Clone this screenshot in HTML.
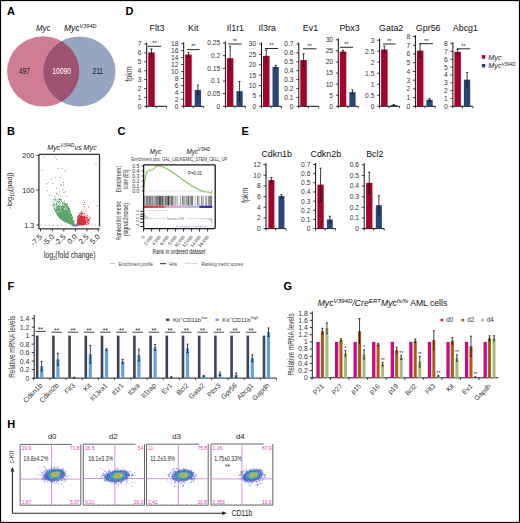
<!DOCTYPE html>
<html><head><meta charset="utf-8"><style>
html,body{margin:0;padding:0;background:#fff;}
svg{display:block;font-family:"Liberation Sans",sans-serif;}
</style></head><body>
<svg width="520" height="523" viewBox="0 0 520 523">
<defs><filter id="blur1" x="-20%" y="-40%" width="140%" height="180%"><feGaussianBlur stdDeviation="0.7"/></filter></defs>
<rect x="0" y="0" width="520" height="523" fill="#fff"/>
<text x="7" y="15" font-size="11" font-weight="bold" fill="#000">A</text>
<text x="125.5" y="15" font-size="11" font-weight="bold" fill="#000">D</text>
<text x="7" y="135" font-size="11" font-weight="bold" fill="#000">B</text>
<text x="117.6" y="135" font-size="11" font-weight="bold" fill="#000">C</text>
<text x="241.6" y="134.8" font-size="11" font-weight="bold" fill="#000">E</text>
<text x="7.6" y="290" font-size="11" font-weight="bold" fill="#000">F</text>
<text x="283.6" y="290.4" font-size="11" font-weight="bold" fill="#000">G</text>
<text x="7.2" y="427.6" font-size="11" font-weight="bold" fill="#000">H</text>
<ellipse cx="43.2" cy="71.4" rx="36.1" ry="35.2" fill="#d07d93"/>
<ellipse cx="79.4" cy="71.4" rx="36.1" ry="35.0" fill="#96a6c0"/>
<clipPath id="cpA"><ellipse cx="43.2" cy="71.4" rx="36.1" ry="35.2"/></clipPath>
<ellipse cx="79.4" cy="71.4" rx="36.1" ry="35.0" fill="#9e5271" clip-path="url(#cpA)"/>
<text x="36" y="30.5" font-size="8.5" font-style="italic" textLength="14.5" lengthAdjust="spacingAndGlyphs" fill="#111">Myc</text>
<text x="64" y="30.5" font-size="8.5" font-style="italic" fill="#111">Myc<tspan font-size="5.5" dy="-3">V394D</tspan></text>
<text x="24.4" y="74" font-size="8.2" text-anchor="middle" textLength="11.3" lengthAdjust="spacingAndGlyphs" fill="#1a1a1a">497</text>
<text x="61.6" y="74" font-size="8.2" text-anchor="middle" textLength="18.5" lengthAdjust="spacingAndGlyphs" fill="#fff">10090</text>
<text x="97.7" y="74" font-size="8.2" text-anchor="middle" textLength="10.4" lengthAdjust="spacingAndGlyphs" fill="#1a1a1a">211</text>
<line x1="146.7" y1="42.5" x2="146.7" y2="106.8" stroke="#111" stroke-width="1"/>
<line x1="146.2" y1="106.3" x2="166.7" y2="106.3" stroke="#111" stroke-width="1"/>
<line x1="146.7" y1="106.3" x2="146.7" y2="108.3" stroke="#111" stroke-width="0.8"/>
<line x1="156.2" y1="106.3" x2="156.2" y2="108.3" stroke="#111" stroke-width="0.8"/>
<line x1="166.7" y1="106.3" x2="166.7" y2="108.3" stroke="#111" stroke-width="0.8"/>
<line x1="144.2" y1="106.3" x2="146.7" y2="106.3" stroke="#111" stroke-width="0.8"/>
<text x="141.5" y="108.7" font-size="6.7" text-anchor="end" fill="#333">0</text>
<line x1="144.2" y1="97.4" x2="146.7" y2="97.4" stroke="#111" stroke-width="0.8"/>
<text x="141.5" y="99.8" font-size="6.7" text-anchor="end" fill="#333">1</text>
<line x1="144.2" y1="88.5" x2="146.7" y2="88.5" stroke="#111" stroke-width="0.8"/>
<text x="141.5" y="90.9" font-size="6.7" text-anchor="end" fill="#333">2</text>
<line x1="144.2" y1="79.6" x2="146.7" y2="79.6" stroke="#111" stroke-width="0.8"/>
<text x="141.5" y="82" font-size="6.7" text-anchor="end" fill="#333">3</text>
<line x1="144.2" y1="70.7" x2="146.7" y2="70.7" stroke="#111" stroke-width="0.8"/>
<text x="141.5" y="73.1" font-size="6.7" text-anchor="end" fill="#333">4</text>
<line x1="144.2" y1="61.8" x2="146.7" y2="61.8" stroke="#111" stroke-width="0.8"/>
<text x="141.5" y="64.2" font-size="6.7" text-anchor="end" fill="#333">5</text>
<line x1="144.2" y1="52.9" x2="146.7" y2="52.9" stroke="#111" stroke-width="0.8"/>
<text x="141.5" y="55.3" font-size="6.7" text-anchor="end" fill="#333">6</text>
<line x1="144.2" y1="44" x2="146.7" y2="44" stroke="#111" stroke-width="0.8"/>
<text x="141.5" y="46.4" font-size="6.7" text-anchor="end" fill="#333">7</text>
<rect x="148.2" y="52.45" width="6.5" height="53.84" fill="#a3042c"/>
<line x1="151.45" y1="48.89" x2="151.45" y2="56.02" stroke="#111" stroke-width="0.8"/>
<line x1="150.35" y1="48.89" x2="152.55" y2="48.89" stroke="#111" stroke-width="0.8"/>
<line x1="150.35" y1="56.02" x2="152.55" y2="56.02" stroke="#111" stroke-width="0.8"/>
<rect x="157.7" y="106.03" width="6.3" height="0.27" fill="#2a4678"/>
<line x1="147.7" y1="46.3" x2="161.2" y2="46.3" stroke="#111" stroke-width="0.9"/>
<text x="154.45" y="45.1" font-size="5.5" text-anchor="middle" fill="#111">**</text>
<text x="157" y="31.4" font-size="8.9" text-anchor="middle" fill="#111">Flt3</text>
<line x1="183.7" y1="42.2" x2="183.7" y2="106.8" stroke="#111" stroke-width="1"/>
<line x1="183.2" y1="106.3" x2="203.7" y2="106.3" stroke="#111" stroke-width="1"/>
<line x1="183.7" y1="106.3" x2="183.7" y2="108.3" stroke="#111" stroke-width="0.8"/>
<line x1="193.2" y1="106.3" x2="193.2" y2="108.3" stroke="#111" stroke-width="0.8"/>
<line x1="203.7" y1="106.3" x2="203.7" y2="108.3" stroke="#111" stroke-width="0.8"/>
<line x1="181.2" y1="106.3" x2="183.7" y2="106.3" stroke="#111" stroke-width="0.8"/>
<text x="178.5" y="108.7" font-size="6.7" text-anchor="end" fill="#333">0</text>
<line x1="181.2" y1="99.34" x2="183.7" y2="99.34" stroke="#111" stroke-width="0.8"/>
<text x="178.5" y="101.74" font-size="6.7" text-anchor="end" fill="#333">2</text>
<line x1="181.2" y1="92.39" x2="183.7" y2="92.39" stroke="#111" stroke-width="0.8"/>
<text x="178.5" y="94.79" font-size="6.7" text-anchor="end" fill="#333">4</text>
<line x1="181.2" y1="85.43" x2="183.7" y2="85.43" stroke="#111" stroke-width="0.8"/>
<text x="178.5" y="87.83" font-size="6.7" text-anchor="end" fill="#333">6</text>
<line x1="181.2" y1="78.48" x2="183.7" y2="78.48" stroke="#111" stroke-width="0.8"/>
<text x="178.5" y="80.88" font-size="6.7" text-anchor="end" fill="#333">8</text>
<line x1="181.2" y1="71.52" x2="183.7" y2="71.52" stroke="#111" stroke-width="0.8"/>
<text x="178.5" y="73.92" font-size="6.7" text-anchor="end" fill="#333">10</text>
<line x1="181.2" y1="64.57" x2="183.7" y2="64.57" stroke="#111" stroke-width="0.8"/>
<text x="178.5" y="66.97" font-size="6.7" text-anchor="end" fill="#333">12</text>
<line x1="181.2" y1="57.61" x2="183.7" y2="57.61" stroke="#111" stroke-width="0.8"/>
<text x="178.5" y="60.01" font-size="6.7" text-anchor="end" fill="#333">14</text>
<line x1="181.2" y1="50.66" x2="183.7" y2="50.66" stroke="#111" stroke-width="0.8"/>
<text x="178.5" y="53.06" font-size="6.7" text-anchor="end" fill="#333">16</text>
<line x1="181.2" y1="43.7" x2="183.7" y2="43.7" stroke="#111" stroke-width="0.8"/>
<text x="178.5" y="46.1" font-size="6.7" text-anchor="end" fill="#333">18</text>
<rect x="185.2" y="54.48" width="6.5" height="51.82" fill="#a3042c"/>
<line x1="188.45" y1="52.39" x2="188.45" y2="56.57" stroke="#111" stroke-width="0.8"/>
<line x1="187.35" y1="52.39" x2="189.55" y2="52.39" stroke="#111" stroke-width="0.8"/>
<line x1="187.35" y1="56.57" x2="189.55" y2="56.57" stroke="#111" stroke-width="0.8"/>
<rect x="194.7" y="89.95" width="6.3" height="16.35" fill="#2a4678"/>
<line x1="197.85" y1="85.09" x2="197.85" y2="94.82" stroke="#111" stroke-width="0.8"/>
<line x1="196.75" y1="85.09" x2="198.95" y2="85.09" stroke="#111" stroke-width="0.8"/>
<line x1="196.75" y1="94.82" x2="198.95" y2="94.82" stroke="#111" stroke-width="0.8"/>
<line x1="187" y1="49.6" x2="199.6" y2="49.6" stroke="#111" stroke-width="0.9"/>
<text x="193.3" y="48.4" font-size="5.5" text-anchor="middle" fill="#111">**</text>
<text x="193.2" y="31.4" font-size="8.9" text-anchor="middle" fill="#111">Kit</text>
<line x1="225.4" y1="41.5" x2="225.4" y2="106.8" stroke="#111" stroke-width="1"/>
<line x1="224.9" y1="106.3" x2="245.4" y2="106.3" stroke="#111" stroke-width="1"/>
<line x1="225.4" y1="106.3" x2="225.4" y2="108.3" stroke="#111" stroke-width="0.8"/>
<line x1="234.9" y1="106.3" x2="234.9" y2="108.3" stroke="#111" stroke-width="0.8"/>
<line x1="245.4" y1="106.3" x2="245.4" y2="108.3" stroke="#111" stroke-width="0.8"/>
<line x1="222.9" y1="106.3" x2="225.4" y2="106.3" stroke="#111" stroke-width="0.8"/>
<text x="220.2" y="108.7" font-size="6.7" text-anchor="end" fill="#333">0</text>
<line x1="222.9" y1="93.64" x2="225.4" y2="93.64" stroke="#111" stroke-width="0.8"/>
<text x="220.2" y="96.04" font-size="6.7" text-anchor="end" fill="#333">0.05</text>
<line x1="222.9" y1="80.98" x2="225.4" y2="80.98" stroke="#111" stroke-width="0.8"/>
<text x="220.2" y="83.38" font-size="6.7" text-anchor="end" fill="#333">0.1</text>
<line x1="222.9" y1="68.32" x2="225.4" y2="68.32" stroke="#111" stroke-width="0.8"/>
<text x="220.2" y="70.72" font-size="6.7" text-anchor="end" fill="#333">0.15</text>
<line x1="222.9" y1="55.66" x2="225.4" y2="55.66" stroke="#111" stroke-width="0.8"/>
<text x="220.2" y="58.06" font-size="6.7" text-anchor="end" fill="#333">0.2</text>
<line x1="222.9" y1="43" x2="225.4" y2="43" stroke="#111" stroke-width="0.8"/>
<text x="220.2" y="45.4" font-size="6.7" text-anchor="end" fill="#333">0.25</text>
<rect x="226.9" y="58.19" width="6.5" height="48.11" fill="#a3042c"/>
<line x1="230.15" y1="46.29" x2="230.15" y2="70.09" stroke="#111" stroke-width="0.8"/>
<line x1="229.05" y1="46.29" x2="231.25" y2="46.29" stroke="#111" stroke-width="0.8"/>
<line x1="229.05" y1="70.09" x2="231.25" y2="70.09" stroke="#111" stroke-width="0.8"/>
<rect x="236.4" y="91.11" width="6.3" height="15.19" fill="#2a4678"/>
<line x1="239.55" y1="81.49" x2="239.55" y2="100.73" stroke="#111" stroke-width="0.8"/>
<line x1="238.45" y1="81.49" x2="240.65" y2="81.49" stroke="#111" stroke-width="0.8"/>
<line x1="238.45" y1="100.73" x2="240.65" y2="100.73" stroke="#111" stroke-width="0.8"/>
<line x1="228" y1="44" x2="241.6" y2="44" stroke="#111" stroke-width="0.9"/>
<text x="234.8" y="42.8" font-size="5.5" text-anchor="middle" fill="#111">**</text>
<text x="235.4" y="31.4" font-size="8.9" text-anchor="middle" fill="#111">Il1r1</text>
<line x1="261.5" y1="42.5" x2="261.5" y2="106.8" stroke="#111" stroke-width="1"/>
<line x1="261" y1="106.3" x2="281.5" y2="106.3" stroke="#111" stroke-width="1"/>
<line x1="261.5" y1="106.3" x2="261.5" y2="108.3" stroke="#111" stroke-width="0.8"/>
<line x1="271" y1="106.3" x2="271" y2="108.3" stroke="#111" stroke-width="0.8"/>
<line x1="281.5" y1="106.3" x2="281.5" y2="108.3" stroke="#111" stroke-width="0.8"/>
<line x1="259" y1="106.3" x2="261.5" y2="106.3" stroke="#111" stroke-width="0.8"/>
<text x="256.3" y="108.7" font-size="6.7" text-anchor="end" fill="#333">0</text>
<line x1="259" y1="95.92" x2="261.5" y2="95.92" stroke="#111" stroke-width="0.8"/>
<text x="256.3" y="98.32" font-size="6.7" text-anchor="end" fill="#333">5</text>
<line x1="259" y1="85.53" x2="261.5" y2="85.53" stroke="#111" stroke-width="0.8"/>
<text x="256.3" y="87.93" font-size="6.7" text-anchor="end" fill="#333">10</text>
<line x1="259" y1="75.15" x2="261.5" y2="75.15" stroke="#111" stroke-width="0.8"/>
<text x="256.3" y="77.55" font-size="6.7" text-anchor="end" fill="#333">15</text>
<line x1="259" y1="64.77" x2="261.5" y2="64.77" stroke="#111" stroke-width="0.8"/>
<text x="256.3" y="67.17" font-size="6.7" text-anchor="end" fill="#333">20</text>
<line x1="259" y1="54.38" x2="261.5" y2="54.38" stroke="#111" stroke-width="0.8"/>
<text x="256.3" y="56.78" font-size="6.7" text-anchor="end" fill="#333">25</text>
<line x1="259" y1="44" x2="261.5" y2="44" stroke="#111" stroke-width="0.8"/>
<text x="256.3" y="46.4" font-size="6.7" text-anchor="end" fill="#333">30</text>
<rect x="263" y="55.84" width="6.5" height="50.46" fill="#a3042c"/>
<line x1="266.25" y1="50.02" x2="266.25" y2="61.65" stroke="#111" stroke-width="0.8"/>
<line x1="265.15" y1="50.02" x2="267.35" y2="50.02" stroke="#111" stroke-width="0.8"/>
<line x1="265.15" y1="61.65" x2="267.35" y2="61.65" stroke="#111" stroke-width="0.8"/>
<rect x="272.5" y="66.84" width="6.3" height="39.46" fill="#2a4678"/>
<line x1="275.65" y1="65.39" x2="275.65" y2="68.3" stroke="#111" stroke-width="0.8"/>
<line x1="274.55" y1="65.39" x2="276.75" y2="65.39" stroke="#111" stroke-width="0.8"/>
<line x1="274.55" y1="68.3" x2="276.75" y2="68.3" stroke="#111" stroke-width="0.8"/>
<line x1="265" y1="48.5" x2="278" y2="48.5" stroke="#111" stroke-width="0.9"/>
<text x="271.5" y="47.3" font-size="5.5" text-anchor="middle" fill="#111">**</text>
<text x="267.2" y="31.4" font-size="8.9" text-anchor="middle" fill="#111">Il3ra</text>
<line x1="298.8" y1="42.5" x2="298.8" y2="106.8" stroke="#111" stroke-width="1"/>
<line x1="298.3" y1="106.3" x2="318.8" y2="106.3" stroke="#111" stroke-width="1"/>
<line x1="298.8" y1="106.3" x2="298.8" y2="108.3" stroke="#111" stroke-width="0.8"/>
<line x1="308.3" y1="106.3" x2="308.3" y2="108.3" stroke="#111" stroke-width="0.8"/>
<line x1="318.8" y1="106.3" x2="318.8" y2="108.3" stroke="#111" stroke-width="0.8"/>
<line x1="296.3" y1="106.3" x2="298.8" y2="106.3" stroke="#111" stroke-width="0.8"/>
<text x="293.6" y="108.7" font-size="6.7" text-anchor="end" fill="#333">0</text>
<line x1="296.3" y1="97.4" x2="298.8" y2="97.4" stroke="#111" stroke-width="0.8"/>
<text x="293.6" y="99.8" font-size="6.7" text-anchor="end" fill="#333">0.1</text>
<line x1="296.3" y1="88.5" x2="298.8" y2="88.5" stroke="#111" stroke-width="0.8"/>
<text x="293.6" y="90.9" font-size="6.7" text-anchor="end" fill="#333">0.2</text>
<line x1="296.3" y1="79.6" x2="298.8" y2="79.6" stroke="#111" stroke-width="0.8"/>
<text x="293.6" y="82" font-size="6.7" text-anchor="end" fill="#333">0.3</text>
<line x1="296.3" y1="70.7" x2="298.8" y2="70.7" stroke="#111" stroke-width="0.8"/>
<text x="293.6" y="73.1" font-size="6.7" text-anchor="end" fill="#333">0.4</text>
<line x1="296.3" y1="61.8" x2="298.8" y2="61.8" stroke="#111" stroke-width="0.8"/>
<text x="293.6" y="64.2" font-size="6.7" text-anchor="end" fill="#333">0.5</text>
<line x1="296.3" y1="52.9" x2="298.8" y2="52.9" stroke="#111" stroke-width="0.8"/>
<text x="293.6" y="55.3" font-size="6.7" text-anchor="end" fill="#333">0.6</text>
<line x1="296.3" y1="44" x2="298.8" y2="44" stroke="#111" stroke-width="0.8"/>
<text x="293.6" y="46.4" font-size="6.7" text-anchor="end" fill="#333">0.7</text>
<rect x="300.3" y="60.02" width="6.5" height="46.28" fill="#a3042c"/>
<line x1="303.55" y1="53.79" x2="303.55" y2="66.25" stroke="#111" stroke-width="0.8"/>
<line x1="302.45" y1="53.79" x2="304.65" y2="53.79" stroke="#111" stroke-width="0.8"/>
<line x1="302.45" y1="66.25" x2="304.65" y2="66.25" stroke="#111" stroke-width="0.8"/>
<line x1="303" y1="48.8" x2="316.5" y2="48.8" stroke="#111" stroke-width="0.9"/>
<text x="309.75" y="47.6" font-size="5.5" text-anchor="middle" fill="#111">**</text>
<text x="310.5" y="31.4" font-size="8.9" text-anchor="middle" fill="#111">Ev1</text>
<line x1="338.3" y1="38.3" x2="338.3" y2="106.8" stroke="#111" stroke-width="1"/>
<line x1="337.8" y1="106.3" x2="358.3" y2="106.3" stroke="#111" stroke-width="1"/>
<line x1="338.3" y1="106.3" x2="338.3" y2="108.3" stroke="#111" stroke-width="0.8"/>
<line x1="347.8" y1="106.3" x2="347.8" y2="108.3" stroke="#111" stroke-width="0.8"/>
<line x1="358.3" y1="106.3" x2="358.3" y2="108.3" stroke="#111" stroke-width="0.8"/>
<line x1="335.8" y1="106.3" x2="338.3" y2="106.3" stroke="#111" stroke-width="0.8"/>
<text x="333.1" y="108.7" font-size="6.7" text-anchor="end" fill="#333">0</text>
<line x1="335.8" y1="95.22" x2="338.3" y2="95.22" stroke="#111" stroke-width="0.8"/>
<text x="333.1" y="97.62" font-size="6.7" text-anchor="end" fill="#333">5</text>
<line x1="335.8" y1="84.13" x2="338.3" y2="84.13" stroke="#111" stroke-width="0.8"/>
<text x="333.1" y="86.53" font-size="6.7" text-anchor="end" fill="#333">10</text>
<line x1="335.8" y1="73.05" x2="338.3" y2="73.05" stroke="#111" stroke-width="0.8"/>
<text x="333.1" y="75.45" font-size="6.7" text-anchor="end" fill="#333">15</text>
<line x1="335.8" y1="61.97" x2="338.3" y2="61.97" stroke="#111" stroke-width="0.8"/>
<text x="333.1" y="64.37" font-size="6.7" text-anchor="end" fill="#333">20</text>
<line x1="335.8" y1="50.88" x2="338.3" y2="50.88" stroke="#111" stroke-width="0.8"/>
<text x="333.1" y="53.28" font-size="6.7" text-anchor="end" fill="#333">25</text>
<line x1="335.8" y1="39.8" x2="338.3" y2="39.8" stroke="#111" stroke-width="0.8"/>
<text x="333.1" y="42.2" font-size="6.7" text-anchor="end" fill="#333">30</text>
<rect x="339.8" y="51.55" width="6.5" height="54.75" fill="#a3042c"/>
<line x1="343.05" y1="50.22" x2="343.05" y2="52.88" stroke="#111" stroke-width="0.8"/>
<line x1="341.95" y1="50.22" x2="344.15" y2="50.22" stroke="#111" stroke-width="0.8"/>
<line x1="341.95" y1="52.88" x2="344.15" y2="52.88" stroke="#111" stroke-width="0.8"/>
<rect x="349.3" y="92.11" width="6.3" height="14.19" fill="#2a4678"/>
<line x1="352.45" y1="89.9" x2="352.45" y2="94.33" stroke="#111" stroke-width="0.8"/>
<line x1="351.35" y1="89.9" x2="353.55" y2="89.9" stroke="#111" stroke-width="0.8"/>
<line x1="351.35" y1="94.33" x2="353.55" y2="94.33" stroke="#111" stroke-width="0.8"/>
<line x1="340" y1="47.3" x2="353" y2="47.3" stroke="#111" stroke-width="0.9"/>
<text x="346.5" y="46.1" font-size="5.5" text-anchor="middle" fill="#111">**</text>
<text x="349.5" y="31.4" font-size="8.9" text-anchor="middle" fill="#111">Pbx3</text>
<line x1="379.6" y1="38.7" x2="379.6" y2="106.8" stroke="#111" stroke-width="1"/>
<line x1="379.1" y1="106.3" x2="399.6" y2="106.3" stroke="#111" stroke-width="1"/>
<line x1="379.6" y1="106.3" x2="379.6" y2="108.3" stroke="#111" stroke-width="0.8"/>
<line x1="389.1" y1="106.3" x2="389.1" y2="108.3" stroke="#111" stroke-width="0.8"/>
<line x1="399.6" y1="106.3" x2="399.6" y2="108.3" stroke="#111" stroke-width="0.8"/>
<line x1="377.1" y1="106.3" x2="379.6" y2="106.3" stroke="#111" stroke-width="0.8"/>
<text x="374.4" y="108.7" font-size="6.7" text-anchor="end" fill="#333">0</text>
<line x1="377.1" y1="95.28" x2="379.6" y2="95.28" stroke="#111" stroke-width="0.8"/>
<text x="374.4" y="97.68" font-size="6.7" text-anchor="end" fill="#333">0.5</text>
<line x1="377.1" y1="84.27" x2="379.6" y2="84.27" stroke="#111" stroke-width="0.8"/>
<text x="374.4" y="86.67" font-size="6.7" text-anchor="end" fill="#333">1</text>
<line x1="377.1" y1="73.25" x2="379.6" y2="73.25" stroke="#111" stroke-width="0.8"/>
<text x="374.4" y="75.65" font-size="6.7" text-anchor="end" fill="#333">1.5</text>
<line x1="377.1" y1="62.23" x2="379.6" y2="62.23" stroke="#111" stroke-width="0.8"/>
<text x="374.4" y="64.63" font-size="6.7" text-anchor="end" fill="#333">2</text>
<line x1="377.1" y1="51.22" x2="379.6" y2="51.22" stroke="#111" stroke-width="0.8"/>
<text x="374.4" y="53.62" font-size="6.7" text-anchor="end" fill="#333">2.5</text>
<line x1="377.1" y1="40.2" x2="379.6" y2="40.2" stroke="#111" stroke-width="0.8"/>
<text x="374.4" y="42.6" font-size="6.7" text-anchor="end" fill="#333">3</text>
<rect x="381.1" y="49.45" width="6.5" height="56.85" fill="#a3042c"/>
<line x1="384.35" y1="46.15" x2="384.35" y2="52.76" stroke="#111" stroke-width="0.8"/>
<line x1="383.25" y1="46.15" x2="385.45" y2="46.15" stroke="#111" stroke-width="0.8"/>
<line x1="383.25" y1="52.76" x2="385.45" y2="52.76" stroke="#111" stroke-width="0.8"/>
<rect x="390.6" y="104.98" width="6.3" height="1.32" fill="#2a4678"/>
<line x1="393.75" y1="104.54" x2="393.75" y2="105.42" stroke="#111" stroke-width="0.8"/>
<line x1="392.65" y1="104.54" x2="394.85" y2="104.54" stroke="#111" stroke-width="0.8"/>
<line x1="392.65" y1="105.42" x2="394.85" y2="105.42" stroke="#111" stroke-width="0.8"/>
<line x1="383" y1="44" x2="395.6" y2="44" stroke="#111" stroke-width="0.9"/>
<text x="389.3" y="42.8" font-size="5.5" text-anchor="middle" fill="#111">**</text>
<text x="391.2" y="31.4" font-size="8.9" text-anchor="middle" fill="#111">Gata2</text>
<line x1="415.4" y1="35.1" x2="415.4" y2="106.8" stroke="#111" stroke-width="1"/>
<line x1="414.9" y1="106.3" x2="435.4" y2="106.3" stroke="#111" stroke-width="1"/>
<line x1="415.4" y1="106.3" x2="415.4" y2="108.3" stroke="#111" stroke-width="0.8"/>
<line x1="424.9" y1="106.3" x2="424.9" y2="108.3" stroke="#111" stroke-width="0.8"/>
<line x1="435.4" y1="106.3" x2="435.4" y2="108.3" stroke="#111" stroke-width="0.8"/>
<line x1="412.9" y1="106.3" x2="415.4" y2="106.3" stroke="#111" stroke-width="0.8"/>
<text x="410.2" y="108.7" font-size="6.7" text-anchor="end" fill="#333">0</text>
<line x1="412.9" y1="97.59" x2="415.4" y2="97.59" stroke="#111" stroke-width="0.8"/>
<text x="410.2" y="99.99" font-size="6.7" text-anchor="end" fill="#333">1</text>
<line x1="412.9" y1="88.88" x2="415.4" y2="88.88" stroke="#111" stroke-width="0.8"/>
<text x="410.2" y="91.28" font-size="6.7" text-anchor="end" fill="#333">2</text>
<line x1="412.9" y1="80.16" x2="415.4" y2="80.16" stroke="#111" stroke-width="0.8"/>
<text x="410.2" y="82.56" font-size="6.7" text-anchor="end" fill="#333">3</text>
<line x1="412.9" y1="71.45" x2="415.4" y2="71.45" stroke="#111" stroke-width="0.8"/>
<text x="410.2" y="73.85" font-size="6.7" text-anchor="end" fill="#333">4</text>
<line x1="412.9" y1="62.74" x2="415.4" y2="62.74" stroke="#111" stroke-width="0.8"/>
<text x="410.2" y="65.14" font-size="6.7" text-anchor="end" fill="#333">5</text>
<line x1="412.9" y1="54.03" x2="415.4" y2="54.03" stroke="#111" stroke-width="0.8"/>
<text x="410.2" y="56.43" font-size="6.7" text-anchor="end" fill="#333">6</text>
<line x1="412.9" y1="45.31" x2="415.4" y2="45.31" stroke="#111" stroke-width="0.8"/>
<text x="410.2" y="47.71" font-size="6.7" text-anchor="end" fill="#333">7</text>
<line x1="412.9" y1="36.6" x2="415.4" y2="36.6" stroke="#111" stroke-width="0.8"/>
<text x="410.2" y="39" font-size="6.7" text-anchor="end" fill="#333">8</text>
<rect x="416.9" y="50.54" width="6.5" height="55.76" fill="#a3042c"/>
<line x1="420.15" y1="44.01" x2="420.15" y2="57.07" stroke="#111" stroke-width="0.8"/>
<line x1="419.05" y1="44.01" x2="421.25" y2="44.01" stroke="#111" stroke-width="0.8"/>
<line x1="419.05" y1="57.07" x2="421.25" y2="57.07" stroke="#111" stroke-width="0.8"/>
<rect x="426.4" y="99.77" width="6.3" height="6.53" fill="#2a4678"/>
<line x1="429.55" y1="98.46" x2="429.55" y2="101.07" stroke="#111" stroke-width="0.8"/>
<line x1="428.45" y1="98.46" x2="430.65" y2="98.46" stroke="#111" stroke-width="0.8"/>
<line x1="428.45" y1="101.07" x2="430.65" y2="101.07" stroke="#111" stroke-width="0.8"/>
<line x1="420" y1="43.7" x2="433" y2="43.7" stroke="#111" stroke-width="0.9"/>
<text x="426.5" y="42.5" font-size="5.5" text-anchor="middle" fill="#111">**</text>
<text x="428.2" y="31.4" font-size="8.9" text-anchor="middle" fill="#111">Gpr56</text>
<line x1="452.9" y1="42.1" x2="452.9" y2="106.8" stroke="#111" stroke-width="1"/>
<line x1="452.4" y1="106.3" x2="472.9" y2="106.3" stroke="#111" stroke-width="1"/>
<line x1="452.9" y1="106.3" x2="452.9" y2="108.3" stroke="#111" stroke-width="0.8"/>
<line x1="462.4" y1="106.3" x2="462.4" y2="108.3" stroke="#111" stroke-width="0.8"/>
<line x1="472.9" y1="106.3" x2="472.9" y2="108.3" stroke="#111" stroke-width="0.8"/>
<line x1="450.4" y1="106.3" x2="452.9" y2="106.3" stroke="#111" stroke-width="0.8"/>
<text x="447.7" y="108.7" font-size="6.7" text-anchor="end" fill="#333">0</text>
<line x1="450.4" y1="98.46" x2="452.9" y2="98.46" stroke="#111" stroke-width="0.8"/>
<text x="447.7" y="100.86" font-size="6.7" text-anchor="end" fill="#333">1</text>
<line x1="450.4" y1="90.62" x2="452.9" y2="90.62" stroke="#111" stroke-width="0.8"/>
<text x="447.7" y="93.03" font-size="6.7" text-anchor="end" fill="#333">2</text>
<line x1="450.4" y1="82.79" x2="452.9" y2="82.79" stroke="#111" stroke-width="0.8"/>
<text x="447.7" y="85.19" font-size="6.7" text-anchor="end" fill="#333">3</text>
<line x1="450.4" y1="74.95" x2="452.9" y2="74.95" stroke="#111" stroke-width="0.8"/>
<text x="447.7" y="77.35" font-size="6.7" text-anchor="end" fill="#333">4</text>
<line x1="450.4" y1="67.11" x2="452.9" y2="67.11" stroke="#111" stroke-width="0.8"/>
<text x="447.7" y="69.51" font-size="6.7" text-anchor="end" fill="#333">5</text>
<line x1="450.4" y1="59.27" x2="452.9" y2="59.27" stroke="#111" stroke-width="0.8"/>
<text x="447.7" y="61.67" font-size="6.7" text-anchor="end" fill="#333">6</text>
<line x1="450.4" y1="51.44" x2="452.9" y2="51.44" stroke="#111" stroke-width="0.8"/>
<text x="447.7" y="53.84" font-size="6.7" text-anchor="end" fill="#333">7</text>
<line x1="450.4" y1="43.6" x2="452.9" y2="43.6" stroke="#111" stroke-width="0.8"/>
<text x="447.7" y="46" font-size="6.7" text-anchor="end" fill="#333">8</text>
<rect x="454.4" y="51.83" width="6.5" height="54.47" fill="#a3042c"/>
<line x1="457.65" y1="49.48" x2="457.65" y2="54.18" stroke="#111" stroke-width="0.8"/>
<line x1="456.55" y1="49.48" x2="458.75" y2="49.48" stroke="#111" stroke-width="0.8"/>
<line x1="456.55" y1="54.18" x2="458.75" y2="54.18" stroke="#111" stroke-width="0.8"/>
<rect x="463.9" y="79.65" width="6.3" height="26.65" fill="#2a4678"/>
<line x1="467.05" y1="72.6" x2="467.05" y2="86.71" stroke="#111" stroke-width="0.8"/>
<line x1="465.95" y1="72.6" x2="468.15" y2="72.6" stroke="#111" stroke-width="0.8"/>
<line x1="465.95" y1="86.71" x2="468.15" y2="86.71" stroke="#111" stroke-width="0.8"/>
<line x1="457" y1="48.8" x2="470" y2="48.8" stroke="#111" stroke-width="0.9"/>
<text x="463.5" y="47.6" font-size="5.5" text-anchor="middle" fill="#111">**</text>
<text x="465.4" y="31.4" font-size="8.9" text-anchor="middle" fill="#111">Abcg1</text>
<text transform="translate(131.9,74.1) rotate(-90)" font-size="9.4" text-anchor="middle" fill="#333" textLength="15.4" lengthAdjust="spacingAndGlyphs">fpkm</text>
<rect x="481.8" y="55.1" width="3.5" height="3.6" fill="#a3042c"/>
<rect x="481.8" y="64" width="3.5" height="3.4" fill="#2a4678"/>
<text x="488.3" y="60.3" font-size="7.2" font-style="italic" fill="#222">Myc</text>
<text x="488.3" y="68.3" font-size="7.2" font-style="italic" fill="#222">Myc<tspan font-size="4.6" dy="-2.6">V394D</tspan></text>
<line x1="266" y1="163.1" x2="266" y2="229.1" stroke="#111" stroke-width="1"/>
<line x1="265.5" y1="228.6" x2="286" y2="228.6" stroke="#111" stroke-width="1"/>
<line x1="266" y1="228.6" x2="266" y2="230.6" stroke="#111" stroke-width="0.8"/>
<line x1="275.5" y1="228.6" x2="275.5" y2="230.6" stroke="#111" stroke-width="0.8"/>
<line x1="286" y1="228.6" x2="286" y2="230.6" stroke="#111" stroke-width="0.8"/>
<line x1="263.5" y1="228.6" x2="266" y2="228.6" stroke="#111" stroke-width="0.8"/>
<text x="260.8" y="231" font-size="6.7" text-anchor="end" fill="#333">0</text>
<line x1="263.5" y1="217.93" x2="266" y2="217.93" stroke="#111" stroke-width="0.8"/>
<text x="260.8" y="220.33" font-size="6.7" text-anchor="end" fill="#333">2</text>
<line x1="263.5" y1="207.27" x2="266" y2="207.27" stroke="#111" stroke-width="0.8"/>
<text x="260.8" y="209.67" font-size="6.7" text-anchor="end" fill="#333">4</text>
<line x1="263.5" y1="196.6" x2="266" y2="196.6" stroke="#111" stroke-width="0.8"/>
<text x="260.8" y="199" font-size="6.7" text-anchor="end" fill="#333">6</text>
<line x1="263.5" y1="185.93" x2="266" y2="185.93" stroke="#111" stroke-width="0.8"/>
<text x="260.8" y="188.33" font-size="6.7" text-anchor="end" fill="#333">8</text>
<line x1="263.5" y1="175.27" x2="266" y2="175.27" stroke="#111" stroke-width="0.8"/>
<text x="260.8" y="177.67" font-size="6.7" text-anchor="end" fill="#333">10</text>
<line x1="263.5" y1="164.6" x2="266" y2="164.6" stroke="#111" stroke-width="0.8"/>
<text x="260.8" y="167" font-size="6.7" text-anchor="end" fill="#333">12</text>
<rect x="268.4" y="180.07" width="6" height="48.53" fill="#a3042c"/>
<line x1="271.4" y1="177.4" x2="271.4" y2="182.73" stroke="#111" stroke-width="0.8"/>
<line x1="270.3" y1="177.4" x2="272.5" y2="177.4" stroke="#111" stroke-width="0.8"/>
<line x1="270.3" y1="182.73" x2="272.5" y2="182.73" stroke="#111" stroke-width="0.8"/>
<rect x="278.4" y="196.07" width="6" height="32.53" fill="#2a4678"/>
<line x1="281.4" y1="194.73" x2="281.4" y2="197.4" stroke="#111" stroke-width="0.8"/>
<line x1="280.3" y1="194.73" x2="282.5" y2="194.73" stroke="#111" stroke-width="0.8"/>
<line x1="280.3" y1="197.4" x2="282.5" y2="197.4" stroke="#111" stroke-width="0.8"/>
<text x="276.7" y="156.6" font-size="8.9" text-anchor="middle" fill="#111">Cdkn1b</text>
<line x1="315.6" y1="163" x2="315.6" y2="229.1" stroke="#111" stroke-width="1"/>
<line x1="315.1" y1="228.6" x2="335.6" y2="228.6" stroke="#111" stroke-width="1"/>
<line x1="315.6" y1="228.6" x2="315.6" y2="230.6" stroke="#111" stroke-width="0.8"/>
<line x1="325.1" y1="228.6" x2="325.1" y2="230.6" stroke="#111" stroke-width="0.8"/>
<line x1="335.6" y1="228.6" x2="335.6" y2="230.6" stroke="#111" stroke-width="0.8"/>
<line x1="313.1" y1="228.6" x2="315.6" y2="228.6" stroke="#111" stroke-width="0.8"/>
<text x="310.4" y="231" font-size="6.7" text-anchor="end" fill="#333">0</text>
<line x1="313.1" y1="219.44" x2="315.6" y2="219.44" stroke="#111" stroke-width="0.8"/>
<text x="310.4" y="221.84" font-size="6.7" text-anchor="end" fill="#333">0.1</text>
<line x1="313.1" y1="210.29" x2="315.6" y2="210.29" stroke="#111" stroke-width="0.8"/>
<text x="310.4" y="212.69" font-size="6.7" text-anchor="end" fill="#333">0.2</text>
<line x1="313.1" y1="201.13" x2="315.6" y2="201.13" stroke="#111" stroke-width="0.8"/>
<text x="310.4" y="203.53" font-size="6.7" text-anchor="end" fill="#333">0.3</text>
<line x1="313.1" y1="191.97" x2="315.6" y2="191.97" stroke="#111" stroke-width="0.8"/>
<text x="310.4" y="194.37" font-size="6.7" text-anchor="end" fill="#333">0.4</text>
<line x1="313.1" y1="182.81" x2="315.6" y2="182.81" stroke="#111" stroke-width="0.8"/>
<text x="310.4" y="185.21" font-size="6.7" text-anchor="end" fill="#333">0.5</text>
<line x1="313.1" y1="173.66" x2="315.6" y2="173.66" stroke="#111" stroke-width="0.8"/>
<text x="310.4" y="176.06" font-size="6.7" text-anchor="end" fill="#333">0.6</text>
<line x1="313.1" y1="164.5" x2="315.6" y2="164.5" stroke="#111" stroke-width="0.8"/>
<text x="310.4" y="166.9" font-size="6.7" text-anchor="end" fill="#333">0.7</text>
<rect x="317.4" y="184.65" width="6.3" height="43.95" fill="#a3042c"/>
<line x1="320.55" y1="168.16" x2="320.55" y2="201.13" stroke="#111" stroke-width="0.8"/>
<line x1="319.45" y1="168.16" x2="321.65" y2="168.16" stroke="#111" stroke-width="0.8"/>
<line x1="319.45" y1="201.13" x2="321.65" y2="201.13" stroke="#111" stroke-width="0.8"/>
<rect x="326.9" y="219.44" width="5.9" height="9.16" fill="#2a4678"/>
<line x1="329.85" y1="216.24" x2="329.85" y2="222.65" stroke="#111" stroke-width="0.8"/>
<line x1="328.75" y1="216.24" x2="330.95" y2="216.24" stroke="#111" stroke-width="0.8"/>
<line x1="328.75" y1="222.65" x2="330.95" y2="222.65" stroke="#111" stroke-width="0.8"/>
<text x="325.8" y="156.6" font-size="8.9" text-anchor="middle" fill="#111">Cdkn2b</text>
<line x1="364.2" y1="163.3" x2="364.2" y2="229.1" stroke="#111" stroke-width="1"/>
<line x1="363.7" y1="228.6" x2="384.2" y2="228.6" stroke="#111" stroke-width="1"/>
<line x1="364.2" y1="228.6" x2="364.2" y2="230.6" stroke="#111" stroke-width="0.8"/>
<line x1="373.7" y1="228.6" x2="373.7" y2="230.6" stroke="#111" stroke-width="0.8"/>
<line x1="384.2" y1="228.6" x2="384.2" y2="230.6" stroke="#111" stroke-width="0.8"/>
<line x1="361.7" y1="228.6" x2="364.2" y2="228.6" stroke="#111" stroke-width="0.8"/>
<text x="359" y="231" font-size="6.7" text-anchor="end" fill="#333">0</text>
<line x1="361.7" y1="217.97" x2="364.2" y2="217.97" stroke="#111" stroke-width="0.8"/>
<text x="359" y="220.37" font-size="6.7" text-anchor="end" fill="#333">0.1</text>
<line x1="361.7" y1="207.33" x2="364.2" y2="207.33" stroke="#111" stroke-width="0.8"/>
<text x="359" y="209.73" font-size="6.7" text-anchor="end" fill="#333">0.2</text>
<line x1="361.7" y1="196.7" x2="364.2" y2="196.7" stroke="#111" stroke-width="0.8"/>
<text x="359" y="199.1" font-size="6.7" text-anchor="end" fill="#333">0.3</text>
<line x1="361.7" y1="186.07" x2="364.2" y2="186.07" stroke="#111" stroke-width="0.8"/>
<text x="359" y="188.47" font-size="6.7" text-anchor="end" fill="#333">0.4</text>
<line x1="361.7" y1="175.43" x2="364.2" y2="175.43" stroke="#111" stroke-width="0.8"/>
<text x="359" y="177.83" font-size="6.7" text-anchor="end" fill="#333">0.5</text>
<line x1="361.7" y1="164.8" x2="364.2" y2="164.8" stroke="#111" stroke-width="0.8"/>
<text x="359" y="167.2" font-size="6.7" text-anchor="end" fill="#333">0.6</text>
<rect x="366.1" y="182.88" width="6.3" height="45.72" fill="#a3042c"/>
<line x1="369.25" y1="172.24" x2="369.25" y2="193.51" stroke="#111" stroke-width="0.8"/>
<line x1="368.15" y1="172.24" x2="370.35" y2="172.24" stroke="#111" stroke-width="0.8"/>
<line x1="368.15" y1="193.51" x2="370.35" y2="193.51" stroke="#111" stroke-width="0.8"/>
<rect x="375.8" y="205.21" width="6.1" height="23.39" fill="#2a4678"/>
<line x1="378.85" y1="195.64" x2="378.85" y2="214.78" stroke="#111" stroke-width="0.8"/>
<line x1="377.75" y1="195.64" x2="379.95" y2="195.64" stroke="#111" stroke-width="0.8"/>
<line x1="377.75" y1="214.78" x2="379.95" y2="214.78" stroke="#111" stroke-width="0.8"/>
<text x="374.8" y="156.6" font-size="8.9" text-anchor="middle" fill="#111">Bcl2</text>
<text transform="translate(248.4,195.4) rotate(-90)" font-size="9.4" text-anchor="middle" fill="#333" textLength="15.4" lengthAdjust="spacingAndGlyphs">fpkm</text>
<line x1="38.9" y1="154.3" x2="99.5" y2="154.3" stroke="#333" stroke-width="1.3"/>
<line x1="38.9" y1="154.3" x2="38.9" y2="228.9" stroke="#333" stroke-width="1.3"/>
<line x1="99.5" y1="154.3" x2="99.5" y2="226.5" stroke="#333" stroke-width="1.3"/>
<line x1="38.9" y1="228.9" x2="99.5" y2="228.9" stroke="#333" stroke-width="1.3"/>
<line x1="40.5" y1="228.9" x2="40.5" y2="231.4" stroke="#333" stroke-width="1"/>
<text transform="translate(42.8,237.2) rotate(-45)" font-size="7.5" text-anchor="end" fill="#222">-7.5</text>
<line x1="52.3" y1="228.9" x2="52.3" y2="231.4" stroke="#333" stroke-width="1"/>
<text transform="translate(54.6,237.2) rotate(-45)" font-size="7.5" text-anchor="end" fill="#222">-5.0</text>
<line x1="63.8" y1="228.9" x2="63.8" y2="231.4" stroke="#333" stroke-width="1"/>
<text transform="translate(66.1,237.2) rotate(-45)" font-size="7.5" text-anchor="end" fill="#222">-2.5</text>
<line x1="75.4" y1="228.9" x2="75.4" y2="231.4" stroke="#333" stroke-width="1"/>
<text transform="translate(77.7,237.2) rotate(-45)" font-size="7.5" text-anchor="end" fill="#222">0.0</text>
<line x1="86.9" y1="228.9" x2="86.9" y2="231.4" stroke="#333" stroke-width="1"/>
<text transform="translate(89.2,237.2) rotate(-45)" font-size="7.5" text-anchor="end" fill="#222">2.5</text>
<line x1="98.2" y1="228.9" x2="98.2" y2="231.4" stroke="#333" stroke-width="1"/>
<text transform="translate(100.5,237.2) rotate(-45)" font-size="7.5" text-anchor="end" fill="#222">5.0</text>
<line x1="36.4" y1="155.4" x2="38.9" y2="155.4" stroke="#333" stroke-width="1"/>
<text x="34.3" y="157.9" font-size="7.2" text-anchor="end" fill="#222">200</text>
<line x1="36.4" y1="190" x2="38.9" y2="190" stroke="#333" stroke-width="1"/>
<text x="34.3" y="192.5" font-size="7.2" text-anchor="end" fill="#222">100</text>
<line x1="36.4" y1="225" x2="38.9" y2="225" stroke="#333" stroke-width="1"/>
<text x="34.3" y="227.5" font-size="7.2" text-anchor="end" fill="#222">1.3</text>
<line x1="39.9" y1="225.2" x2="98.5" y2="225.2" stroke="#d2d2d2" stroke-width="1.2" stroke-dasharray="2,2.2"/>
<polygon fill="#5ba46b" points="56.0,214.0 60.0,219.0 65.0,222.3 71.0,224.7 75.2,225.2 73.5,221.0 72.5,219.5 70.5,215.5 68.5,212.0 66.0,210.5 62.0,211.5 58.0,212.5"/>
<polygon fill="#d4303f" points="76.5,225.0 77.2,221.0 78.5,217.3 80.0,216.0 83.0,216.0 85.0,218.0 86.9,222.0 86.0,224.5 82.0,225.4"/>
<ellipse cx="75.3" cy="225.6" rx="3.7" ry="1.0" fill="#6a88d0"/>
<rect x="58.6" y="206.8" width="0.9" height="0.9" fill="#4a985a"/>
<rect x="62.3" y="208.6" width="0.9" height="0.9" fill="#4a985a"/>
<rect x="63.3" y="206.2" width="0.9" height="0.9" fill="#4a985a"/>
<rect x="62.6" y="203.0" width="0.9" height="0.9" fill="#4a985a"/>
<rect x="58.1" y="208.2" width="0.9" height="0.9" fill="#4a985a"/>
<rect x="66.6" y="207.1" width="0.9" height="0.9" fill="#4a985a"/>
<rect x="60.4" y="208.9" width="0.9" height="0.9" fill="#4a985a"/>
<rect x="58.3" y="210.1" width="0.9" height="0.9" fill="#4a985a"/>
<rect x="58.6" y="211.8" width="0.9" height="0.9" fill="#4a985a"/>
<rect x="63.2" y="206.0" width="0.9" height="0.9" fill="#4a985a"/>
<rect x="60.8" y="199.3" width="0.9" height="0.9" fill="#4a985a"/>
<rect x="61.6" y="209.8" width="0.9" height="0.9" fill="#4a985a"/>
<rect x="58.9" y="209.9" width="0.9" height="0.9" fill="#4a985a"/>
<rect x="59.8" y="199.2" width="0.9" height="0.9" fill="#4a985a"/>
<rect x="58.7" y="198.0" width="0.9" height="0.9" fill="#4a985a"/>
<rect x="53.5" y="205.5" width="0.9" height="0.9" fill="#4a985a"/>
<rect x="60.5" y="200.3" width="0.9" height="0.9" fill="#4a985a"/>
<rect x="60.1" y="206.0" width="0.9" height="0.9" fill="#4a985a"/>
<rect x="56.3" y="212.6" width="0.9" height="0.9" fill="#4a985a"/>
<rect x="66.1" y="208.0" width="0.9" height="0.9" fill="#4a985a"/>
<rect x="52.4" y="201.4" width="0.9" height="0.9" fill="#4a985a"/>
<rect x="66.0" y="207.6" width="0.9" height="0.9" fill="#4a985a"/>
<rect x="70.1" y="213.0" width="0.9" height="0.9" fill="#4a985a"/>
<rect x="53.3" y="204.3" width="0.9" height="0.9" fill="#4a985a"/>
<rect x="62.0" y="210.0" width="0.9" height="0.9" fill="#4a985a"/>
<rect x="67.7" y="211.0" width="0.9" height="0.9" fill="#4a985a"/>
<rect x="60.6" y="206.4" width="0.9" height="0.9" fill="#4a985a"/>
<rect x="71.0" y="214.4" width="0.9" height="0.9" fill="#4a985a"/>
<rect x="57.6" y="205.1" width="0.9" height="0.9" fill="#4a985a"/>
<rect x="61.1" y="205.9" width="0.9" height="0.9" fill="#4a985a"/>
<rect x="54.0" y="208.4" width="0.9" height="0.9" fill="#4a985a"/>
<rect x="64.0" y="200.5" width="0.9" height="0.9" fill="#4a985a"/>
<rect x="57.5" y="206.7" width="0.9" height="0.9" fill="#4a985a"/>
<rect x="55.3" y="210.6" width="0.9" height="0.9" fill="#4a985a"/>
<rect x="64.1" y="210.2" width="0.9" height="0.9" fill="#4a985a"/>
<rect x="71.0" y="215.1" width="0.9" height="0.9" fill="#4a985a"/>
<rect x="55.0" y="198.2" width="0.9" height="0.9" fill="#4a985a"/>
<rect x="53.9" y="207.1" width="0.9" height="0.9" fill="#4a985a"/>
<rect x="54.5" y="211.3" width="0.9" height="0.9" fill="#4a985a"/>
<rect x="57.3" y="204.8" width="0.9" height="0.9" fill="#4a985a"/>
<rect x="62.2" y="204.7" width="0.9" height="0.9" fill="#4a985a"/>
<rect x="70.8" y="215.3" width="0.9" height="0.9" fill="#4a985a"/>
<rect x="58.0" y="211.5" width="0.9" height="0.9" fill="#4a985a"/>
<rect x="58.9" y="203.6" width="0.9" height="0.9" fill="#4a985a"/>
<rect x="57.7" y="209.6" width="0.9" height="0.9" fill="#4a985a"/>
<rect x="58.5" y="200.8" width="0.9" height="0.9" fill="#4a985a"/>
<rect x="65.3" y="203.0" width="0.9" height="0.9" fill="#4a985a"/>
<rect x="66.3" y="210.2" width="0.9" height="0.9" fill="#4a985a"/>
<rect x="63.9" y="204.2" width="0.9" height="0.9" fill="#4a985a"/>
<rect x="57.3" y="208.6" width="0.9" height="0.9" fill="#4a985a"/>
<rect x="63.8" y="207.0" width="0.9" height="0.9" fill="#4a985a"/>
<rect x="56.5" y="203.2" width="0.9" height="0.9" fill="#4a985a"/>
<rect x="61.3" y="201.0" width="0.9" height="0.9" fill="#4a985a"/>
<rect x="67.0" y="204.0" width="0.9" height="0.9" fill="#4a985a"/>
<rect x="69.4" y="212.9" width="0.9" height="0.9" fill="#4a985a"/>
<rect x="59.5" y="207.7" width="0.9" height="0.9" fill="#4a985a"/>
<rect x="71.7" y="216.5" width="0.9" height="0.9" fill="#4a985a"/>
<rect x="68.2" y="210.0" width="0.9" height="0.9" fill="#4a985a"/>
<rect x="57.7" y="206.3" width="0.9" height="0.9" fill="#4a985a"/>
<rect x="55.9" y="208.8" width="0.9" height="0.9" fill="#4a985a"/>
<rect x="57.4" y="206.1" width="0.9" height="0.9" fill="#4a985a"/>
<rect x="54.2" y="209.1" width="0.9" height="0.9" fill="#4a985a"/>
<rect x="68.2" y="208.8" width="0.9" height="0.9" fill="#4a985a"/>
<rect x="64.7" y="203.9" width="0.9" height="0.9" fill="#4a985a"/>
<rect x="71.2" y="214.8" width="0.9" height="0.9" fill="#4a985a"/>
<rect x="61.6" y="209.7" width="0.9" height="0.9" fill="#4a985a"/>
<rect x="58.7" y="210.7" width="0.9" height="0.9" fill="#4a985a"/>
<rect x="56.5" y="207.9" width="0.9" height="0.9" fill="#4a985a"/>
<rect x="55.6" y="199.5" width="0.9" height="0.9" fill="#4a985a"/>
<rect x="74.4" y="223.7" width="0.9" height="0.9" fill="#4a985a"/>
<rect x="70.8" y="214.9" width="0.9" height="0.9" fill="#4a985a"/>
<rect x="59.7" y="210.0" width="0.9" height="0.9" fill="#4a985a"/>
<rect x="56.0" y="205.6" width="0.9" height="0.9" fill="#4a985a"/>
<rect x="65.3" y="209.8" width="0.9" height="0.9" fill="#4a985a"/>
<rect x="68.5" y="207.9" width="0.9" height="0.9" fill="#4a985a"/>
<rect x="60.6" y="209.8" width="0.9" height="0.9" fill="#4a985a"/>
<rect x="63.5" y="208.2" width="0.9" height="0.9" fill="#4a985a"/>
<rect x="56.2" y="211.4" width="0.9" height="0.9" fill="#4a985a"/>
<rect x="64.3" y="203.1" width="0.9" height="0.9" fill="#4a985a"/>
<rect x="55.0" y="199.5" width="0.9" height="0.9" fill="#4a985a"/>
<rect x="62.3" y="203.7" width="0.9" height="0.9" fill="#4a985a"/>
<rect x="56.0" y="212.5" width="0.9" height="0.9" fill="#4a985a"/>
<rect x="56.1" y="209.9" width="0.9" height="0.9" fill="#4a985a"/>
<rect x="59.8" y="205.1" width="0.9" height="0.9" fill="#4a985a"/>
<rect x="71.2" y="215.4" width="0.9" height="0.9" fill="#4a985a"/>
<rect x="66.2" y="205.0" width="0.9" height="0.9" fill="#4a985a"/>
<rect x="63.0" y="210.1" width="0.9" height="0.9" fill="#4a985a"/>
<rect x="72.1" y="217.9" width="0.9" height="0.9" fill="#4a985a"/>
<rect x="66.7" y="206.7" width="0.9" height="0.9" fill="#4a985a"/>
<rect x="69.0" y="208.4" width="0.9" height="0.9" fill="#4a985a"/>
<rect x="55.9" y="201.5" width="0.9" height="0.9" fill="#4a985a"/>
<rect x="68.8" y="208.7" width="0.9" height="0.9" fill="#4a985a"/>
<rect x="66.2" y="207.3" width="0.9" height="0.9" fill="#4a985a"/>
<rect x="71.7" y="218.2" width="0.9" height="0.9" fill="#4a985a"/>
<rect x="67.8" y="209.3" width="0.9" height="0.9" fill="#4a985a"/>
<rect x="57.9" y="209.1" width="0.9" height="0.9" fill="#4a985a"/>
<rect x="54.8" y="210.3" width="0.9" height="0.9" fill="#4a985a"/>
<rect x="61.9" y="209.9" width="0.9" height="0.9" fill="#4a985a"/>
<rect x="63.3" y="205.9" width="0.9" height="0.9" fill="#4a985a"/>
<rect x="62.0" y="206.2" width="0.9" height="0.9" fill="#4a985a"/>
<rect x="57.0" y="211.0" width="0.9" height="0.9" fill="#4a985a"/>
<rect x="69.9" y="214.7" width="0.9" height="0.9" fill="#4a985a"/>
<rect x="54.0" y="204.3" width="0.9" height="0.9" fill="#4a985a"/>
<rect x="69.5" y="213.4" width="0.9" height="0.9" fill="#4a985a"/>
<rect x="69.1" y="209.4" width="0.9" height="0.9" fill="#4a985a"/>
<rect x="67.6" y="207.3" width="0.9" height="0.9" fill="#4a985a"/>
<rect x="52.7" y="205.4" width="0.9" height="0.9" fill="#4a985a"/>
<rect x="63.2" y="210.3" width="0.9" height="0.9" fill="#4a985a"/>
<rect x="68.7" y="211.1" width="0.9" height="0.9" fill="#4a985a"/>
<rect x="68.2" y="207.9" width="0.9" height="0.9" fill="#4a985a"/>
<rect x="65.8" y="205.5" width="0.9" height="0.9" fill="#4a985a"/>
<rect x="58.2" y="202.1" width="0.9" height="0.9" fill="#4a985a"/>
<rect x="67.5" y="208.8" width="0.9" height="0.9" fill="#4a985a"/>
<rect x="58.2" y="207.7" width="0.9" height="0.9" fill="#4a985a"/>
<rect x="62.0" y="207.8" width="0.9" height="0.9" fill="#4a985a"/>
<rect x="60.7" y="207.2" width="0.9" height="0.9" fill="#4a985a"/>
<rect x="56.0" y="203.1" width="0.9" height="0.9" fill="#4a985a"/>
<rect x="55.3" y="210.2" width="0.9" height="0.9" fill="#4a985a"/>
<rect x="66.1" y="205.5" width="0.9" height="0.9" fill="#4a985a"/>
<rect x="69.5" y="210.3" width="0.9" height="0.9" fill="#4a985a"/>
<rect x="72.1" y="217.5" width="0.9" height="0.9" fill="#4a985a"/>
<rect x="68.7" y="210.7" width="0.9" height="0.9" fill="#4a985a"/>
<rect x="61.9" y="208.4" width="0.9" height="0.9" fill="#4a985a"/>
<rect x="73.7" y="221.6" width="0.9" height="0.9" fill="#4a985a"/>
<rect x="58.8" y="206.3" width="0.9" height="0.9" fill="#4a985a"/>
<rect x="60.0" y="202.6" width="0.9" height="0.9" fill="#4a985a"/>
<rect x="69.4" y="212.0" width="0.9" height="0.9" fill="#4a985a"/>
<rect x="62.8" y="208.1" width="0.9" height="0.9" fill="#4a985a"/>
<rect x="56.9" y="209.2" width="0.9" height="0.9" fill="#4a985a"/>
<rect x="64.8" y="207.6" width="0.9" height="0.9" fill="#4a985a"/>
<rect x="66.0" y="204.3" width="0.9" height="0.9" fill="#4a985a"/>
<rect x="69.0" y="211.1" width="0.9" height="0.9" fill="#4a985a"/>
<rect x="56.1" y="203.6" width="0.9" height="0.9" fill="#4a985a"/>
<rect x="64.3" y="204.3" width="0.9" height="0.9" fill="#4a985a"/>
<rect x="62.6" y="206.6" width="0.9" height="0.9" fill="#4a985a"/>
<rect x="56.8" y="201.1" width="0.9" height="0.9" fill="#4a985a"/>
<rect x="71.6" y="218.1" width="0.9" height="0.9" fill="#4a985a"/>
<rect x="69.8" y="210.9" width="0.9" height="0.9" fill="#4a985a"/>
<rect x="67.5" y="207.5" width="0.9" height="0.9" fill="#4a985a"/>
<rect x="57.8" y="208.8" width="0.9" height="0.9" fill="#4a985a"/>
<rect x="65.2" y="205.5" width="0.9" height="0.9" fill="#4a985a"/>
<rect x="61.3" y="211.0" width="0.9" height="0.9" fill="#4a985a"/>
<rect x="58.7" y="198.9" width="0.9" height="0.9" fill="#4a985a"/>
<rect x="67.2" y="210.3" width="0.9" height="0.9" fill="#4a985a"/>
<rect x="55.9" y="207.2" width="0.9" height="0.9" fill="#4a985a"/>
<rect x="57.7" y="199.5" width="0.9" height="0.9" fill="#4a985a"/>
<rect x="65.7" y="204.4" width="0.9" height="0.9" fill="#4a985a"/>
<rect x="62.0" y="202.7" width="0.9" height="0.9" fill="#4a985a"/>
<rect x="58.7" y="209.3" width="0.9" height="0.9" fill="#4a985a"/>
<rect x="70.7" y="213.7" width="0.9" height="0.9" fill="#4a985a"/>
<rect x="59.5" y="208.1" width="0.9" height="0.9" fill="#4a985a"/>
<rect x="58.7" y="205.5" width="0.9" height="0.9" fill="#4a985a"/>
<rect x="63.9" y="204.1" width="0.9" height="0.9" fill="#4a985a"/>
<rect x="60.8" y="200.9" width="0.9" height="0.9" fill="#4a985a"/>
<rect x="67.1" y="205.7" width="0.9" height="0.9" fill="#4a985a"/>
<rect x="67.4" y="210.0" width="0.9" height="0.9" fill="#4a985a"/>
<rect x="52.3" y="205.0" width="0.9" height="0.9" fill="#4a985a"/>
<rect x="58.0" y="202.1" width="0.9" height="0.9" fill="#4a985a"/>
<rect x="67.2" y="206.7" width="0.9" height="0.9" fill="#4a985a"/>
<rect x="65.0" y="209.1" width="0.9" height="0.9" fill="#4a985a"/>
<rect x="59.0" y="199.5" width="0.9" height="0.9" fill="#4a985a"/>
<rect x="65.1" y="206.0" width="0.9" height="0.9" fill="#4a985a"/>
<rect x="73.0" y="220.1" width="0.9" height="0.9" fill="#4a985a"/>
<rect x="62.2" y="208.8" width="0.9" height="0.9" fill="#4a985a"/>
<rect x="70.4" y="215.3" width="0.9" height="0.9" fill="#4a985a"/>
<rect x="71.5" y="217.0" width="0.9" height="0.9" fill="#4a985a"/>
<rect x="70.6" y="214.5" width="0.9" height="0.9" fill="#4a985a"/>
<rect x="62.7" y="201.8" width="0.9" height="0.9" fill="#4a985a"/>
<rect x="60.6" y="199.1" width="0.9" height="0.9" fill="#4a985a"/>
<rect x="73.0" y="220.1" width="0.9" height="0.9" fill="#4a985a"/>
<rect x="65.3" y="204.2" width="0.9" height="0.9" fill="#4a985a"/>
<rect x="55.5" y="211.1" width="0.9" height="0.9" fill="#4a985a"/>
<rect x="63.7" y="202.1" width="0.9" height="0.9" fill="#4a985a"/>
<rect x="53.1" y="203.6" width="0.9" height="0.9" fill="#4a985a"/>
<rect x="62.6" y="206.8" width="0.9" height="0.9" fill="#4a985a"/>
<rect x="71.1" y="215.6" width="0.9" height="0.9" fill="#4a985a"/>
<rect x="68.1" y="208.9" width="0.9" height="0.9" fill="#4a985a"/>
<rect x="54.7" y="208.7" width="0.9" height="0.9" fill="#4a985a"/>
<rect x="67.8" y="210.5" width="0.9" height="0.9" fill="#4a985a"/>
<rect x="71.8" y="217.2" width="0.9" height="0.9" fill="#4a985a"/>
<rect x="56.7" y="209.0" width="0.9" height="0.9" fill="#4a985a"/>
<rect x="68.8" y="208.8" width="0.9" height="0.9" fill="#4a985a"/>
<rect x="70.8" y="214.2" width="0.9" height="0.9" fill="#4a985a"/>
<rect x="61.5" y="207.2" width="0.9" height="0.9" fill="#4a985a"/>
<rect x="52.9" y="199.2" width="0.9" height="0.9" fill="#4a985a"/>
<rect x="58.0" y="205.8" width="0.9" height="0.9" fill="#4a985a"/>
<rect x="68.3" y="207.6" width="0.9" height="0.9" fill="#4a985a"/>
<rect x="63.7" y="207.0" width="0.9" height="0.9" fill="#4a985a"/>
<rect x="64.4" y="206.0" width="0.9" height="0.9" fill="#4a985a"/>
<rect x="64.3" y="206.0" width="0.9" height="0.9" fill="#4a985a"/>
<rect x="63.3" y="209.2" width="0.9" height="0.9" fill="#4a985a"/>
<rect x="62.3" y="206.4" width="0.9" height="0.9" fill="#4a985a"/>
<rect x="58.5" y="207.6" width="0.9" height="0.9" fill="#4a985a"/>
<rect x="57.0" y="200.9" width="0.9" height="0.9" fill="#4a985a"/>
<rect x="56.4" y="205.4" width="0.9" height="0.9" fill="#4a985a"/>
<rect x="54.0" y="199.5" width="0.9" height="0.9" fill="#4a985a"/>
<rect x="58.9" y="199.0" width="0.9" height="0.9" fill="#4a985a"/>
<rect x="61.3" y="210.8" width="0.9" height="0.9" fill="#4a985a"/>
<rect x="64.1" y="209.6" width="0.9" height="0.9" fill="#4a985a"/>
<rect x="67.7" y="209.6" width="0.9" height="0.9" fill="#4a985a"/>
<rect x="59.9" y="210.5" width="0.9" height="0.9" fill="#4a985a"/>
<rect x="68.1" y="210.6" width="0.9" height="0.9" fill="#4a985a"/>
<rect x="55.9" y="203.5" width="0.9" height="0.9" fill="#4a985a"/>
<rect x="67.2" y="203.9" width="0.9" height="0.9" fill="#4a985a"/>
<rect x="57.0" y="211.6" width="0.9" height="0.9" fill="#4a985a"/>
<rect x="56.4" y="207.3" width="0.9" height="0.9" fill="#4a985a"/>
<rect x="64.8" y="209.7" width="0.9" height="0.9" fill="#4a985a"/>
<rect x="69.3" y="212.6" width="0.9" height="0.9" fill="#4a985a"/>
<rect x="66.4" y="210.0" width="0.9" height="0.9" fill="#4a985a"/>
<rect x="54.7" y="205.6" width="0.9" height="0.9" fill="#4a985a"/>
<rect x="59.2" y="209.3" width="0.9" height="0.9" fill="#4a985a"/>
<rect x="54.3" y="208.7" width="0.9" height="0.9" fill="#4a985a"/>
<rect x="57.2" y="209.5" width="0.9" height="0.9" fill="#4a985a"/>
<rect x="59.0" y="209.7" width="0.9" height="0.9" fill="#4a985a"/>
<rect x="66.1" y="204.8" width="0.9" height="0.9" fill="#4a985a"/>
<rect x="74.4" y="223.9" width="0.9" height="0.9" fill="#4a985a"/>
<rect x="68.0" y="206.2" width="0.9" height="0.9" fill="#4a985a"/>
<rect x="61.0" y="208.1" width="0.9" height="0.9" fill="#4a985a"/>
<rect x="54.5" y="204.2" width="0.9" height="0.9" fill="#4a985a"/>
<rect x="62.3" y="205.0" width="0.9" height="0.9" fill="#4a985a"/>
<rect x="63.6" y="204.6" width="0.9" height="0.9" fill="#4a985a"/>
<rect x="59.3" y="209.1" width="0.9" height="0.9" fill="#4a985a"/>
<rect x="58.5" y="206.6" width="0.9" height="0.9" fill="#4a985a"/>
<rect x="63.1" y="206.5" width="0.9" height="0.9" fill="#4a985a"/>
<rect x="65.5" y="205.2" width="0.9" height="0.9" fill="#4a985a"/>
<rect x="53.8" y="202.6" width="0.9" height="0.9" fill="#4a985a"/>
<rect x="61.1" y="208.0" width="0.9" height="0.9" fill="#4a985a"/>
<rect x="71.8" y="217.4" width="0.9" height="0.9" fill="#4a985a"/>
<rect x="57.9" y="209.0" width="0.9" height="0.9" fill="#4a985a"/>
<rect x="56.1" y="208.5" width="0.9" height="0.9" fill="#4a985a"/>
<rect x="59.3" y="207.1" width="0.9" height="0.9" fill="#4a985a"/>
<rect x="66.9" y="207.8" width="0.9" height="0.9" fill="#4a985a"/>
<rect x="73.0" y="219.9" width="0.9" height="0.9" fill="#4a985a"/>
<rect x="61.0" y="209.5" width="0.9" height="0.9" fill="#4a985a"/>
<rect x="54.0" y="208.3" width="0.9" height="0.9" fill="#4a985a"/>
<rect x="58.9" y="201.4" width="0.9" height="0.9" fill="#4a985a"/>
<rect x="61.8" y="209.5" width="0.9" height="0.9" fill="#4a985a"/>
<rect x="62.0" y="206.8" width="0.9" height="0.9" fill="#4a985a"/>
<rect x="54.2" y="208.6" width="0.9" height="0.9" fill="#4a985a"/>
<rect x="73.3" y="220.6" width="0.9" height="0.9" fill="#4a985a"/>
<rect x="43.4" y="156.7" width="0.9" height="0.9" fill="#4a985a"/>
<rect x="54.6" y="156.7" width="0.9" height="0.9" fill="#4a985a"/>
<rect x="56.2" y="159.2" width="0.9" height="0.9" fill="#4a985a"/>
<rect x="41.6" y="169.6" width="0.9" height="0.9" fill="#4a985a"/>
<rect x="57.8" y="167.9" width="0.9" height="0.9" fill="#4a985a"/>
<rect x="61.9" y="167.9" width="0.9" height="0.9" fill="#4a985a"/>
<rect x="64.5" y="170.4" width="0.9" height="0.9" fill="#4a985a"/>
<rect x="51.1" y="178.6" width="0.9" height="0.9" fill="#4a985a"/>
<rect x="54.8" y="177.2" width="0.9" height="0.9" fill="#4a985a"/>
<rect x="59.5" y="176.8" width="0.9" height="0.9" fill="#4a985a"/>
<rect x="46.6" y="183.2" width="0.9" height="0.9" fill="#4a985a"/>
<rect x="52.5" y="182.9" width="0.9" height="0.9" fill="#4a985a"/>
<rect x="60.4" y="184.1" width="0.9" height="0.9" fill="#4a985a"/>
<rect x="63.0" y="182.0" width="0.9" height="0.9" fill="#4a985a"/>
<rect x="63.0" y="184.8" width="0.9" height="0.9" fill="#4a985a"/>
<rect x="56.2" y="187.7" width="0.9" height="0.9" fill="#4a985a"/>
<rect x="46.9" y="190.2" width="0.9" height="0.9" fill="#4a985a"/>
<rect x="62.3" y="189.0" width="0.9" height="0.9" fill="#4a985a"/>
<rect x="59.5" y="191.4" width="0.9" height="0.9" fill="#4a985a"/>
<rect x="65.1" y="191.0" width="0.9" height="0.9" fill="#4a985a"/>
<rect x="56.8" y="193.2" width="0.9" height="0.9" fill="#4a985a"/>
<rect x="57.6" y="194.6" width="0.9" height="0.9" fill="#4a985a"/>
<rect x="66.5" y="195.9" width="0.9" height="0.9" fill="#4a985a"/>
<rect x="56.0" y="192.9" width="0.9" height="0.9" fill="#4a985a"/>
<rect x="61.0" y="185.6" width="0.9" height="0.9" fill="#4a985a"/>
<rect x="63.5" y="192.1" width="0.9" height="0.9" fill="#4a985a"/>
<rect x="54.5" y="196.1" width="0.9" height="0.9" fill="#4a985a"/>
<rect x="60.0" y="195.6" width="0.9" height="0.9" fill="#4a985a"/>
<rect x="49.0" y="195.1" width="0.9" height="0.9" fill="#4a985a"/>
<rect x="77.7" y="216.3" width="0.9" height="0.9" fill="#d0203a"/>
<rect x="86.6" y="219.8" width="0.9" height="0.9" fill="#d0203a"/>
<rect x="86.4" y="220.4" width="0.9" height="0.9" fill="#d0203a"/>
<rect x="88.6" y="219.9" width="0.9" height="0.9" fill="#d0203a"/>
<rect x="84.2" y="217.0" width="0.9" height="0.9" fill="#d0203a"/>
<rect x="86.0" y="217.7" width="0.9" height="0.9" fill="#d0203a"/>
<rect x="81.8" y="212.9" width="0.9" height="0.9" fill="#d0203a"/>
<rect x="81.2" y="214.8" width="0.9" height="0.9" fill="#d0203a"/>
<rect x="77.5" y="216.3" width="0.9" height="0.9" fill="#d0203a"/>
<rect x="86.0" y="224.0" width="0.9" height="0.9" fill="#d0203a"/>
<rect x="88.1" y="219.0" width="0.9" height="0.9" fill="#d0203a"/>
<rect x="83.6" y="215.9" width="0.9" height="0.9" fill="#d0203a"/>
<rect x="88.5" y="220.9" width="0.9" height="0.9" fill="#d0203a"/>
<rect x="82.8" y="213.5" width="0.9" height="0.9" fill="#d0203a"/>
<rect x="87.5" y="219.7" width="0.9" height="0.9" fill="#d0203a"/>
<rect x="87.9" y="222.9" width="0.9" height="0.9" fill="#d0203a"/>
<rect x="81.2" y="214.4" width="0.9" height="0.9" fill="#d0203a"/>
<rect x="80.6" y="215.5" width="0.9" height="0.9" fill="#d0203a"/>
<rect x="86.4" y="217.4" width="0.9" height="0.9" fill="#d0203a"/>
<rect x="79.2" y="214.8" width="0.9" height="0.9" fill="#d0203a"/>
<rect x="79.6" y="213.1" width="0.9" height="0.9" fill="#d0203a"/>
<rect x="87.2" y="222.3" width="0.9" height="0.9" fill="#d0203a"/>
<rect x="87.1" y="219.5" width="0.9" height="0.9" fill="#d0203a"/>
<rect x="86.2" y="216.5" width="0.9" height="0.9" fill="#d0203a"/>
<rect x="83.7" y="213.4" width="0.9" height="0.9" fill="#d0203a"/>
<rect x="79.9" y="215.4" width="0.9" height="0.9" fill="#d0203a"/>
<rect x="85.6" y="215.2" width="0.9" height="0.9" fill="#d0203a"/>
<rect x="86.8" y="217.3" width="0.9" height="0.9" fill="#d0203a"/>
<rect x="80.5" y="212.6" width="0.9" height="0.9" fill="#d0203a"/>
<rect x="85.1" y="217.5" width="0.9" height="0.9" fill="#d0203a"/>
<rect x="78.3" y="216.5" width="0.9" height="0.9" fill="#d0203a"/>
<rect x="78.7" y="215.0" width="0.9" height="0.9" fill="#d0203a"/>
<rect x="77.4" y="218.7" width="0.9" height="0.9" fill="#d0203a"/>
<rect x="81.0" y="214.5" width="0.9" height="0.9" fill="#d0203a"/>
<rect x="77.4" y="218.5" width="0.9" height="0.9" fill="#d0203a"/>
<rect x="87.6" y="223.6" width="0.9" height="0.9" fill="#d0203a"/>
<rect x="77.4" y="216.9" width="0.9" height="0.9" fill="#d0203a"/>
<rect x="81.1" y="212.8" width="0.9" height="0.9" fill="#d0203a"/>
<rect x="76.7" y="219.9" width="0.9" height="0.9" fill="#d0203a"/>
<rect x="88.7" y="221.5" width="0.9" height="0.9" fill="#d0203a"/>
<rect x="81.2" y="225.0" width="0.9" height="0.9" fill="#d0203a"/>
<rect x="79.2" y="214.5" width="0.9" height="0.9" fill="#d0203a"/>
<rect x="84.6" y="217.1" width="0.9" height="0.9" fill="#d0203a"/>
<rect x="87.2" y="218.7" width="0.9" height="0.9" fill="#d0203a"/>
<rect x="88.0" y="223.3" width="0.9" height="0.9" fill="#d0203a"/>
<rect x="83.9" y="215.7" width="0.9" height="0.9" fill="#d0203a"/>
<rect x="78.1" y="215.4" width="0.9" height="0.9" fill="#d0203a"/>
<rect x="81.8" y="212.7" width="0.9" height="0.9" fill="#d0203a"/>
<rect x="86.2" y="218.3" width="0.9" height="0.9" fill="#d0203a"/>
<rect x="84.4" y="216.2" width="0.9" height="0.9" fill="#d0203a"/>
<rect x="87.2" y="222.0" width="0.9" height="0.9" fill="#d0203a"/>
<rect x="82.8" y="215.7" width="0.9" height="0.9" fill="#d0203a"/>
<rect x="79.7" y="212.6" width="0.9" height="0.9" fill="#d0203a"/>
<rect x="78.9" y="215.2" width="0.9" height="0.9" fill="#d0203a"/>
<rect x="78.5" y="215.5" width="0.9" height="0.9" fill="#d0203a"/>
<rect x="87.5" y="219.0" width="0.9" height="0.9" fill="#d0203a"/>
<rect x="81.1" y="214.1" width="0.9" height="0.9" fill="#d0203a"/>
<rect x="85.1" y="216.9" width="0.9" height="0.9" fill="#d0203a"/>
<rect x="87.2" y="220.8" width="0.9" height="0.9" fill="#d0203a"/>
<rect x="80.5" y="213.6" width="0.9" height="0.9" fill="#d0203a"/>
<rect x="84.1" y="202.1" width="0.9" height="0.9" fill="#d0203a"/>
<rect x="83.3" y="204.1" width="0.9" height="0.9" fill="#d0203a"/>
<rect x="84.0" y="206.2" width="0.9" height="0.9" fill="#d0203a"/>
<rect x="82.8" y="209.2" width="0.9" height="0.9" fill="#d0203a"/>
<rect x="88.2" y="206.6" width="0.9" height="0.9" fill="#d0203a"/>
<rect x="96.8" y="205.6" width="0.9" height="0.9" fill="#d0203a"/>
<rect x="79.5" y="213.1" width="0.9" height="0.9" fill="#d0203a"/>
<rect x="82.0" y="212.6" width="0.9" height="0.9" fill="#d0203a"/>
<rect x="84.5" y="212.9" width="0.9" height="0.9" fill="#d0203a"/>
<rect x="87.5" y="215.6" width="0.9" height="0.9" fill="#d0203a"/>
<rect x="89.5" y="218.6" width="0.9" height="0.9" fill="#d0203a"/>
<rect x="86.8" y="214.6" width="0.9" height="0.9" fill="#d0203a"/>
<rect x="88.8" y="218.1" width="0.9" height="0.9" fill="#d0203a"/>
<rect x="95.6" y="163.2" width="0.9" height="0.9" fill="#d0203a"/>
<rect x="85.5" y="210.6" width="0.9" height="0.9" fill="#d0203a"/>
<rect x="81.0" y="211.1" width="0.9" height="0.9" fill="#d0203a"/>
<rect x="89.8" y="216.8" width="0.9" height="0.9" fill="#d0203a"/>
<rect x="88.0" y="220.2" width="0.9" height="0.9" fill="#d0203a"/>
<text x="47.2" y="149.5" font-size="7.2" font-style="italic" fill="#222">Myc<tspan font-size="4.6" dy="-2.6">V394D</tspan><tspan font-size="7.2" dy="2.6">vs Myc</tspan></text>
<text transform="translate(12.4,190.8) rotate(-90)" font-size="7.8" text-anchor="middle" fill="#222" textLength="36.4" lengthAdjust="spacingAndGlyphs">-log<tspan font-size="5.5" dy="1.8">10</tspan><tspan dy="-1.8">(padj)</tspan></text>
<text x="43.8" y="258" font-size="8.8" fill="#222" textLength="51.7" lengthAdjust="spacingAndGlyphs">log<tspan font-size="5.5" dy="1.8">2</tspan><tspan dy="-1.8">(fold change)</tspan></text>
<text x="149.8" y="153.6" font-size="7.6" font-style="italic" fill="#111" textLength="11.6" lengthAdjust="spacingAndGlyphs">Myc</text>
<text x="186.5" y="153.6" font-size="7.6" font-style="italic" fill="#111"><tspan textLength="11.6" lengthAdjust="spacingAndGlyphs">Myc</tspan><tspan font-size="4.6" dy="-2.8" textLength="12" lengthAdjust="spacingAndGlyphs">V394D</tspan></text>
<text x="131.3" y="161.2" font-size="5.2" textLength="96" lengthAdjust="spacingAndGlyphs" fill="#333">Enrichment plot: GAL_LEUKEMIC_STEM_CELL_UP</text>
<line x1="143.6" y1="191" x2="212.5" y2="191" stroke="#ddd" stroke-width="0.8"/>
<polyline fill="none" stroke="#86c055" stroke-width="1.1" points="143.6,191.5 144.3,185 144.8,181.3 145.7,175.5 146.7,171.7 148.7,170.4 152.5,169.8 154,168.5 155.4,166.9 158.3,165.6 160.5,166.1 163,166.9 168.8,169.8 173.5,173 178.5,176.5 183,179.8 188,183.3 192,186 195.8,188 199,189.8 202.5,191.5 205.5,191.9 208.3,192.1 210.2,192.9 211.3,193.3 212.1,190.4"/>
<text x="188" y="174.5" font-size="6" textLength="14" lengthAdjust="spacingAndGlyphs" fill="#222">P=0.01</text>
<rect x="144" y="195.8" width="68.5" height="9.8" fill="#f4f4f4"/>
<rect x="144.30" y="195.8" width="0.5" height="9.8" fill="#555"/>
<rect x="144.80" y="195.8" width="0.4" height="9.8" fill="#aaa"/>
<rect x="145.47" y="195.8" width="0.6" height="9.8" fill="#aaa"/>
<rect x="146.10" y="195.8" width="0.8" height="9.8" fill="#555"/>
<rect x="146.72" y="195.8" width="0.8" height="9.8" fill="#aaa"/>
<rect x="147.41" y="195.8" width="0.5" height="9.8" fill="#333"/>
<rect x="148.10" y="195.8" width="0.4" height="9.8" fill="#999"/>
<rect x="148.81" y="195.8" width="0.5" height="9.8" fill="#222"/>
<rect x="149.58" y="195.8" width="0.6" height="9.8" fill="#111"/>
<rect x="150.37" y="195.8" width="0.8" height="9.8" fill="#666"/>
<rect x="151.03" y="195.8" width="0.8" height="9.8" fill="#999"/>
<rect x="151.55" y="195.8" width="0.5" height="9.8" fill="#aaa"/>
<rect x="152.40" y="195.8" width="0.4" height="9.8" fill="#222"/>
<rect x="152.74" y="195.8" width="0.6" height="9.8" fill="#555"/>
<rect x="153.66" y="195.8" width="0.6" height="9.8" fill="#999"/>
<rect x="154.20" y="195.8" width="0.6" height="9.8" fill="#999"/>
<rect x="154.81" y="195.8" width="0.5" height="9.8" fill="#999"/>
<rect x="155.69" y="195.8" width="0.6" height="9.8" fill="#111"/>
<rect x="156.62" y="195.8" width="0.6" height="9.8" fill="#333"/>
<rect x="157.53" y="195.8" width="0.5" height="9.8" fill="#222"/>
<rect x="158.22" y="195.8" width="0.6" height="9.8" fill="#666"/>
<rect x="158.55" y="195.8" width="0.8" height="9.8" fill="#aaa"/>
<rect x="158.86" y="195.8" width="0.8" height="9.8" fill="#222"/>
<rect x="159.73" y="195.8" width="0.6" height="9.8" fill="#111"/>
<rect x="160.27" y="195.8" width="0.4" height="9.8" fill="#999"/>
<rect x="160.55" y="195.8" width="0.8" height="9.8" fill="#111"/>
<rect x="161.30" y="195.8" width="0.6" height="9.8" fill="#888"/>
<rect x="161.89" y="195.8" width="0.6" height="9.8" fill="#111"/>
<rect x="162.15" y="195.8" width="0.4" height="9.8" fill="#222"/>
<rect x="163.05" y="195.8" width="0.6" height="9.8" fill="#999"/>
<rect x="163.72" y="195.8" width="0.4" height="9.8" fill="#333"/>
<rect x="164.65" y="195.8" width="0.6" height="9.8" fill="#888"/>
<rect x="165.14" y="195.8" width="0.8" height="9.8" fill="#333"/>
<rect x="165.65" y="195.8" width="0.4" height="9.8" fill="#999"/>
<rect x="166.33" y="195.8" width="0.8" height="9.8" fill="#666"/>
<rect x="167.01" y="195.8" width="0.6" height="9.8" fill="#555"/>
<rect x="167.57" y="195.8" width="0.6" height="9.8" fill="#666"/>
<rect x="168.19" y="195.8" width="0.8" height="9.8" fill="#111"/>
<rect x="169.12" y="195.8" width="0.4" height="9.8" fill="#888"/>
<rect x="169.63" y="195.8" width="0.4" height="9.8" fill="#333"/>
<rect x="170.32" y="195.8" width="0.8" height="9.8" fill="#888"/>
<rect x="170.81" y="195.8" width="0.6" height="9.8" fill="#888"/>
<rect x="171.57" y="195.8" width="0.4" height="9.8" fill="#111"/>
<rect x="172.47" y="195.8" width="0.6" height="9.8" fill="#111"/>
<rect x="173.22" y="195.8" width="0.6" height="9.8" fill="#aaa"/>
<rect x="174.39" y="195.8" width="0.5" height="9.8" fill="#888"/>
<rect x="175.28" y="195.8" width="0.6" height="9.8" fill="#888"/>
<rect x="176.76" y="195.8" width="0.6" height="9.8" fill="#666"/>
<rect x="180.37" y="195.8" width="0.4" height="9.8" fill="#222"/>
<rect x="182.01" y="195.8" width="0.6" height="9.8" fill="#333"/>
<rect x="183.06" y="195.8" width="0.5" height="9.8" fill="#666"/>
<rect x="183.91" y="195.8" width="0.4" height="9.8" fill="#999"/>
<rect x="184.48" y="195.8" width="0.6" height="9.8" fill="#888"/>
<rect x="185.75" y="195.8" width="0.8" height="9.8" fill="#555"/>
<rect x="187.18" y="195.8" width="0.4" height="9.8" fill="#333"/>
<rect x="188.04" y="195.8" width="0.8" height="9.8" fill="#555"/>
<rect x="188.81" y="195.8" width="0.4" height="9.8" fill="#222"/>
<rect x="189.90" y="195.8" width="0.6" height="9.8" fill="#555"/>
<rect x="191.33" y="195.8" width="0.6" height="9.8" fill="#333"/>
<rect x="192.19" y="195.8" width="0.6" height="9.8" fill="#222"/>
<rect x="194.81" y="195.8" width="0.6" height="9.8" fill="#999"/>
<rect x="197.24" y="195.8" width="0.8" height="9.8" fill="#666"/>
<rect x="198.22" y="195.8" width="0.6" height="9.8" fill="#999"/>
<rect x="199.29" y="195.8" width="0.4" height="9.8" fill="#999"/>
<rect x="201.06" y="195.8" width="0.5" height="9.8" fill="#333"/>
<rect x="201.57" y="195.8" width="0.5" height="9.8" fill="#999"/>
<rect x="202.11" y="195.8" width="0.6" height="9.8" fill="#aaa"/>
<rect x="203.36" y="195.8" width="0.4" height="9.8" fill="#555"/>
<rect x="205.04" y="195.8" width="0.4" height="9.8" fill="#666"/>
<rect x="206.65" y="195.8" width="0.4" height="9.8" fill="#111"/>
<rect x="208.39" y="195.8" width="0.8" height="9.8" fill="#555"/>
<rect x="209.69" y="195.8" width="0.8" height="9.8" fill="#111"/>
<rect x="211.21" y="195.8" width="0.6" height="9.8" fill="#333"/>
<defs><linearGradient id="gC" x1="0" x2="1"><stop offset="0" stop-color="#d22b2b"/><stop offset="0.29" stop-color="#d65060"/><stop offset="0.32" stop-color="#e3a0c8"/><stop offset="0.6" stop-color="#d8a6d8"/><stop offset="0.63" stop-color="#b9b8e6"/><stop offset="0.8" stop-color="#aeb0e0"/><stop offset="0.82" stop-color="#3030a8"/><stop offset="1" stop-color="#20209a"/></linearGradient></defs>
<rect x="144" y="205.7" width="68.3" height="2.2" fill="url(#gC)"/>
<text x="145.5" y="210.9" font-size="2.2" textLength="23" lengthAdjust="spacingAndGlyphs" fill="#e07070">'1' (positively correlated)</text>
<path d="M144,211 C145,215.5 147,217.6 152,218.2 L205,218.8 C209,219.4 211.5,220.6 212.4,225.5 L212.4,218.6 L144,218.6 Z" fill="#cdcdcd"/>
<line x1="143.6" y1="218.6" x2="212.5" y2="218.6" stroke="#bbb" stroke-width="0.5"/>
<rect x="165.5" y="217.3" width="21" height="2.6" fill="#fff"/>
<text x="166.8" y="219.6" font-size="2.8" textLength="17" lengthAdjust="spacingAndGlyphs" fill="#555">Zero cross at 7959</text>
<text x="175.4" y="226.8" font-size="2.2" textLength="31" lengthAdjust="spacingAndGlyphs" fill="#6060c0">'2' (negatively correlated)</text>
<rect x="143.6" y="164.8" width="71.6" height="63.8" fill="none" stroke="#1a1a1a" stroke-width="1.3" rx="0.8"/>
<line x1="141.6" y1="166" x2="143.6" y2="166" stroke="#111" stroke-width="0.7"/>
<text x="139.4" y="167.8" font-size="5.2" text-anchor="end" fill="#333">0.5</text>
<line x1="141.6" y1="171" x2="143.6" y2="171" stroke="#111" stroke-width="0.7"/>
<text x="139.4" y="172.8" font-size="5.2" text-anchor="end" fill="#333">0.4</text>
<line x1="141.6" y1="176" x2="143.6" y2="176" stroke="#111" stroke-width="0.7"/>
<text x="139.4" y="177.8" font-size="5.2" text-anchor="end" fill="#333">0.3</text>
<line x1="141.6" y1="181" x2="143.6" y2="181" stroke="#111" stroke-width="0.7"/>
<text x="139.4" y="182.8" font-size="5.2" text-anchor="end" fill="#333">0.2</text>
<line x1="141.6" y1="186" x2="143.6" y2="186" stroke="#111" stroke-width="0.7"/>
<text x="139.4" y="187.8" font-size="5.2" text-anchor="end" fill="#333">0.1</text>
<line x1="141.6" y1="191" x2="143.6" y2="191" stroke="#111" stroke-width="0.7"/>
<text x="139.4" y="192.8" font-size="5.2" text-anchor="end" fill="#333">0.0</text>
<line x1="140.2" y1="211.4" x2="143.6" y2="211.4" stroke="#111" stroke-width="0.9"/>
<line x1="140.2" y1="214.2" x2="143.6" y2="214.2" stroke="#111" stroke-width="0.9"/>
<line x1="140.2" y1="216.3" x2="143.6" y2="216.3" stroke="#111" stroke-width="0.9"/>
<line x1="140.2" y1="218.8" x2="143.6" y2="218.8" stroke="#111" stroke-width="0.9"/>
<line x1="140.2" y1="222.3" x2="143.6" y2="222.3" stroke="#111" stroke-width="0.9"/>
<line x1="140.2" y1="226.5" x2="143.6" y2="226.5" stroke="#111" stroke-width="0.9"/>
<text transform="translate(138.6,218.6) rotate(-90)" font-size="3.6" text-anchor="middle" fill="#444" textLength="17" lengthAdjust="spacingAndGlyphs">-4-2 0 2 4</text>
<line x1="143.6" y1="228.6" x2="143.6" y2="231.5" stroke="#111" stroke-width="0.9"/>
<text transform="translate(145.2,237) rotate(-50)" font-size="4.5" text-anchor="end" fill="#333">0</text>
<line x1="151.6" y1="228.6" x2="151.6" y2="231.5" stroke="#111" stroke-width="0.9"/>
<text transform="translate(153.2,237) rotate(-50)" font-size="4.5" text-anchor="end" fill="#333">2,000</text>
<line x1="159.6" y1="228.6" x2="159.6" y2="231.5" stroke="#111" stroke-width="0.9"/>
<text transform="translate(161.2,237) rotate(-50)" font-size="4.5" text-anchor="end" fill="#333">4,000</text>
<line x1="167.6" y1="228.6" x2="167.6" y2="231.5" stroke="#111" stroke-width="0.9"/>
<text transform="translate(169.2,237) rotate(-50)" font-size="4.5" text-anchor="end" fill="#333">6,000</text>
<line x1="175.6" y1="228.6" x2="175.6" y2="231.5" stroke="#111" stroke-width="0.9"/>
<text transform="translate(177.2,237) rotate(-50)" font-size="4.5" text-anchor="end" fill="#333">8,000</text>
<line x1="183.6" y1="228.6" x2="183.6" y2="231.5" stroke="#111" stroke-width="0.9"/>
<text transform="translate(185.2,237) rotate(-50)" font-size="4.5" text-anchor="end" fill="#333">10,000</text>
<line x1="191.6" y1="228.6" x2="191.6" y2="231.5" stroke="#111" stroke-width="0.9"/>
<text transform="translate(193.2,237) rotate(-50)" font-size="4.5" text-anchor="end" fill="#333">12,000</text>
<line x1="199.6" y1="228.6" x2="199.6" y2="231.5" stroke="#111" stroke-width="0.9"/>
<text transform="translate(201.2,237) rotate(-50)" font-size="4.5" text-anchor="end" fill="#333">14,000</text>
<line x1="207.6" y1="228.6" x2="207.6" y2="231.5" stroke="#111" stroke-width="0.9"/>
<text transform="translate(209.2,237) rotate(-50)" font-size="4.5" text-anchor="end" fill="#333">16,000</text>
<text x="179" y="253.6" font-size="7.6" text-anchor="middle" textLength="53" lengthAdjust="spacingAndGlyphs" fill="#222">Rank in ordered dataset</text>
<text transform="translate(120.8,179.3) rotate(-90)" font-size="6.4" text-anchor="middle" fill="#333" textLength="26.5" lengthAdjust="spacingAndGlyphs">Enrichment</text>
<text transform="translate(128,179.5) rotate(-90)" font-size="6.4" text-anchor="middle" fill="#333" textLength="20" lengthAdjust="spacingAndGlyphs">score (ES)</text>
<text transform="translate(120.6,220.7) rotate(-90)" font-size="6.4" text-anchor="middle" fill="#333" textLength="39.5" lengthAdjust="spacingAndGlyphs">Ranked list metric</text>
<text transform="translate(127.8,219.6) rotate(-90)" font-size="6.4" text-anchor="middle" fill="#333" textLength="33.5" lengthAdjust="spacingAndGlyphs">(signal2noise)</text>
<line x1="110" y1="263.7" x2="115.4" y2="263.7" stroke="#a6d07a" stroke-width="1"/>
<text x="118.5" y="265.6" font-size="5.6" textLength="34.5" lengthAdjust="spacingAndGlyphs" fill="#444">Enrichment profile</text>
<line x1="160" y1="263.7" x2="166" y2="263.7" stroke="#222" stroke-width="1"/>
<text x="169.2" y="265.6" font-size="5.6" textLength="7.8" lengthAdjust="spacingAndGlyphs" fill="#444">Hits</text>
<line x1="184.6" y1="263.2" x2="191" y2="263.2" stroke="#ddd" stroke-width="1.4"/>
<line x1="191.5" y1="263.7" x2="197.8" y2="263.7" stroke="#ccc" stroke-width="1"/>
<text x="201.5" y="265.6" font-size="5.6" textLength="41.5" lengthAdjust="spacingAndGlyphs" fill="#444">Ranking metric scores</text>
<line x1="34.2" y1="315" x2="34.2" y2="378.6" stroke="#222" stroke-width="1"/>
<line x1="33.7" y1="378.1" x2="276.4" y2="378.1" stroke="#222" stroke-width="1"/>
<line x1="31.7" y1="378.1" x2="34.2" y2="378.1" stroke="#222" stroke-width="0.9"/>
<text x="29.4" y="380.6" font-size="7" text-anchor="end" fill="#333">0</text>
<line x1="31.7" y1="369.6" x2="34.2" y2="369.6" stroke="#222" stroke-width="0.9"/>
<text x="29.4" y="372.1" font-size="7" text-anchor="end" fill="#333">0.2</text>
<line x1="31.7" y1="361.1" x2="34.2" y2="361.1" stroke="#222" stroke-width="0.9"/>
<text x="29.4" y="363.6" font-size="7" text-anchor="end" fill="#333">0.4</text>
<line x1="31.7" y1="352.6" x2="34.2" y2="352.6" stroke="#222" stroke-width="0.9"/>
<text x="29.4" y="355.1" font-size="7" text-anchor="end" fill="#333">0.6</text>
<line x1="31.7" y1="344.1" x2="34.2" y2="344.1" stroke="#222" stroke-width="0.9"/>
<text x="29.4" y="346.6" font-size="7" text-anchor="end" fill="#333">0.8</text>
<line x1="31.7" y1="335.6" x2="34.2" y2="335.6" stroke="#222" stroke-width="0.9"/>
<text x="29.4" y="338.1" font-size="7" text-anchor="end" fill="#333">1</text>
<line x1="31.7" y1="327.1" x2="34.2" y2="327.1" stroke="#222" stroke-width="0.9"/>
<text x="29.4" y="329.6" font-size="7" text-anchor="end" fill="#333">1.2</text>
<line x1="31.7" y1="318.6" x2="34.2" y2="318.6" stroke="#222" stroke-width="0.9"/>
<text x="29.4" y="321.1" font-size="7" text-anchor="end" fill="#333">1.4</text>
<rect x="35.9" y="335.6" width="2.6" height="42.5" fill="#3c4459"/>
<rect x="40.1" y="366.2" width="3.2" height="11.9" fill="#5ea2de"/>
<line x1="41.7" y1="361.53" x2="41.7" y2="370.88" stroke="#111" stroke-width="0.8"/>
<line x1="40.7" y1="361.53" x2="42.7" y2="361.53" stroke="#111" stroke-width="0.8"/>
<line x1="40.7" y1="370.88" x2="42.7" y2="370.88" stroke="#111" stroke-width="0.8"/>
<line x1="35.3" y1="331.4" x2="45.7" y2="331.4" stroke="#222" stroke-width="0.85"/>
<text x="40.5" y="332.3" font-size="6.4" text-anchor="middle" fill="#1a1a1a">**</text>
<line x1="33.6" y1="378.1" x2="33.6" y2="380.1" stroke="#222" stroke-width="0.8"/>
<text transform="translate(43.1,386.1) rotate(-45)" font-size="7" text-anchor="end" fill="#333">Cdkn1b</text>
<rect x="52.1" y="335.6" width="2.6" height="42.5" fill="#3c4459"/>
<rect x="56.3" y="359.4" width="3.2" height="18.7" fill="#5ea2de"/>
<line x1="57.9" y1="353.45" x2="57.9" y2="365.35" stroke="#111" stroke-width="0.8"/>
<line x1="56.9" y1="353.45" x2="58.9" y2="353.45" stroke="#111" stroke-width="0.8"/>
<line x1="56.9" y1="365.35" x2="58.9" y2="365.35" stroke="#111" stroke-width="0.8"/>
<line x1="51.5" y1="332.2" x2="61.9" y2="332.2" stroke="#222" stroke-width="0.85"/>
<text x="56.7" y="333.1" font-size="6.4" text-anchor="middle" fill="#1a1a1a">**</text>
<line x1="49.8" y1="378.1" x2="49.8" y2="380.1" stroke="#222" stroke-width="0.8"/>
<text transform="translate(59.3,386.1) rotate(-45)" font-size="7" text-anchor="end" fill="#333">Cdkn2b</text>
<rect x="68.3" y="335.6" width="2.6" height="42.5" fill="#3c4459"/>
<rect x="72.5" y="377.59" width="3.2" height="0.51" fill="#5ea2de"/>
<line x1="74.1" y1="377.25" x2="74.1" y2="377.93" stroke="#111" stroke-width="0.8"/>
<line x1="73.1" y1="377.25" x2="75.1" y2="377.25" stroke="#111" stroke-width="0.8"/>
<line x1="73.1" y1="377.93" x2="75.1" y2="377.93" stroke="#111" stroke-width="0.8"/>
<line x1="67.7" y1="332.2" x2="78.1" y2="332.2" stroke="#222" stroke-width="0.85"/>
<text x="72.9" y="333.1" font-size="6.4" text-anchor="middle" fill="#1a1a1a">**</text>
<line x1="66" y1="378.1" x2="66" y2="380.1" stroke="#222" stroke-width="0.8"/>
<text transform="translate(75.5,386.1) rotate(-45)" font-size="7" text-anchor="end" fill="#333">Flt3</text>
<rect x="84.5" y="335.6" width="2.6" height="42.5" fill="#3c4459"/>
<rect x="88.7" y="354.3" width="3.2" height="23.8" fill="#5ea2de"/>
<line x1="90.3" y1="345.38" x2="90.3" y2="363.23" stroke="#111" stroke-width="0.8"/>
<line x1="89.3" y1="345.38" x2="91.3" y2="345.38" stroke="#111" stroke-width="0.8"/>
<line x1="89.3" y1="363.23" x2="91.3" y2="363.23" stroke="#111" stroke-width="0.8"/>
<line x1="83.9" y1="332.2" x2="94.3" y2="332.2" stroke="#222" stroke-width="0.85"/>
<text x="89.1" y="333.1" font-size="6.4" text-anchor="middle" fill="#1a1a1a">**</text>
<line x1="82.2" y1="378.1" x2="82.2" y2="380.1" stroke="#222" stroke-width="0.8"/>
<text transform="translate(91.7,386.1) rotate(-45)" font-size="7" text-anchor="end" fill="#333">Kit</text>
<rect x="100.7" y="335.6" width="2.6" height="42.5" fill="#3c4459"/>
<rect x="104.9" y="349.62" width="3.2" height="28.48" fill="#5ea2de"/>
<line x1="106.5" y1="348.77" x2="106.5" y2="350.48" stroke="#111" stroke-width="0.8"/>
<line x1="105.5" y1="348.77" x2="107.5" y2="348.77" stroke="#111" stroke-width="0.8"/>
<line x1="105.5" y1="350.48" x2="107.5" y2="350.48" stroke="#111" stroke-width="0.8"/>
<line x1="100.1" y1="332.2" x2="110.5" y2="332.2" stroke="#222" stroke-width="0.85"/>
<text x="105.3" y="333.1" font-size="6.4" text-anchor="middle" fill="#1a1a1a">**</text>
<line x1="98.4" y1="378.1" x2="98.4" y2="380.1" stroke="#222" stroke-width="0.8"/>
<text transform="translate(107.9,386.1) rotate(-45)" font-size="7" text-anchor="end" fill="#333">Il13ra1</text>
<rect x="116.9" y="335.6" width="2.6" height="42.5" fill="#3c4459"/>
<rect x="121.1" y="361.53" width="3.2" height="16.57" fill="#5ea2de"/>
<line x1="122.7" y1="359.4" x2="122.7" y2="363.65" stroke="#111" stroke-width="0.8"/>
<line x1="121.7" y1="359.4" x2="123.7" y2="359.4" stroke="#111" stroke-width="0.8"/>
<line x1="121.7" y1="363.65" x2="123.7" y2="363.65" stroke="#111" stroke-width="0.8"/>
<line x1="116.3" y1="332.2" x2="126.7" y2="332.2" stroke="#222" stroke-width="0.85"/>
<text x="121.5" y="333.1" font-size="6.4" text-anchor="middle" fill="#1a1a1a">**</text>
<line x1="114.6" y1="378.1" x2="114.6" y2="380.1" stroke="#222" stroke-width="0.8"/>
<text transform="translate(124.1,386.1) rotate(-45)" font-size="7" text-anchor="end" fill="#333">Il1r1</text>
<rect x="133.1" y="335.6" width="2.6" height="42.5" fill="#3c4459"/>
<rect x="137.3" y="355.15" width="3.2" height="22.95" fill="#5ea2de"/>
<line x1="138.9" y1="349.2" x2="138.9" y2="361.1" stroke="#111" stroke-width="0.8"/>
<line x1="137.9" y1="349.2" x2="139.9" y2="349.2" stroke="#111" stroke-width="0.8"/>
<line x1="137.9" y1="361.1" x2="139.9" y2="361.1" stroke="#111" stroke-width="0.8"/>
<line x1="132.5" y1="332.2" x2="142.9" y2="332.2" stroke="#222" stroke-width="0.85"/>
<text x="137.7" y="333.1" font-size="6.4" text-anchor="middle" fill="#1a1a1a">**</text>
<line x1="130.8" y1="378.1" x2="130.8" y2="380.1" stroke="#222" stroke-width="0.8"/>
<text transform="translate(140.3,386.1) rotate(-45)" font-size="7" text-anchor="end" fill="#333">Il3ra</text>
<rect x="149.3" y="335.6" width="2.6" height="42.5" fill="#3c4459"/>
<rect x="153.5" y="347.5" width="3.2" height="30.6" fill="#5ea2de"/>
<line x1="155.1" y1="344.52" x2="155.1" y2="350.48" stroke="#111" stroke-width="0.8"/>
<line x1="154.1" y1="344.52" x2="156.1" y2="344.52" stroke="#111" stroke-width="0.8"/>
<line x1="154.1" y1="350.48" x2="156.1" y2="350.48" stroke="#111" stroke-width="0.8"/>
<line x1="148.7" y1="332.2" x2="159.1" y2="332.2" stroke="#222" stroke-width="0.85"/>
<text x="153.9" y="333.1" font-size="6.4" text-anchor="middle" fill="#1a1a1a">**</text>
<line x1="147" y1="378.1" x2="147" y2="380.1" stroke="#222" stroke-width="0.8"/>
<text transform="translate(156.5,386.1) rotate(-45)" font-size="7" text-anchor="end" fill="#333">Il1rap</text>
<rect x="165.5" y="335.6" width="2.6" height="42.5" fill="#3c4459"/>
<rect x="169.7" y="377.25" width="3.2" height="0.85" fill="#5ea2de"/>
<line x1="171.3" y1="376.74" x2="171.3" y2="377.76" stroke="#111" stroke-width="0.8"/>
<line x1="170.3" y1="376.74" x2="172.3" y2="376.74" stroke="#111" stroke-width="0.8"/>
<line x1="170.3" y1="377.76" x2="172.3" y2="377.76" stroke="#111" stroke-width="0.8"/>
<line x1="164.9" y1="332.2" x2="175.3" y2="332.2" stroke="#222" stroke-width="0.85"/>
<text x="170.1" y="333.1" font-size="6.4" text-anchor="middle" fill="#1a1a1a">**</text>
<line x1="163.2" y1="378.1" x2="163.2" y2="380.1" stroke="#222" stroke-width="0.8"/>
<text transform="translate(172.7,386.1) rotate(-45)" font-size="7" text-anchor="end" fill="#333">Ev1</text>
<rect x="181.7" y="335.6" width="2.6" height="42.5" fill="#3c4459"/>
<rect x="185.9" y="348.35" width="3.2" height="29.75" fill="#5ea2de"/>
<line x1="187.5" y1="344.1" x2="187.5" y2="352.6" stroke="#111" stroke-width="0.8"/>
<line x1="186.5" y1="344.1" x2="188.5" y2="344.1" stroke="#111" stroke-width="0.8"/>
<line x1="186.5" y1="352.6" x2="188.5" y2="352.6" stroke="#111" stroke-width="0.8"/>
<line x1="181.1" y1="332.2" x2="191.5" y2="332.2" stroke="#222" stroke-width="0.85"/>
<text x="186.3" y="333.1" font-size="6.4" text-anchor="middle" fill="#1a1a1a">**</text>
<line x1="179.4" y1="378.1" x2="179.4" y2="380.1" stroke="#222" stroke-width="0.8"/>
<text transform="translate(188.9,386.1) rotate(-45)" font-size="7" text-anchor="end" fill="#333">Bcl2</text>
<rect x="197.9" y="335.6" width="2.6" height="42.5" fill="#3c4459"/>
<rect x="202.1" y="375.98" width="3.2" height="2.12" fill="#5ea2de"/>
<line x1="203.7" y1="375.55" x2="203.7" y2="376.4" stroke="#111" stroke-width="0.8"/>
<line x1="202.7" y1="375.55" x2="204.7" y2="375.55" stroke="#111" stroke-width="0.8"/>
<line x1="202.7" y1="376.4" x2="204.7" y2="376.4" stroke="#111" stroke-width="0.8"/>
<line x1="197.3" y1="332.2" x2="207.7" y2="332.2" stroke="#222" stroke-width="0.85"/>
<text x="202.5" y="333.1" font-size="6.4" text-anchor="middle" fill="#1a1a1a">**</text>
<line x1="195.6" y1="378.1" x2="195.6" y2="380.1" stroke="#222" stroke-width="0.8"/>
<text transform="translate(205.1,386.1) rotate(-45)" font-size="7" text-anchor="end" fill="#333">Gata2</text>
<rect x="214.1" y="335.6" width="2.6" height="42.5" fill="#3c4459"/>
<rect x="218.3" y="373.85" width="3.2" height="4.25" fill="#5ea2de"/>
<line x1="219.9" y1="372.15" x2="219.9" y2="375.55" stroke="#111" stroke-width="0.8"/>
<line x1="218.9" y1="372.15" x2="220.9" y2="372.15" stroke="#111" stroke-width="0.8"/>
<line x1="218.9" y1="375.55" x2="220.9" y2="375.55" stroke="#111" stroke-width="0.8"/>
<line x1="213.5" y1="332.2" x2="223.9" y2="332.2" stroke="#222" stroke-width="0.85"/>
<text x="218.7" y="333.1" font-size="6.4" text-anchor="middle" fill="#1a1a1a">**</text>
<line x1="211.8" y1="378.1" x2="211.8" y2="380.1" stroke="#222" stroke-width="0.8"/>
<text transform="translate(221.3,386.1) rotate(-45)" font-size="7" text-anchor="end" fill="#333">Pbx3</text>
<rect x="230.3" y="335.6" width="2.6" height="42.5" fill="#3c4459"/>
<rect x="234.5" y="375.12" width="3.2" height="2.98" fill="#5ea2de"/>
<line x1="236.1" y1="373" x2="236.1" y2="377.25" stroke="#111" stroke-width="0.8"/>
<line x1="235.1" y1="373" x2="237.1" y2="373" stroke="#111" stroke-width="0.8"/>
<line x1="235.1" y1="377.25" x2="237.1" y2="377.25" stroke="#111" stroke-width="0.8"/>
<line x1="229.7" y1="332.2" x2="240.1" y2="332.2" stroke="#222" stroke-width="0.85"/>
<text x="234.9" y="333.1" font-size="6.4" text-anchor="middle" fill="#1a1a1a">**</text>
<line x1="228" y1="378.1" x2="228" y2="380.1" stroke="#222" stroke-width="0.8"/>
<text transform="translate(237.5,386.1) rotate(-45)" font-size="7" text-anchor="end" fill="#333">Gpr56</text>
<rect x="246.5" y="335.6" width="2.6" height="42.5" fill="#3c4459"/>
<rect x="250.7" y="358.12" width="3.2" height="19.98" fill="#5ea2de"/>
<line x1="252.3" y1="354.73" x2="252.3" y2="361.52" stroke="#111" stroke-width="0.8"/>
<line x1="251.3" y1="354.73" x2="253.3" y2="354.73" stroke="#111" stroke-width="0.8"/>
<line x1="251.3" y1="361.52" x2="253.3" y2="361.52" stroke="#111" stroke-width="0.8"/>
<line x1="245.9" y1="332.2" x2="256.3" y2="332.2" stroke="#222" stroke-width="0.85"/>
<text x="251.1" y="333.1" font-size="6.4" text-anchor="middle" fill="#1a1a1a">**</text>
<line x1="244.2" y1="378.1" x2="244.2" y2="380.1" stroke="#222" stroke-width="0.8"/>
<text transform="translate(253.7,386.1) rotate(-45)" font-size="7" text-anchor="end" fill="#333">Abcg1</text>
<rect x="262.7" y="335.6" width="2.6" height="42.5" fill="#3c4459"/>
<rect x="266.9" y="332.2" width="3.2" height="45.9" fill="#5ea2de"/>
<line x1="268.5" y1="327.95" x2="268.5" y2="336.45" stroke="#111" stroke-width="0.8"/>
<line x1="267.5" y1="327.95" x2="269.5" y2="327.95" stroke="#111" stroke-width="0.8"/>
<line x1="267.5" y1="336.45" x2="269.5" y2="336.45" stroke="#111" stroke-width="0.8"/>
<line x1="260.4" y1="378.1" x2="260.4" y2="380.1" stroke="#222" stroke-width="0.8"/>
<text transform="translate(269.9,386.1) rotate(-45)" font-size="7" text-anchor="end" fill="#333">Gapdh</text>
<line x1="276.4" y1="378.1" x2="276.4" y2="380.1" stroke="#222" stroke-width="0.8"/>
<text transform="translate(14.8,346.8) rotate(-90)" font-size="8.6" text-anchor="middle" fill="#333" textLength="62" lengthAdjust="spacingAndGlyphs">Relative mRNA levels</text>
<rect x="165.9" y="318.6" width="3.6" height="2.3" fill="#3c4459"/>
<rect x="215.4" y="318.6" width="3.4" height="2.3" fill="#5ea2de"/>
<text x="172.9" y="321.8" font-size="6.2" fill="#333">Kit<tspan font-size="4" dy="-2.4">+</tspan><tspan dy="2.4">CD11b</tspan><tspan font-size="4" dy="-2.6">low</tspan></text>
<text x="222.3" y="321.8" font-size="6.2" fill="#333">Kit<tspan font-size="4" dy="-2.4">+</tspan><tspan dy="2.4">CD11b</tspan><tspan font-size="4" dy="-2.6">high</tspan></text>
<line x1="312.3" y1="311.5" x2="312.3" y2="378.3" stroke="#222" stroke-width="1"/>
<line x1="311.8" y1="377.8" x2="498.4" y2="377.8" stroke="#222" stroke-width="1"/>
<line x1="309.8" y1="377.8" x2="312.3" y2="377.8" stroke="#222" stroke-width="0.9"/>
<text x="307.7" y="380.2" font-size="6.8" text-anchor="end" fill="#333">0</text>
<line x1="309.8" y1="370.62" x2="312.3" y2="370.62" stroke="#222" stroke-width="0.9"/>
<text x="307.7" y="373.02" font-size="6.8" text-anchor="end" fill="#333">0.2</text>
<line x1="309.8" y1="363.44" x2="312.3" y2="363.44" stroke="#222" stroke-width="0.9"/>
<text x="307.7" y="365.84" font-size="6.8" text-anchor="end" fill="#333">0.4</text>
<line x1="309.8" y1="356.26" x2="312.3" y2="356.26" stroke="#222" stroke-width="0.9"/>
<text x="307.7" y="358.66" font-size="6.8" text-anchor="end" fill="#333">0.6</text>
<line x1="309.8" y1="349.08" x2="312.3" y2="349.08" stroke="#222" stroke-width="0.9"/>
<text x="307.7" y="351.48" font-size="6.8" text-anchor="end" fill="#333">0.8</text>
<line x1="309.8" y1="341.9" x2="312.3" y2="341.9" stroke="#222" stroke-width="0.9"/>
<text x="307.7" y="344.3" font-size="6.8" text-anchor="end" fill="#333">1</text>
<line x1="309.8" y1="334.72" x2="312.3" y2="334.72" stroke="#222" stroke-width="0.9"/>
<text x="307.7" y="337.12" font-size="6.8" text-anchor="end" fill="#333">1.2</text>
<line x1="309.8" y1="327.54" x2="312.3" y2="327.54" stroke="#222" stroke-width="0.9"/>
<text x="307.7" y="329.94" font-size="6.8" text-anchor="end" fill="#333">1.4</text>
<line x1="309.8" y1="320.36" x2="312.3" y2="320.36" stroke="#222" stroke-width="0.9"/>
<text x="307.7" y="322.76" font-size="6.8" text-anchor="end" fill="#333">1.6</text>
<line x1="309.8" y1="313.18" x2="312.3" y2="313.18" stroke="#222" stroke-width="0.9"/>
<text x="307.7" y="315.58" font-size="6.8" text-anchor="end" fill="#333">1.8</text>
<rect x="316.4" y="341.9" width="3.3" height="35.9" fill="#ca0a7e"/>
<rect x="320.9" y="331.13" width="3" height="46.67" fill="#a65e16"/>
<line x1="322.4" y1="328.26" x2="322.4" y2="334" stroke="#111" stroke-width="0.8"/>
<line x1="321.4" y1="328.26" x2="323.4" y2="328.26" stroke="#111" stroke-width="0.8"/>
<line x1="321.6" y1="334" x2="323.2" y2="334" stroke="#111" stroke-width="0.8"/>
<rect x="325.4" y="328.26" width="3" height="49.54" fill="#a8b97f"/>
<line x1="326.9" y1="322.87" x2="326.9" y2="333.64" stroke="#111" stroke-width="0.8"/>
<line x1="325.9" y1="322.87" x2="327.9" y2="322.87" stroke="#111" stroke-width="0.8"/>
<line x1="326.1" y1="333.64" x2="327.7" y2="333.64" stroke="#111" stroke-width="0.8"/>
<line x1="311.9" y1="377.8" x2="311.9" y2="380" stroke="#222" stroke-width="0.8"/>
<text transform="translate(324.4,386.6) rotate(-45)" font-size="6.8" text-anchor="end" fill="#333">P21</text>
<rect x="334.97" y="341.9" width="3.3" height="35.9" fill="#ca0a7e"/>
<rect x="339.47" y="340.11" width="3" height="37.69" fill="#a65e16"/>
<line x1="340.97" y1="338.67" x2="340.97" y2="341.54" stroke="#111" stroke-width="0.8"/>
<line x1="339.97" y1="338.67" x2="341.97" y2="338.67" stroke="#111" stroke-width="0.8"/>
<line x1="340.17" y1="341.54" x2="341.77" y2="341.54" stroke="#111" stroke-width="0.8"/>
<rect x="343.97" y="353.39" width="3" height="24.41" fill="#a8b97f"/>
<line x1="345.47" y1="350.52" x2="345.47" y2="356.26" stroke="#111" stroke-width="0.8"/>
<line x1="344.47" y1="350.52" x2="346.47" y2="350.52" stroke="#111" stroke-width="0.8"/>
<line x1="344.67" y1="356.26" x2="346.27" y2="356.26" stroke="#111" stroke-width="0.8"/>
<text x="345.57" y="350.02" font-size="5" text-anchor="middle" fill="#222">*</text>
<line x1="330.47" y1="377.8" x2="330.47" y2="380" stroke="#222" stroke-width="0.8"/>
<text transform="translate(342.97,386.6) rotate(-45)" font-size="6.8" text-anchor="end" fill="#333">P27</text>
<rect x="353.54" y="341.9" width="3.3" height="35.9" fill="#ca0a7e"/>
<rect x="358.04" y="331.13" width="3" height="46.67" fill="#a65e16"/>
<line x1="359.54" y1="318.56" x2="359.54" y2="343.69" stroke="#111" stroke-width="0.8"/>
<line x1="358.54" y1="318.56" x2="360.54" y2="318.56" stroke="#111" stroke-width="0.8"/>
<line x1="358.74" y1="343.69" x2="360.34" y2="343.69" stroke="#111" stroke-width="0.8"/>
<rect x="362.54" y="354.47" width="3" height="23.33" fill="#a8b97f"/>
<line x1="364.04" y1="349.8" x2="364.04" y2="359.13" stroke="#111" stroke-width="0.8"/>
<line x1="363.04" y1="349.8" x2="365.04" y2="349.8" stroke="#111" stroke-width="0.8"/>
<line x1="363.24" y1="359.13" x2="364.84" y2="359.13" stroke="#111" stroke-width="0.8"/>
<text x="364.14" y="349.3" font-size="5" text-anchor="middle" fill="#222">*</text>
<line x1="349.04" y1="377.8" x2="349.04" y2="380" stroke="#222" stroke-width="0.8"/>
<text transform="translate(361.54,386.6) rotate(-45)" font-size="6.8" text-anchor="end" fill="#333">p15</text>
<rect x="372.11" y="341.9" width="3.3" height="35.9" fill="#ca0a7e"/>
<rect x="376.61" y="344.41" width="3" height="33.39" fill="#a65e16"/>
<line x1="378.11" y1="343.34" x2="378.11" y2="345.49" stroke="#111" stroke-width="0.8"/>
<line x1="377.11" y1="343.34" x2="379.11" y2="343.34" stroke="#111" stroke-width="0.8"/>
<line x1="377.31" y1="345.49" x2="378.91" y2="345.49" stroke="#111" stroke-width="0.8"/>
<rect x="381.11" y="364.16" width="3" height="13.64" fill="#a8b97f"/>
<line x1="382.61" y1="362.36" x2="382.61" y2="365.95" stroke="#111" stroke-width="0.8"/>
<line x1="381.61" y1="362.36" x2="383.61" y2="362.36" stroke="#111" stroke-width="0.8"/>
<line x1="381.81" y1="365.95" x2="383.41" y2="365.95" stroke="#111" stroke-width="0.8"/>
<text x="382.71" y="361.86" font-size="5" text-anchor="middle" fill="#222">**</text>
<line x1="367.61" y1="377.8" x2="367.61" y2="380" stroke="#222" stroke-width="0.8"/>
<text transform="translate(380.11,386.6) rotate(-45)" font-size="6.8" text-anchor="end" fill="#333">p16</text>
<rect x="390.68" y="341.9" width="3.3" height="35.9" fill="#ca0a7e"/>
<rect x="395.18" y="350.16" width="3" height="27.64" fill="#a65e16"/>
<line x1="396.68" y1="347.29" x2="396.68" y2="353.03" stroke="#111" stroke-width="0.8"/>
<line x1="395.68" y1="347.29" x2="397.68" y2="347.29" stroke="#111" stroke-width="0.8"/>
<line x1="395.88" y1="353.03" x2="397.48" y2="353.03" stroke="#111" stroke-width="0.8"/>
<rect x="399.68" y="357.34" width="3" height="20.46" fill="#a8b97f"/>
<line x1="401.18" y1="355.18" x2="401.18" y2="359.49" stroke="#111" stroke-width="0.8"/>
<line x1="400.18" y1="355.18" x2="402.18" y2="355.18" stroke="#111" stroke-width="0.8"/>
<line x1="400.38" y1="359.49" x2="401.98" y2="359.49" stroke="#111" stroke-width="0.8"/>
<text x="401.28" y="354.68" font-size="5" text-anchor="middle" fill="#222">**</text>
<line x1="386.18" y1="377.8" x2="386.18" y2="380" stroke="#222" stroke-width="0.8"/>
<text transform="translate(398.68,386.6) rotate(-45)" font-size="6.8" text-anchor="end" fill="#333">p19</text>
<rect x="409.25" y="341.9" width="3.3" height="35.9" fill="#ca0a7e"/>
<rect x="413.75" y="340.82" width="3" height="36.98" fill="#a65e16"/>
<line x1="415.25" y1="339.03" x2="415.25" y2="342.62" stroke="#111" stroke-width="0.8"/>
<line x1="414.25" y1="339.03" x2="416.25" y2="339.03" stroke="#111" stroke-width="0.8"/>
<line x1="414.45" y1="342.62" x2="416.05" y2="342.62" stroke="#111" stroke-width="0.8"/>
<rect x="418.25" y="361.64" width="3" height="16.16" fill="#a8b97f"/>
<line x1="419.75" y1="356.26" x2="419.75" y2="367.03" stroke="#111" stroke-width="0.8"/>
<line x1="418.75" y1="356.26" x2="420.75" y2="356.26" stroke="#111" stroke-width="0.8"/>
<line x1="418.95" y1="367.03" x2="420.55" y2="367.03" stroke="#111" stroke-width="0.8"/>
<text x="419.85" y="355.76" font-size="5" text-anchor="middle" fill="#222">**</text>
<line x1="404.75" y1="377.8" x2="404.75" y2="380" stroke="#222" stroke-width="0.8"/>
<text transform="translate(417.25,386.6) rotate(-45)" font-size="6.8" text-anchor="end" fill="#333">Bcl2</text>
<rect x="427.82" y="341.9" width="3.3" height="35.9" fill="#ca0a7e"/>
<rect x="432.32" y="340.11" width="3" height="37.69" fill="#a65e16"/>
<line x1="433.82" y1="330.77" x2="433.82" y2="349.44" stroke="#111" stroke-width="0.8"/>
<line x1="432.82" y1="330.77" x2="434.82" y2="330.77" stroke="#111" stroke-width="0.8"/>
<line x1="433.02" y1="349.44" x2="434.62" y2="349.44" stroke="#111" stroke-width="0.8"/>
<rect x="436.82" y="376" width="3" height="1.8" fill="#a8b97f"/>
<line x1="438.32" y1="375.29" x2="438.32" y2="376.72" stroke="#111" stroke-width="0.8"/>
<line x1="437.32" y1="375.29" x2="439.32" y2="375.29" stroke="#111" stroke-width="0.8"/>
<line x1="437.52" y1="376.72" x2="439.12" y2="376.72" stroke="#111" stroke-width="0.8"/>
<text x="438.42" y="374.79" font-size="5" text-anchor="middle" fill="#222">**</text>
<line x1="423.32" y1="377.8" x2="423.32" y2="380" stroke="#222" stroke-width="0.8"/>
<text transform="translate(435.82,386.6) rotate(-45)" font-size="6.8" text-anchor="end" fill="#333">Flt3</text>
<rect x="446.39" y="341.9" width="3.3" height="35.9" fill="#ca0a7e"/>
<rect x="450.89" y="340.82" width="3" height="36.98" fill="#a65e16"/>
<line x1="452.39" y1="337.59" x2="452.39" y2="344.05" stroke="#111" stroke-width="0.8"/>
<line x1="451.39" y1="337.59" x2="453.39" y2="337.59" stroke="#111" stroke-width="0.8"/>
<line x1="451.59" y1="344.05" x2="453.19" y2="344.05" stroke="#111" stroke-width="0.8"/>
<rect x="455.39" y="358.06" width="3" height="19.75" fill="#a8b97f"/>
<line x1="456.89" y1="354.82" x2="456.89" y2="361.29" stroke="#111" stroke-width="0.8"/>
<line x1="455.89" y1="354.82" x2="457.89" y2="354.82" stroke="#111" stroke-width="0.8"/>
<line x1="456.09" y1="361.29" x2="457.69" y2="361.29" stroke="#111" stroke-width="0.8"/>
<text x="456.99" y="354.32" font-size="5" text-anchor="middle" fill="#222">**</text>
<line x1="441.89" y1="377.8" x2="441.89" y2="380" stroke="#222" stroke-width="0.8"/>
<text transform="translate(454.39,386.6) rotate(-45)" font-size="6.8" text-anchor="end" fill="#333">Kit</text>
<rect x="464.96" y="341.9" width="3.3" height="35.9" fill="#ca0a7e"/>
<rect x="469.46" y="346.21" width="3" height="31.59" fill="#a65e16"/>
<line x1="470.96" y1="336.16" x2="470.96" y2="356.26" stroke="#111" stroke-width="0.8"/>
<line x1="469.96" y1="336.16" x2="471.96" y2="336.16" stroke="#111" stroke-width="0.8"/>
<line x1="470.16" y1="356.26" x2="471.76" y2="356.26" stroke="#111" stroke-width="0.8"/>
<rect x="473.96" y="377.08" width="3" height="0.72" fill="#a8b97f"/>
<line x1="475.46" y1="376.72" x2="475.46" y2="377.44" stroke="#111" stroke-width="0.8"/>
<line x1="474.46" y1="376.72" x2="476.46" y2="376.72" stroke="#111" stroke-width="0.8"/>
<line x1="474.66" y1="377.44" x2="476.26" y2="377.44" stroke="#111" stroke-width="0.8"/>
<text x="475.56" y="376.22" font-size="5" text-anchor="middle" fill="#222">**</text>
<line x1="460.46" y1="377.8" x2="460.46" y2="380" stroke="#222" stroke-width="0.8"/>
<text transform="translate(472.96,386.6) rotate(-45)" font-size="6.8" text-anchor="end" fill="#333">Ev1</text>
<rect x="483.53" y="341.9" width="3.3" height="35.9" fill="#ca0a7e"/>
<rect x="488.03" y="338.31" width="3" height="39.49" fill="#a65e16"/>
<line x1="489.53" y1="335.8" x2="489.53" y2="340.82" stroke="#111" stroke-width="0.8"/>
<line x1="488.53" y1="335.8" x2="490.53" y2="335.8" stroke="#111" stroke-width="0.8"/>
<line x1="488.73" y1="340.82" x2="490.33" y2="340.82" stroke="#111" stroke-width="0.8"/>
<rect x="492.53" y="338.31" width="3" height="39.49" fill="#a8b97f"/>
<line x1="494.03" y1="335.8" x2="494.03" y2="340.82" stroke="#111" stroke-width="0.8"/>
<line x1="493.03" y1="335.8" x2="495.03" y2="335.8" stroke="#111" stroke-width="0.8"/>
<line x1="493.23" y1="340.82" x2="494.83" y2="340.82" stroke="#111" stroke-width="0.8"/>
<line x1="479.03" y1="377.8" x2="479.03" y2="380" stroke="#222" stroke-width="0.8"/>
<text transform="translate(491.53,386.6) rotate(-45)" font-size="6.8" text-anchor="end" fill="#333">Gapdh</text>
<text transform="translate(294.2,344.3) rotate(-90)" font-size="8.6" text-anchor="middle" fill="#333" textLength="62" lengthAdjust="spacingAndGlyphs">Relative mRNA levels</text>
<text x="317.7" y="305.8" font-size="8.6" fill="#111" textLength="129.5" lengthAdjust="spacingAndGlyphs"><tspan font-style="italic">Myc</tspan><tspan font-size="6.2" dy="-3.2" font-style="italic">V394D</tspan><tspan dy="3.2" font-style="italic">/Cre</tspan><tspan font-size="6.2" dy="-3.2" font-style="italic">ERT</tspan><tspan dy="3.2" font-style="italic">Myc</tspan><tspan font-size="6.2" dy="-3.2" font-style="italic">fx/fx</tspan><tspan dy="3.2"> AML cells</tspan></text>
<rect x="440.6" y="318.8" width="2.6" height="2.6" fill="#ca0a7e"/>
<text x="446.2" y="322.2" font-size="6.3" fill="#333">d0</text>
<rect x="461.6" y="318.8" width="2.6" height="2.6" fill="#a65e16"/>
<text x="467.2" y="322.2" font-size="6.3" fill="#333">d2</text>
<rect x="481.2" y="318.8" width="2.6" height="2.6" fill="#a8b97f"/>
<text x="486.8" y="322.2" font-size="6.3" fill="#333">d4</text>
<line x1="20.1" y1="444.4" x2="71.8" y2="444.4" stroke="#555" stroke-width="0.9"/>
<line x1="20.1" y1="444.4" x2="20.1" y2="505.2" stroke="#555" stroke-width="0.9"/>
<line x1="80.8" y1="444.4" x2="80.8" y2="505.2" stroke="#555" stroke-width="0.9"/>
<line x1="20.1" y1="505.2" x2="80.8" y2="505.2" stroke="#555" stroke-width="0.9"/>
<line x1="20.1" y1="449.4" x2="21.1" y2="449.4" stroke="#777" stroke-width="0.5"/>
<line x1="25.1" y1="505.2" x2="25.1" y2="504.2" stroke="#777" stroke-width="0.5"/>
<line x1="20.1" y1="454.4" x2="21.1" y2="454.4" stroke="#777" stroke-width="0.5"/>
<line x1="30.1" y1="505.2" x2="30.1" y2="504.2" stroke="#777" stroke-width="0.5"/>
<line x1="20.1" y1="459.4" x2="21.1" y2="459.4" stroke="#777" stroke-width="0.5"/>
<line x1="35.1" y1="505.2" x2="35.1" y2="504.2" stroke="#777" stroke-width="0.5"/>
<line x1="20.1" y1="464.4" x2="21.1" y2="464.4" stroke="#777" stroke-width="0.5"/>
<line x1="40.1" y1="505.2" x2="40.1" y2="504.2" stroke="#777" stroke-width="0.5"/>
<line x1="20.1" y1="469.4" x2="21.1" y2="469.4" stroke="#777" stroke-width="0.5"/>
<line x1="45.1" y1="505.2" x2="45.1" y2="504.2" stroke="#777" stroke-width="0.5"/>
<line x1="20.1" y1="474.4" x2="21.1" y2="474.4" stroke="#777" stroke-width="0.5"/>
<line x1="50.1" y1="505.2" x2="50.1" y2="504.2" stroke="#777" stroke-width="0.5"/>
<line x1="20.1" y1="479.4" x2="21.1" y2="479.4" stroke="#777" stroke-width="0.5"/>
<line x1="55.1" y1="505.2" x2="55.1" y2="504.2" stroke="#777" stroke-width="0.5"/>
<line x1="20.1" y1="484.4" x2="21.1" y2="484.4" stroke="#777" stroke-width="0.5"/>
<line x1="60.1" y1="505.2" x2="60.1" y2="504.2" stroke="#777" stroke-width="0.5"/>
<line x1="20.1" y1="489.4" x2="21.1" y2="489.4" stroke="#777" stroke-width="0.5"/>
<line x1="65.1" y1="505.2" x2="65.1" y2="504.2" stroke="#777" stroke-width="0.5"/>
<line x1="20.1" y1="494.4" x2="21.1" y2="494.4" stroke="#777" stroke-width="0.5"/>
<line x1="70.1" y1="505.2" x2="70.1" y2="504.2" stroke="#777" stroke-width="0.5"/>
<line x1="20.1" y1="499.4" x2="21.1" y2="499.4" stroke="#777" stroke-width="0.5"/>
<line x1="75.1" y1="505.2" x2="75.1" y2="504.2" stroke="#777" stroke-width="0.5"/>
<line x1="51.5" y1="444.4" x2="51.5" y2="505.2" stroke="#c890d2" stroke-width="0.9"/>
<line x1="20.1" y1="479.1" x2="80.8" y2="479.1" stroke="#c890d2" stroke-width="0.9"/>
<g filter="url(#blur1)" transform="rotate(-9 54.4 475.0)">
<ellipse cx="54.4" cy="475.0" rx="11.2" ry="5.9" fill="#4a58c8" opacity="0.85"/>
<ellipse cx="54.699999999999996" cy="474.8" rx="8.6" ry="4.5" fill="#3b7fd0"/>
<ellipse cx="55.0" cy="474.7" rx="6.6" ry="3.5" fill="#38b0a0"/>
<ellipse cx="55.3" cy="474.6" rx="4.6" ry="2.5" fill="#90c848"/>
<ellipse cx="55.5" cy="474.5" rx="2.6" ry="1.5" fill="#d8c038"/>
<ellipse cx="55.6" cy="474.5" rx="1.2" ry="0.8" fill="#e05a2a"/>
</g>
<rect x="61.3" y="483.6" width="0.8" height="0.8" fill="#3050b8" opacity="0.85"/>
<rect x="47.4" y="471.2" width="0.8" height="0.8" fill="#8890d8" opacity="0.85"/>
<rect x="47.5" y="471.7" width="0.8" height="0.8" fill="#3050b8" opacity="0.85"/>
<rect x="62.2" y="476.5" width="0.8" height="0.8" fill="#5a60c8" opacity="0.85"/>
<rect x="62.3" y="475.0" width="0.8" height="0.8" fill="#5a60c8" opacity="0.85"/>
<rect x="48.1" y="469.9" width="0.8" height="0.8" fill="#8890d8" opacity="0.85"/>
<rect x="63.7" y="470.3" width="0.8" height="0.8" fill="#8890d8" opacity="0.85"/>
<rect x="41.8" y="473.0" width="0.8" height="0.8" fill="#7078d0" opacity="0.85"/>
<rect x="41.5" y="475.2" width="0.8" height="0.8" fill="#7078d0" opacity="0.85"/>
<rect x="59.2" y="474.5" width="0.8" height="0.8" fill="#3050b8" opacity="0.85"/>
<rect x="60.7" y="471.2" width="0.8" height="0.8" fill="#5a60c8" opacity="0.85"/>
<rect x="61.8" y="468.2" width="0.8" height="0.8" fill="#7078d0" opacity="0.85"/>
<rect x="47.1" y="478.0" width="0.8" height="0.8" fill="#7078d0" opacity="0.85"/>
<rect x="43.2" y="471.0" width="0.8" height="0.8" fill="#8890d8" opacity="0.85"/>
<rect x="50.5" y="481.5" width="0.8" height="0.8" fill="#4050c0" opacity="0.85"/>
<rect x="44.6" y="479.9" width="0.8" height="0.8" fill="#4050c0" opacity="0.85"/>
<rect x="61.7" y="473.4" width="0.8" height="0.8" fill="#3050b8" opacity="0.85"/>
<rect x="46.4" y="475.9" width="0.8" height="0.8" fill="#3050b8" opacity="0.85"/>
<rect x="44.8" y="471.6" width="0.8" height="0.8" fill="#3050b8" opacity="0.85"/>
<rect x="60.3" y="474.1" width="0.8" height="0.8" fill="#5a60c8" opacity="0.85"/>
<rect x="47.1" y="481.0" width="0.8" height="0.8" fill="#4050c0" opacity="0.85"/>
<rect x="56.5" y="467.2" width="0.8" height="0.8" fill="#7078d0" opacity="0.85"/>
<rect x="56.9" y="480.2" width="0.8" height="0.8" fill="#3050b8" opacity="0.85"/>
<rect x="47.2" y="471.7" width="0.8" height="0.8" fill="#5a60c8" opacity="0.85"/>
<rect x="48.5" y="469.2" width="0.8" height="0.8" fill="#5a60c8" opacity="0.85"/>
<rect x="59.1" y="480.1" width="0.8" height="0.8" fill="#8890d8" opacity="0.85"/>
<rect x="61.7" y="476.4" width="0.8" height="0.8" fill="#5a60c8" opacity="0.85"/>
<rect x="50.1" y="481.2" width="0.8" height="0.8" fill="#5a60c8" opacity="0.85"/>
<rect x="63.9" y="473.5" width="0.8" height="0.8" fill="#8890d8" opacity="0.85"/>
<rect x="51.8" y="481.0" width="0.8" height="0.8" fill="#7078d0" opacity="0.85"/>
<rect x="45.0" y="474.6" width="0.8" height="0.8" fill="#3050b8" opacity="0.85"/>
<rect x="61.4" y="469.4" width="0.8" height="0.8" fill="#5a60c8" opacity="0.85"/>
<rect x="44.1" y="475.9" width="0.8" height="0.8" fill="#7078d0" opacity="0.85"/>
<rect x="53.6" y="480.3" width="0.8" height="0.8" fill="#4050c0" opacity="0.85"/>
<rect x="44.9" y="469.3" width="0.8" height="0.8" fill="#3050b8" opacity="0.85"/>
<rect x="64.4" y="475.8" width="0.8" height="0.8" fill="#8890d8" opacity="0.85"/>
<rect x="59.7" y="470.6" width="0.8" height="0.8" fill="#3050b8" opacity="0.85"/>
<rect x="45.4" y="476.7" width="0.8" height="0.8" fill="#7078d0" opacity="0.85"/>
<rect x="61.5" y="469.3" width="0.8" height="0.8" fill="#8890d8" opacity="0.85"/>
<rect x="45.4" y="474.2" width="0.8" height="0.8" fill="#8890d8" opacity="0.85"/>
<rect x="49.6" y="474.5" width="0.8" height="0.8" fill="#5a60c8" opacity="0.85"/>
<rect x="54.5" y="480.2" width="0.8" height="0.8" fill="#4050c0" opacity="0.85"/>
<rect x="62.7" y="474.0" width="0.8" height="0.8" fill="#5a60c8" opacity="0.85"/>
<rect x="60.7" y="472.2" width="0.8" height="0.8" fill="#7078d0" opacity="0.85"/>
<rect x="62.7" y="472.9" width="0.8" height="0.8" fill="#3050b8" opacity="0.85"/>
<rect x="62.1" y="472.0" width="0.8" height="0.8" fill="#7078d0" opacity="0.85"/>
<rect x="44.9" y="479.0" width="0.8" height="0.8" fill="#3050b8" opacity="0.85"/>
<rect x="52.3" y="479.0" width="0.8" height="0.8" fill="#5a60c8" opacity="0.85"/>
<rect x="47.2" y="471.5" width="0.8" height="0.8" fill="#3050b8" opacity="0.85"/>
<rect x="46.1" y="475.7" width="0.8" height="0.8" fill="#7078d0" opacity="0.85"/>
<rect x="68.0" y="475.5" width="0.8" height="0.8" fill="#5a60c8" opacity="0.85"/>
<rect x="46.0" y="479.3" width="0.8" height="0.8" fill="#8890d8" opacity="0.85"/>
<rect x="59.0" y="478.7" width="0.8" height="0.8" fill="#8890d8" opacity="0.85"/>
<rect x="44.1" y="470.8" width="0.8" height="0.8" fill="#5a60c8" opacity="0.85"/>
<rect x="46.5" y="471.3" width="0.8" height="0.8" fill="#5a60c8" opacity="0.85"/>
<rect x="45.8" y="473.5" width="0.8" height="0.8" fill="#5a60c8" opacity="0.85"/>
<rect x="43.3" y="474.7" width="0.8" height="0.8" fill="#4050c0" opacity="0.85"/>
<rect x="48.6" y="480.7" width="0.8" height="0.8" fill="#8890d8" opacity="0.85"/>
<rect x="39.8" y="475.4" width="0.8" height="0.8" fill="#8890d8" opacity="0.85"/>
<rect x="46.5" y="477.6" width="0.8" height="0.8" fill="#3050b8" opacity="0.85"/>
<rect x="61.8" y="475.5" width="0.8" height="0.8" fill="#5a60c8" opacity="0.85"/>
<rect x="48.0" y="478.4" width="0.8" height="0.8" fill="#4050c0" opacity="0.85"/>
<rect x="62.8" y="474.0" width="0.8" height="0.8" fill="#3050b8" opacity="0.85"/>
<rect x="39.3" y="467.6" width="0.8" height="0.8" fill="#8890d8" opacity="0.85"/>
<rect x="46.0" y="475.7" width="0.8" height="0.8" fill="#4050c0" opacity="0.85"/>
<rect x="55.8" y="482.4" width="0.8" height="0.8" fill="#7078d0" opacity="0.85"/>
<rect x="63.1" y="477.2" width="0.8" height="0.8" fill="#7078d0" opacity="0.85"/>
<rect x="55.2" y="477.5" width="0.8" height="0.8" fill="#5a60c8" opacity="0.85"/>
<rect x="55.5" y="479.1" width="0.8" height="0.8" fill="#8890d8" opacity="0.85"/>
<rect x="63.2" y="468.7" width="0.8" height="0.8" fill="#3050b8" opacity="0.85"/>
<rect x="61.2" y="479.2" width="0.8" height="0.8" fill="#7078d0" opacity="0.85"/>
<rect x="55.1" y="470.2" width="0.8" height="0.8" fill="#3050b8" opacity="0.85"/>
<rect x="42.8" y="474.7" width="0.8" height="0.8" fill="#8890d8" opacity="0.85"/>
<rect x="41.5" y="472.2" width="0.8" height="0.8" fill="#3050b8" opacity="0.85"/>
<rect x="52.4" y="480.9" width="0.8" height="0.8" fill="#4050c0" opacity="0.85"/>
<rect x="61.7" y="469.8" width="0.8" height="0.8" fill="#4050c0" opacity="0.85"/>
<rect x="48.0" y="471.0" width="0.8" height="0.8" fill="#4050c0" opacity="0.85"/>
<rect x="54.4" y="479.0" width="0.8" height="0.8" fill="#7078d0" opacity="0.85"/>
<rect x="46.1" y="476.8" width="0.8" height="0.8" fill="#4050c0" opacity="0.85"/>
<rect x="58.0" y="469.2" width="0.8" height="0.8" fill="#3050b8" opacity="0.85"/>
<rect x="46.2" y="478.2" width="0.8" height="0.8" fill="#8890d8" opacity="0.85"/>
<rect x="48.6" y="470.6" width="0.8" height="0.8" fill="#3050b8" opacity="0.85"/>
<rect x="59.2" y="467.7" width="0.8" height="0.8" fill="#4050c0" opacity="0.85"/>
<rect x="65.6" y="470.6" width="0.8" height="0.8" fill="#3050b8" opacity="0.85"/>
<rect x="54.8" y="483.7" width="0.8" height="0.8" fill="#4050c0" opacity="0.85"/>
<rect x="53.6" y="478.6" width="0.8" height="0.8" fill="#4050c0" opacity="0.85"/>
<rect x="43.5" y="466.2" width="0.8" height="0.8" fill="#5a60c8" opacity="0.85"/>
<rect x="61.4" y="472.1" width="0.8" height="0.8" fill="#4050c0" opacity="0.85"/>
<rect x="49.1" y="479.7" width="0.8" height="0.8" fill="#7078d0" opacity="0.85"/>
<rect x="48.4" y="470.1" width="0.8" height="0.8" fill="#4050c0" opacity="0.85"/>
<rect x="62.2" y="469.2" width="0.8" height="0.8" fill="#7078d0" opacity="0.85"/>
<rect x="42.2" y="476.8" width="0.8" height="0.8" fill="#8890d8" opacity="0.85"/>
<rect x="51.5" y="481.0" width="0.8" height="0.8" fill="#5a60c8" opacity="0.85"/>
<rect x="54.4" y="468.4" width="0.8" height="0.8" fill="#7078d0" opacity="0.85"/>
<rect x="51.5" y="481.4" width="0.8" height="0.8" fill="#3050b8" opacity="0.85"/>
<rect x="66.3" y="476.6" width="0.8" height="0.8" fill="#7078d0" opacity="0.85"/>
<rect x="64.6" y="475.7" width="0.8" height="0.8" fill="#3050b8" opacity="0.85"/>
<rect x="46.4" y="472.9" width="0.8" height="0.8" fill="#5a60c8" opacity="0.85"/>
<rect x="43.9" y="481.4" width="0.8" height="0.8" fill="#4050c0" opacity="0.85"/>
<rect x="51.8" y="470.1" width="0.8" height="0.8" fill="#7078d0" opacity="0.85"/>
<rect x="45.9" y="475.7" width="0.8" height="0.8" fill="#4050c0" opacity="0.85"/>
<rect x="51.1" y="479.5" width="0.8" height="0.8" fill="#5a60c8" opacity="0.85"/>
<rect x="47.1" y="470.4" width="0.8" height="0.8" fill="#3050b8" opacity="0.85"/>
<rect x="42.8" y="479.3" width="0.8" height="0.8" fill="#4050c0" opacity="0.85"/>
<rect x="64.3" y="479.1" width="0.8" height="0.8" fill="#3050b8" opacity="0.85"/>
<rect x="52.4" y="482.5" width="0.8" height="0.8" fill="#3050b8" opacity="0.85"/>
<rect x="46.2" y="470.2" width="0.8" height="0.8" fill="#8890d8" opacity="0.85"/>
<rect x="56.7" y="481.4" width="0.8" height="0.8" fill="#8890d8" opacity="0.85"/>
<rect x="63.8" y="478.1" width="0.8" height="0.8" fill="#3050b8" opacity="0.85"/>
<rect x="64.1" y="480.0" width="0.8" height="0.8" fill="#7078d0" opacity="0.85"/>
<rect x="45.2" y="467.1" width="0.8" height="0.8" fill="#4050c0" opacity="0.85"/>
<rect x="50.9" y="469.9" width="0.8" height="0.8" fill="#4050c0" opacity="0.85"/>
<rect x="44.7" y="470.6" width="0.8" height="0.8" fill="#8890d8" opacity="0.85"/>
<rect x="61.9" y="473.9" width="0.8" height="0.8" fill="#5a60c8" opacity="0.85"/>
<rect x="43.4" y="472.3" width="0.8" height="0.8" fill="#5a60c8" opacity="0.85"/>
<rect x="60.4" y="470.6" width="0.8" height="0.8" fill="#7078d0" opacity="0.85"/>
<rect x="43.9" y="479.7" width="0.8" height="0.8" fill="#8890d8" opacity="0.85"/>
<rect x="50.2" y="468.4" width="0.8" height="0.8" fill="#4050c0" opacity="0.85"/>
<rect x="51.4" y="467.8" width="0.8" height="0.8" fill="#8890d8" opacity="0.85"/>
<rect x="53.6" y="479.6" width="0.8" height="0.8" fill="#7078d0" opacity="0.85"/>
<rect x="47.7" y="477.3" width="0.8" height="0.8" fill="#4050c0" opacity="0.85"/>
<rect x="44.5" y="475.7" width="0.8" height="0.8" fill="#3050b8" opacity="0.85"/>
<rect x="59.5" y="477.7" width="0.8" height="0.8" fill="#4050c0" opacity="0.85"/>
<rect x="49.7" y="479.9" width="0.8" height="0.8" fill="#8890d8" opacity="0.85"/>
<rect x="54.0" y="481.9" width="0.8" height="0.8" fill="#4050c0" opacity="0.85"/>
<rect x="49.2" y="479.1" width="0.8" height="0.8" fill="#8890d8" opacity="0.85"/>
<rect x="58.1" y="480.2" width="0.8" height="0.8" fill="#4050c0" opacity="0.85"/>
<rect x="50.9" y="474.9" width="0.8" height="0.8" fill="#7078d0" opacity="0.85"/>
<rect x="49.3" y="479.1" width="0.8" height="0.8" fill="#3050b8" opacity="0.85"/>
<rect x="61.1" y="476.7" width="0.8" height="0.8" fill="#7078d0" opacity="0.85"/>
<rect x="60.5" y="470.7" width="0.8" height="0.8" fill="#7078d0" opacity="0.85"/>
<rect x="55.9" y="479.2" width="0.8" height="0.8" fill="#7078d0" opacity="0.85"/>
<rect x="47.3" y="471.1" width="0.8" height="0.8" fill="#7078d0" opacity="0.85"/>
<rect x="59.7" y="479.6" width="0.8" height="0.8" fill="#8890d8" opacity="0.85"/>
<rect x="65.1" y="474.8" width="0.8" height="0.8" fill="#4050c0" opacity="0.85"/>
<rect x="43.3" y="476.9" width="0.8" height="0.8" fill="#4050c0" opacity="0.85"/>
<rect x="47.3" y="469.6" width="0.8" height="0.8" fill="#8890d8" opacity="0.85"/>
<rect x="52.4" y="480.8" width="0.8" height="0.8" fill="#4050c0" opacity="0.85"/>
<rect x="64.6" y="481.2" width="0.8" height="0.8" fill="#7078d0" opacity="0.85"/>
<rect x="46.3" y="473.1" width="0.8" height="0.8" fill="#3050b8" opacity="0.85"/>
<rect x="45.2" y="476.9" width="0.8" height="0.8" fill="#8890d8" opacity="0.85"/>
<rect x="65.7" y="473.1" width="0.8" height="0.8" fill="#7078d0" opacity="0.85"/>
<rect x="45.8" y="469.6" width="0.8" height="0.8" fill="#3050b8" opacity="0.85"/>
<rect x="43.8" y="476.5" width="0.8" height="0.8" fill="#5a60c8" opacity="0.85"/>
<rect x="52.4" y="469.7" width="0.8" height="0.8" fill="#7078d0" opacity="0.85"/>
<rect x="50.0" y="468.9" width="0.8" height="0.8" fill="#8890d8" opacity="0.85"/>
<rect x="54.0" y="467.1" width="0.8" height="0.8" fill="#4050c0" opacity="0.85"/>
<rect x="41.6" y="473.8" width="0.8" height="0.8" fill="#3050b8" opacity="0.85"/>
<rect x="61.0" y="471.7" width="0.8" height="0.8" fill="#4050c0" opacity="0.85"/>
<rect x="48.8" y="471.0" width="0.8" height="0.8" fill="#3050b8" opacity="0.85"/>
<rect x="66.1" y="476.7" width="0.8" height="0.8" fill="#4050c0" opacity="0.85"/>
<rect x="48.0" y="478.4" width="0.8" height="0.8" fill="#7078d0" opacity="0.85"/>
<rect x="42.7" y="478.8" width="0.8" height="0.8" fill="#7078d0" opacity="0.85"/>
<rect x="62.6" y="478.5" width="0.8" height="0.8" fill="#8890d8" opacity="0.85"/>
<rect x="68.4" y="474.8" width="0.8" height="0.8" fill="#8890d8" opacity="0.85"/>
<rect x="66.1" y="479.9" width="0.8" height="0.8" fill="#8890d8" opacity="0.85"/>
<rect x="61.2" y="472.8" width="0.8" height="0.8" fill="#5a60c8" opacity="0.85"/>
<rect x="61.9" y="478.5" width="0.8" height="0.8" fill="#4050c0" opacity="0.85"/>
<rect x="53.4" y="467.4" width="0.8" height="0.8" fill="#3050b8" opacity="0.85"/>
<rect x="54.6" y="468.8" width="0.8" height="0.8" fill="#7078d0" opacity="0.85"/>
<rect x="41.1" y="477.8" width="0.8" height="0.8" fill="#7078d0" opacity="0.85"/>
<rect x="62.3" y="480.1" width="0.8" height="0.8" fill="#7078d0" opacity="0.85"/>
<rect x="62.9" y="477.3" width="0.8" height="0.8" fill="#5a60c8" opacity="0.85"/>
<rect x="64.7" y="474.2" width="0.8" height="0.8" fill="#8890d8" opacity="0.85"/>
<rect x="56.5" y="481.3" width="0.8" height="0.8" fill="#5a60c8" opacity="0.85"/>
<rect x="54.0" y="479.5" width="0.8" height="0.8" fill="#4050c0" opacity="0.85"/>
<rect x="61.2" y="480.1" width="0.8" height="0.8" fill="#3050b8" opacity="0.85"/>
<rect x="62.0" y="478.5" width="0.8" height="0.8" fill="#7078d0" opacity="0.85"/>
<rect x="46.7" y="470.6" width="0.8" height="0.8" fill="#4050c0" opacity="0.85"/>
<rect x="58.4" y="478.5" width="0.8" height="0.8" fill="#8890d8" opacity="0.85"/>
<rect x="59.2" y="478.5" width="0.8" height="0.8" fill="#8890d8" opacity="0.85"/>
<rect x="63.0" y="486.7" width="0.8" height="0.8" fill="#7078d0" opacity="0.85"/>
<rect x="62.8" y="477.0" width="0.8" height="0.8" fill="#5a60c8" opacity="0.85"/>
<rect x="57.3" y="467.1" width="0.8" height="0.8" fill="#3050b8" opacity="0.85"/>
<rect x="62.9" y="473.7" width="0.8" height="0.8" fill="#5a60c8" opacity="0.85"/>
<rect x="43.3" y="477.9" width="0.8" height="0.8" fill="#7078d0" opacity="0.85"/>
<rect x="52.2" y="479.5" width="0.8" height="0.8" fill="#8890d8" opacity="0.85"/>
<rect x="42.3" y="477.5" width="0.8" height="0.8" fill="#5a60c8" opacity="0.85"/>
<rect x="55.6" y="468.7" width="0.8" height="0.8" fill="#4050c0" opacity="0.85"/>
<rect x="56.6" y="480.1" width="0.8" height="0.8" fill="#8890d8" opacity="0.85"/>
<rect x="47.0" y="477.1" width="0.8" height="0.8" fill="#3050b8" opacity="0.85"/>
<rect x="54.3" y="482.2" width="0.8" height="0.8" fill="#8890d8" opacity="0.85"/>
<rect x="53.1" y="471.2" width="0.8" height="0.8" fill="#4050c0" opacity="0.85"/>
<rect x="58.0" y="483.1" width="0.8" height="0.8" fill="#3050b8" opacity="0.85"/>
<rect x="63.7" y="475.4" width="0.8" height="0.8" fill="#5a60c8" opacity="0.85"/>
<rect x="64.1" y="473.7" width="0.8" height="0.8" fill="#7078d0" opacity="0.85"/>
<rect x="58.8" y="480.8" width="0.8" height="0.8" fill="#5a60c8" opacity="0.85"/>
<rect x="64.3" y="475.1" width="0.8" height="0.8" fill="#3050b8" opacity="0.85"/>
<rect x="47.6" y="468.9" width="0.8" height="0.8" fill="#7078d0" opacity="0.85"/>
<rect x="57.1" y="480.7" width="0.8" height="0.8" fill="#8890d8" opacity="0.85"/>
<rect x="43.4" y="477.3" width="0.8" height="0.8" fill="#8890d8" opacity="0.85"/>
<rect x="63.3" y="471.6" width="0.8" height="0.8" fill="#5a60c8" opacity="0.85"/>
<rect x="52.5" y="469.0" width="0.8" height="0.8" fill="#3050b8" opacity="0.85"/>
<rect x="47.4" y="472.0" width="0.8" height="0.8" fill="#8890d8" opacity="0.85"/>
<rect x="50.3" y="480.0" width="0.8" height="0.8" fill="#4050c0" opacity="0.85"/>
<rect x="45.2" y="477.9" width="0.8" height="0.8" fill="#3050b8" opacity="0.85"/>
<rect x="43.5" y="478.8" width="0.8" height="0.8" fill="#7078d0" opacity="0.85"/>
<rect x="42.0" y="477.7" width="0.8" height="0.8" fill="#8890d8" opacity="0.85"/>
<rect x="50.4" y="480.5" width="0.8" height="0.8" fill="#4050c0" opacity="0.85"/>
<rect x="51.3" y="467.6" width="0.8" height="0.8" fill="#4050c0" opacity="0.85"/>
<rect x="58.1" y="477.2" width="0.8" height="0.8" fill="#a0a8e0" opacity="0.7"/>
<rect x="57.5" y="474.5" width="0.8" height="0.8" fill="#a0a8e0" opacity="0.7"/>
<rect x="37.9" y="474.4" width="0.8" height="0.8" fill="#a0a8e0" opacity="0.7"/>
<rect x="35.4" y="478.1" width="0.8" height="0.8" fill="#a0a8e0" opacity="0.7"/>
<rect x="51.5" y="468.0" width="0.8" height="0.8" fill="#a0a8e0" opacity="0.7"/>
<rect x="57.0" y="474.1" width="0.8" height="0.8" fill="#a0a8e0" opacity="0.7"/>
<rect x="57.6" y="476.5" width="0.8" height="0.8" fill="#a0a8e0" opacity="0.7"/>
<rect x="62.2" y="468.2" width="0.8" height="0.8" fill="#a0a8e0" opacity="0.7"/>
<rect x="52.0" y="481.9" width="0.8" height="0.8" fill="#a0a8e0" opacity="0.7"/>
<rect x="70.2" y="484.9" width="0.8" height="0.8" fill="#a0a8e0" opacity="0.7"/>
<rect x="64.3" y="475.7" width="0.8" height="0.8" fill="#a0a8e0" opacity="0.7"/>
<rect x="75.2" y="473.0" width="0.8" height="0.8" fill="#a0a8e0" opacity="0.7"/>
<rect x="57.1" y="478.6" width="0.8" height="0.8" fill="#a0a8e0" opacity="0.7"/>
<rect x="50.6" y="480.3" width="0.8" height="0.8" fill="#a0a8e0" opacity="0.7"/>
<rect x="63.3" y="480.8" width="0.8" height="0.8" fill="#a0a8e0" opacity="0.7"/>
<rect x="44.5" y="479.2" width="0.8" height="0.8" fill="#a0a8e0" opacity="0.7"/>
<rect x="60.1" y="477.0" width="0.8" height="0.8" fill="#a0a8e0" opacity="0.7"/>
<rect x="55.4" y="479.2" width="0.8" height="0.8" fill="#a0a8e0" opacity="0.7"/>
<rect x="64.4" y="478.5" width="0.8" height="0.8" fill="#a0a8e0" opacity="0.7"/>
<rect x="58.6" y="472.8" width="0.8" height="0.8" fill="#a0a8e0" opacity="0.7"/>
<rect x="60.0" y="477.2" width="0.8" height="0.8" fill="#a0a8e0" opacity="0.7"/>
<rect x="53.0" y="473.8" width="0.8" height="0.8" fill="#a0a8e0" opacity="0.7"/>
<rect x="60.2" y="471.9" width="0.8" height="0.8" fill="#a0a8e0" opacity="0.7"/>
<rect x="49.1" y="470.7" width="0.8" height="0.8" fill="#a0a8e0" opacity="0.7"/>
<rect x="62.6" y="474.5" width="0.8" height="0.8" fill="#a0a8e0" opacity="0.7"/>
<rect x="42.4" y="467.1" width="0.8" height="0.8" fill="#a0a8e0" opacity="0.7"/>
<rect x="50.2" y="470.5" width="0.8" height="0.8" fill="#a0a8e0" opacity="0.7"/>
<rect x="44.5" y="482.7" width="0.8" height="0.8" fill="#a0a8e0" opacity="0.7"/>
<rect x="54.2" y="466.1" width="0.8" height="0.8" fill="#a0a8e0" opacity="0.7"/>
<rect x="48.0" y="470.5" width="0.8" height="0.8" fill="#a0a8e0" opacity="0.7"/>
<rect x="64.0" y="480.7" width="0.8" height="0.8" fill="#a0a8e0" opacity="0.7"/>
<rect x="50.1" y="476.7" width="0.8" height="0.8" fill="#a0a8e0" opacity="0.7"/>
<rect x="55.3" y="472.7" width="0.8" height="0.8" fill="#a0a8e0" opacity="0.7"/>
<rect x="70.4" y="476.7" width="0.8" height="0.8" fill="#a0a8e0" opacity="0.7"/>
<rect x="54.0" y="480.8" width="0.8" height="0.8" fill="#a0a8e0" opacity="0.7"/>
<rect x="40.5" y="475.4" width="0.8" height="0.8" fill="#a0a8e0" opacity="0.7"/>
<rect x="46.7" y="471.7" width="0.8" height="0.8" fill="#a0a8e0" opacity="0.7"/>
<rect x="40.4" y="470.9" width="0.8" height="0.8" fill="#a0a8e0" opacity="0.7"/>
<rect x="57.9" y="476.5" width="0.8" height="0.8" fill="#a0a8e0" opacity="0.7"/>
<rect x="54.3" y="462.7" width="0.8" height="0.8" fill="#a0a8e0" opacity="0.7"/>
<rect x="55.4" y="478.3" width="0.8" height="0.8" fill="#a0a8e0" opacity="0.7"/>
<rect x="42.8" y="481.5" width="0.8" height="0.8" fill="#a0a8e0" opacity="0.7"/>
<rect x="39.4" y="473.9" width="0.8" height="0.8" fill="#a0a8e0" opacity="0.7"/>
<rect x="64.7" y="474.2" width="0.8" height="0.8" fill="#a0a8e0" opacity="0.7"/>
<rect x="48.0" y="482.6" width="0.8" height="0.8" fill="#a0a8e0" opacity="0.7"/>
<rect x="44.8" y="473.3" width="0.8" height="0.8" fill="#a0a8e0" opacity="0.7"/>
<rect x="59.0" y="473.1" width="0.8" height="0.8" fill="#a0a8e0" opacity="0.7"/>
<rect x="51.6" y="475.8" width="0.8" height="0.8" fill="#a0a8e0" opacity="0.7"/>
<rect x="47.8" y="470.5" width="0.8" height="0.8" fill="#a0a8e0" opacity="0.7"/>
<rect x="54.7" y="479.8" width="0.8" height="0.8" fill="#a0a8e0" opacity="0.7"/>
<rect x="58.6" y="486.4" width="0.8" height="0.8" fill="#a0a8e0" opacity="0.7"/>
<rect x="47.9" y="472.5" width="0.8" height="0.8" fill="#a0a8e0" opacity="0.7"/>
<rect x="54.9" y="468.7" width="0.8" height="0.8" fill="#a0a8e0" opacity="0.7"/>
<rect x="43.0" y="475.9" width="0.8" height="0.8" fill="#a0a8e0" opacity="0.7"/>
<rect x="51.6" y="477.8" width="0.8" height="0.8" fill="#a0a8e0" opacity="0.7"/>
<rect x="48.3" y="471.0" width="0.8" height="0.8" fill="#a0a8e0" opacity="0.7"/>
<rect x="52.2" y="468.1" width="0.8" height="0.8" fill="#a0a8e0" opacity="0.7"/>
<rect x="49.0" y="476.8" width="0.8" height="0.8" fill="#a0a8e0" opacity="0.7"/>
<rect x="56.3" y="482.1" width="0.8" height="0.8" fill="#a0a8e0" opacity="0.7"/>
<rect x="56.0" y="482.1" width="0.8" height="0.8" fill="#a0a8e0" opacity="0.7"/>
<rect x="40.4" y="480.3" width="0.8" height="0.8" fill="#a0a8e0" opacity="0.7"/>
<rect x="53.4" y="477.7" width="0.8" height="0.8" fill="#a0a8e0" opacity="0.7"/>
<rect x="61.8" y="478.2" width="0.8" height="0.8" fill="#a0a8e0" opacity="0.7"/>
<rect x="49.9" y="477.5" width="0.8" height="0.8" fill="#a0a8e0" opacity="0.7"/>
<rect x="43.9" y="474.9" width="0.8" height="0.8" fill="#a0a8e0" opacity="0.7"/>
<rect x="63.6" y="473.9" width="0.8" height="0.8" fill="#a0a8e0" opacity="0.7"/>
<rect x="56.3" y="480.0" width="0.8" height="0.8" fill="#a0a8e0" opacity="0.7"/>
<rect x="68.2" y="475.0" width="0.8" height="0.8" fill="#a0a8e0" opacity="0.7"/>
<rect x="44.5" y="477.4" width="0.8" height="0.8" fill="#a0a8e0" opacity="0.7"/>
<rect x="62.4" y="474.9" width="0.8" height="0.8" fill="#a0a8e0" opacity="0.7"/>
<text x="21.7" y="450.4" font-size="4.9" fill="#d63ab0">20.9</text>
<text x="79.6" y="450.4" font-size="4.9" text-anchor="end" fill="#d63ab0">71.8</text>
<text x="21.7" y="503.7" font-size="4.9" fill="#d63ab0">1.67</text>
<text x="79.6" y="503.7" font-size="4.9" text-anchor="end" fill="#d63ab0">5.57</text>
<text x="23.5" y="461" font-size="6.9" textLength="24.75" lengthAdjust="spacingAndGlyphs" fill="#222">19.8±4.2%</text>
<text x="52" y="439.2" font-size="7.8" text-anchor="middle" fill="#222">d0</text>
<line x1="83.3" y1="444.2" x2="135.5" y2="444.2" stroke="#555" stroke-width="0.9"/>
<line x1="83.3" y1="444.2" x2="83.3" y2="505.2" stroke="#555" stroke-width="0.9"/>
<line x1="144.5" y1="444.2" x2="144.5" y2="505.2" stroke="#555" stroke-width="0.9"/>
<line x1="83.3" y1="505.2" x2="144.5" y2="505.2" stroke="#555" stroke-width="0.9"/>
<line x1="83.3" y1="449.2" x2="84.3" y2="449.2" stroke="#777" stroke-width="0.5"/>
<line x1="88.3" y1="505.2" x2="88.3" y2="504.2" stroke="#777" stroke-width="0.5"/>
<line x1="83.3" y1="454.2" x2="84.3" y2="454.2" stroke="#777" stroke-width="0.5"/>
<line x1="93.3" y1="505.2" x2="93.3" y2="504.2" stroke="#777" stroke-width="0.5"/>
<line x1="83.3" y1="459.2" x2="84.3" y2="459.2" stroke="#777" stroke-width="0.5"/>
<line x1="98.3" y1="505.2" x2="98.3" y2="504.2" stroke="#777" stroke-width="0.5"/>
<line x1="83.3" y1="464.2" x2="84.3" y2="464.2" stroke="#777" stroke-width="0.5"/>
<line x1="103.3" y1="505.2" x2="103.3" y2="504.2" stroke="#777" stroke-width="0.5"/>
<line x1="83.3" y1="469.2" x2="84.3" y2="469.2" stroke="#777" stroke-width="0.5"/>
<line x1="108.3" y1="505.2" x2="108.3" y2="504.2" stroke="#777" stroke-width="0.5"/>
<line x1="83.3" y1="474.2" x2="84.3" y2="474.2" stroke="#777" stroke-width="0.5"/>
<line x1="113.3" y1="505.2" x2="113.3" y2="504.2" stroke="#777" stroke-width="0.5"/>
<line x1="83.3" y1="479.2" x2="84.3" y2="479.2" stroke="#777" stroke-width="0.5"/>
<line x1="118.3" y1="505.2" x2="118.3" y2="504.2" stroke="#777" stroke-width="0.5"/>
<line x1="83.3" y1="484.2" x2="84.3" y2="484.2" stroke="#777" stroke-width="0.5"/>
<line x1="123.3" y1="505.2" x2="123.3" y2="504.2" stroke="#777" stroke-width="0.5"/>
<line x1="83.3" y1="489.2" x2="84.3" y2="489.2" stroke="#777" stroke-width="0.5"/>
<line x1="128.3" y1="505.2" x2="128.3" y2="504.2" stroke="#777" stroke-width="0.5"/>
<line x1="83.3" y1="494.2" x2="84.3" y2="494.2" stroke="#777" stroke-width="0.5"/>
<line x1="133.3" y1="505.2" x2="133.3" y2="504.2" stroke="#777" stroke-width="0.5"/>
<line x1="83.3" y1="499.2" x2="84.3" y2="499.2" stroke="#777" stroke-width="0.5"/>
<line x1="138.3" y1="505.2" x2="138.3" y2="504.2" stroke="#777" stroke-width="0.5"/>
<line x1="114.8" y1="444.2" x2="114.8" y2="505.2" stroke="#c890d2" stroke-width="0.9"/>
<line x1="83.3" y1="478.5" x2="144.5" y2="478.5" stroke="#c890d2" stroke-width="0.9"/>
<g filter="url(#blur1)" transform="rotate(-9 117.2 476.2)">
<ellipse cx="117.2" cy="476.2" rx="12.544" ry="5.9" fill="#4a58c8" opacity="0.85"/>
<ellipse cx="117.5" cy="476.0" rx="9.632" ry="4.5" fill="#3b7fd0"/>
<ellipse cx="117.8" cy="475.9" rx="7.392" ry="3.5" fill="#38b0a0"/>
<ellipse cx="118.10000000000001" cy="475.8" rx="5.152" ry="2.5" fill="#90c848"/>
<ellipse cx="118.3" cy="475.7" rx="2.9120000000000004" ry="1.5" fill="#d8c038"/>
<ellipse cx="118.4" cy="475.7" rx="1.2" ry="0.8" fill="#e05a2a"/>
</g>
<rect x="107.4" y="473.7" width="0.8" height="0.8" fill="#4050c0" opacity="0.85"/>
<rect x="114.9" y="470.1" width="0.8" height="0.8" fill="#3050b8" opacity="0.85"/>
<rect x="126.9" y="481.9" width="0.8" height="0.8" fill="#7078d0" opacity="0.85"/>
<rect x="115.9" y="480.1" width="0.8" height="0.8" fill="#3050b8" opacity="0.85"/>
<rect x="132.8" y="476.1" width="0.8" height="0.8" fill="#8890d8" opacity="0.85"/>
<rect x="123.7" y="468.4" width="0.8" height="0.8" fill="#7078d0" opacity="0.85"/>
<rect x="120.1" y="471.1" width="0.8" height="0.8" fill="#3050b8" opacity="0.85"/>
<rect x="114.3" y="474.9" width="0.8" height="0.8" fill="#4050c0" opacity="0.85"/>
<rect x="130.5" y="478.2" width="0.8" height="0.8" fill="#8890d8" opacity="0.85"/>
<rect x="113.4" y="483.5" width="0.8" height="0.8" fill="#5a60c8" opacity="0.85"/>
<rect x="126.4" y="476.1" width="0.8" height="0.8" fill="#8890d8" opacity="0.85"/>
<rect x="124.7" y="473.1" width="0.8" height="0.8" fill="#8890d8" opacity="0.85"/>
<rect x="105.0" y="480.1" width="0.8" height="0.8" fill="#8890d8" opacity="0.85"/>
<rect x="130.4" y="471.6" width="0.8" height="0.8" fill="#7078d0" opacity="0.85"/>
<rect x="126.4" y="483.7" width="0.8" height="0.8" fill="#4050c0" opacity="0.85"/>
<rect x="122.7" y="480.2" width="0.8" height="0.8" fill="#8890d8" opacity="0.85"/>
<rect x="107.5" y="475.7" width="0.8" height="0.8" fill="#3050b8" opacity="0.85"/>
<rect x="112.6" y="480.9" width="0.8" height="0.8" fill="#7078d0" opacity="0.85"/>
<rect x="106.8" y="476.5" width="0.8" height="0.8" fill="#4050c0" opacity="0.85"/>
<rect x="104.7" y="479.9" width="0.8" height="0.8" fill="#3050b8" opacity="0.85"/>
<rect x="127.5" y="480.0" width="0.8" height="0.8" fill="#8890d8" opacity="0.85"/>
<rect x="117.2" y="468.5" width="0.8" height="0.8" fill="#4050c0" opacity="0.85"/>
<rect x="105.9" y="474.8" width="0.8" height="0.8" fill="#5a60c8" opacity="0.85"/>
<rect x="127.2" y="473.0" width="0.8" height="0.8" fill="#8890d8" opacity="0.85"/>
<rect x="120.4" y="482.0" width="0.8" height="0.8" fill="#5a60c8" opacity="0.85"/>
<rect x="126.9" y="473.2" width="0.8" height="0.8" fill="#8890d8" opacity="0.85"/>
<rect x="114.8" y="480.6" width="0.8" height="0.8" fill="#4050c0" opacity="0.85"/>
<rect x="103.2" y="472.9" width="0.8" height="0.8" fill="#4050c0" opacity="0.85"/>
<rect x="109.8" y="471.6" width="0.8" height="0.8" fill="#5a60c8" opacity="0.85"/>
<rect x="121.3" y="482.6" width="0.8" height="0.8" fill="#3050b8" opacity="0.85"/>
<rect x="128.8" y="475.2" width="0.8" height="0.8" fill="#7078d0" opacity="0.85"/>
<rect x="102.0" y="477.7" width="0.8" height="0.8" fill="#5a60c8" opacity="0.85"/>
<rect x="106.7" y="475.2" width="0.8" height="0.8" fill="#7078d0" opacity="0.85"/>
<rect x="113.3" y="471.1" width="0.8" height="0.8" fill="#3050b8" opacity="0.85"/>
<rect x="116.1" y="482.0" width="0.8" height="0.8" fill="#3050b8" opacity="0.85"/>
<rect x="100.1" y="478.1" width="0.8" height="0.8" fill="#8890d8" opacity="0.85"/>
<rect x="100.2" y="467.7" width="0.8" height="0.8" fill="#7078d0" opacity="0.85"/>
<rect x="107.1" y="475.6" width="0.8" height="0.8" fill="#5a60c8" opacity="0.85"/>
<rect x="120.1" y="471.6" width="0.8" height="0.8" fill="#8890d8" opacity="0.85"/>
<rect x="126.8" y="472.0" width="0.8" height="0.8" fill="#7078d0" opacity="0.85"/>
<rect x="102.3" y="472.7" width="0.8" height="0.8" fill="#7078d0" opacity="0.85"/>
<rect x="113.8" y="481.3" width="0.8" height="0.8" fill="#5a60c8" opacity="0.85"/>
<rect x="131.1" y="475.4" width="0.8" height="0.8" fill="#8890d8" opacity="0.85"/>
<rect x="105.2" y="471.4" width="0.8" height="0.8" fill="#8890d8" opacity="0.85"/>
<rect x="134.6" y="481.9" width="0.8" height="0.8" fill="#4050c0" opacity="0.85"/>
<rect x="112.9" y="480.3" width="0.8" height="0.8" fill="#7078d0" opacity="0.85"/>
<rect x="107.9" y="474.9" width="0.8" height="0.8" fill="#3050b8" opacity="0.85"/>
<rect x="131.4" y="481.6" width="0.8" height="0.8" fill="#3050b8" opacity="0.85"/>
<rect x="105.0" y="476.7" width="0.8" height="0.8" fill="#7078d0" opacity="0.85"/>
<rect x="118.7" y="470.1" width="0.8" height="0.8" fill="#8890d8" opacity="0.85"/>
<rect x="122.1" y="469.9" width="0.8" height="0.8" fill="#7078d0" opacity="0.85"/>
<rect x="104.0" y="480.7" width="0.8" height="0.8" fill="#5a60c8" opacity="0.85"/>
<rect x="127.1" y="471.0" width="0.8" height="0.8" fill="#7078d0" opacity="0.85"/>
<rect x="104.4" y="476.3" width="0.8" height="0.8" fill="#5a60c8" opacity="0.85"/>
<rect x="132.0" y="474.6" width="0.8" height="0.8" fill="#4050c0" opacity="0.85"/>
<rect x="124.2" y="472.8" width="0.8" height="0.8" fill="#8890d8" opacity="0.85"/>
<rect x="106.3" y="478.6" width="0.8" height="0.8" fill="#4050c0" opacity="0.85"/>
<rect x="100.7" y="476.2" width="0.8" height="0.8" fill="#3050b8" opacity="0.85"/>
<rect x="116.4" y="482.8" width="0.8" height="0.8" fill="#4050c0" opacity="0.85"/>
<rect x="122.3" y="477.3" width="0.8" height="0.8" fill="#5a60c8" opacity="0.85"/>
<rect x="125.4" y="477.1" width="0.8" height="0.8" fill="#8890d8" opacity="0.85"/>
<rect x="101.3" y="474.5" width="0.8" height="0.8" fill="#5a60c8" opacity="0.85"/>
<rect x="122.0" y="467.5" width="0.8" height="0.8" fill="#7078d0" opacity="0.85"/>
<rect x="123.5" y="478.7" width="0.8" height="0.8" fill="#5a60c8" opacity="0.85"/>
<rect x="108.1" y="481.2" width="0.8" height="0.8" fill="#8890d8" opacity="0.85"/>
<rect x="108.5" y="473.8" width="0.8" height="0.8" fill="#8890d8" opacity="0.85"/>
<rect x="103.0" y="469.1" width="0.8" height="0.8" fill="#7078d0" opacity="0.85"/>
<rect x="125.7" y="474.4" width="0.8" height="0.8" fill="#3050b8" opacity="0.85"/>
<rect x="108.3" y="474.0" width="0.8" height="0.8" fill="#5a60c8" opacity="0.85"/>
<rect x="114.1" y="471.2" width="0.8" height="0.8" fill="#4050c0" opacity="0.85"/>
<rect x="114.1" y="471.3" width="0.8" height="0.8" fill="#7078d0" opacity="0.85"/>
<rect x="112.0" y="471.0" width="0.8" height="0.8" fill="#4050c0" opacity="0.85"/>
<rect x="95.8" y="475.3" width="0.8" height="0.8" fill="#5a60c8" opacity="0.85"/>
<rect x="107.5" y="473.7" width="0.8" height="0.8" fill="#4050c0" opacity="0.85"/>
<rect x="131.7" y="474.9" width="0.8" height="0.8" fill="#8890d8" opacity="0.85"/>
<rect x="109.1" y="474.5" width="0.8" height="0.8" fill="#7078d0" opacity="0.85"/>
<rect x="121.3" y="480.6" width="0.8" height="0.8" fill="#4050c0" opacity="0.85"/>
<rect x="123.7" y="470.5" width="0.8" height="0.8" fill="#3050b8" opacity="0.85"/>
<rect x="132.7" y="475.2" width="0.8" height="0.8" fill="#7078d0" opacity="0.85"/>
<rect x="121.9" y="470.9" width="0.8" height="0.8" fill="#7078d0" opacity="0.85"/>
<rect x="125.6" y="477.2" width="0.8" height="0.8" fill="#3050b8" opacity="0.85"/>
<rect x="104.1" y="474.0" width="0.8" height="0.8" fill="#8890d8" opacity="0.85"/>
<rect x="121.1" y="481.7" width="0.8" height="0.8" fill="#7078d0" opacity="0.85"/>
<rect x="125.5" y="472.5" width="0.8" height="0.8" fill="#7078d0" opacity="0.85"/>
<rect x="131.7" y="485.9" width="0.8" height="0.8" fill="#3050b8" opacity="0.85"/>
<rect x="121.9" y="472.3" width="0.8" height="0.8" fill="#5a60c8" opacity="0.85"/>
<rect x="125.2" y="472.7" width="0.8" height="0.8" fill="#7078d0" opacity="0.85"/>
<rect x="104.6" y="474.1" width="0.8" height="0.8" fill="#3050b8" opacity="0.85"/>
<rect x="117.5" y="467.9" width="0.8" height="0.8" fill="#5a60c8" opacity="0.85"/>
<rect x="108.6" y="478.2" width="0.8" height="0.8" fill="#8890d8" opacity="0.85"/>
<rect x="130.7" y="474.6" width="0.8" height="0.8" fill="#8890d8" opacity="0.85"/>
<rect x="131.5" y="474.7" width="0.8" height="0.8" fill="#5a60c8" opacity="0.85"/>
<rect x="124.7" y="473.6" width="0.8" height="0.8" fill="#5a60c8" opacity="0.85"/>
<rect x="103.1" y="474.7" width="0.8" height="0.8" fill="#5a60c8" opacity="0.85"/>
<rect x="115.3" y="480.2" width="0.8" height="0.8" fill="#8890d8" opacity="0.85"/>
<rect x="123.3" y="472.8" width="0.8" height="0.8" fill="#5a60c8" opacity="0.85"/>
<rect x="117.2" y="479.3" width="0.8" height="0.8" fill="#7078d0" opacity="0.85"/>
<rect x="115.9" y="470.1" width="0.8" height="0.8" fill="#3050b8" opacity="0.85"/>
<rect x="102.2" y="475.4" width="0.8" height="0.8" fill="#5a60c8" opacity="0.85"/>
<rect x="124.7" y="473.3" width="0.8" height="0.8" fill="#3050b8" opacity="0.85"/>
<rect x="117.7" y="480.6" width="0.8" height="0.8" fill="#5a60c8" opacity="0.85"/>
<rect x="104.8" y="474.8" width="0.8" height="0.8" fill="#4050c0" opacity="0.85"/>
<rect x="108.6" y="470.9" width="0.8" height="0.8" fill="#4050c0" opacity="0.85"/>
<rect x="124.2" y="474.2" width="0.8" height="0.8" fill="#8890d8" opacity="0.85"/>
<rect x="124.2" y="480.4" width="0.8" height="0.8" fill="#7078d0" opacity="0.85"/>
<rect x="112.6" y="471.5" width="0.8" height="0.8" fill="#7078d0" opacity="0.85"/>
<rect x="106.7" y="478.5" width="0.8" height="0.8" fill="#3050b8" opacity="0.85"/>
<rect x="101.8" y="476.6" width="0.8" height="0.8" fill="#8890d8" opacity="0.85"/>
<rect x="131.3" y="475.5" width="0.8" height="0.8" fill="#3050b8" opacity="0.85"/>
<rect x="101.6" y="485.4" width="0.8" height="0.8" fill="#8890d8" opacity="0.85"/>
<rect x="111.6" y="482.8" width="0.8" height="0.8" fill="#7078d0" opacity="0.85"/>
<rect x="124.2" y="478.6" width="0.8" height="0.8" fill="#8890d8" opacity="0.85"/>
<rect x="118.4" y="484.1" width="0.8" height="0.8" fill="#7078d0" opacity="0.85"/>
<rect x="109.5" y="471.0" width="0.8" height="0.8" fill="#4050c0" opacity="0.85"/>
<rect x="104.4" y="470.9" width="0.8" height="0.8" fill="#4050c0" opacity="0.85"/>
<rect x="114.4" y="473.4" width="0.8" height="0.8" fill="#8890d8" opacity="0.85"/>
<rect x="132.0" y="473.2" width="0.8" height="0.8" fill="#5a60c8" opacity="0.85"/>
<rect x="129.0" y="474.6" width="0.8" height="0.8" fill="#4050c0" opacity="0.85"/>
<rect x="127.6" y="480.5" width="0.8" height="0.8" fill="#8890d8" opacity="0.85"/>
<rect x="116.3" y="468.1" width="0.8" height="0.8" fill="#4050c0" opacity="0.85"/>
<rect x="134.0" y="472.2" width="0.8" height="0.8" fill="#5a60c8" opacity="0.85"/>
<rect x="111.9" y="477.2" width="0.8" height="0.8" fill="#7078d0" opacity="0.85"/>
<rect x="122.6" y="472.3" width="0.8" height="0.8" fill="#7078d0" opacity="0.85"/>
<rect x="104.5" y="474.0" width="0.8" height="0.8" fill="#5a60c8" opacity="0.85"/>
<rect x="119.7" y="483.6" width="0.8" height="0.8" fill="#3050b8" opacity="0.85"/>
<rect x="107.0" y="473.9" width="0.8" height="0.8" fill="#7078d0" opacity="0.85"/>
<rect x="110.7" y="482.4" width="0.8" height="0.8" fill="#3050b8" opacity="0.85"/>
<rect x="107.1" y="475.9" width="0.8" height="0.8" fill="#3050b8" opacity="0.85"/>
<rect x="126.2" y="478.7" width="0.8" height="0.8" fill="#4050c0" opacity="0.85"/>
<rect x="123.7" y="472.0" width="0.8" height="0.8" fill="#8890d8" opacity="0.85"/>
<rect x="121.4" y="472.0" width="0.8" height="0.8" fill="#8890d8" opacity="0.85"/>
<rect x="109.8" y="478.5" width="0.8" height="0.8" fill="#7078d0" opacity="0.85"/>
<rect x="120.8" y="471.8" width="0.8" height="0.8" fill="#8890d8" opacity="0.85"/>
<rect x="108.4" y="470.7" width="0.8" height="0.8" fill="#3050b8" opacity="0.85"/>
<rect x="124.4" y="469.9" width="0.8" height="0.8" fill="#4050c0" opacity="0.85"/>
<rect x="107.9" y="475.3" width="0.8" height="0.8" fill="#3050b8" opacity="0.85"/>
<rect x="106.1" y="472.0" width="0.8" height="0.8" fill="#8890d8" opacity="0.85"/>
<rect x="131.8" y="474.7" width="0.8" height="0.8" fill="#4050c0" opacity="0.85"/>
<rect x="104.0" y="476.5" width="0.8" height="0.8" fill="#4050c0" opacity="0.85"/>
<rect x="105.0" y="475.8" width="0.8" height="0.8" fill="#4050c0" opacity="0.85"/>
<rect x="107.4" y="478.5" width="0.8" height="0.8" fill="#8890d8" opacity="0.85"/>
<rect x="114.7" y="482.3" width="0.8" height="0.8" fill="#5a60c8" opacity="0.85"/>
<rect x="124.9" y="472.8" width="0.8" height="0.8" fill="#4050c0" opacity="0.85"/>
<rect x="121.3" y="480.7" width="0.8" height="0.8" fill="#3050b8" opacity="0.85"/>
<rect x="107.7" y="465.4" width="0.8" height="0.8" fill="#3050b8" opacity="0.85"/>
<rect x="122.7" y="471.1" width="0.8" height="0.8" fill="#8890d8" opacity="0.85"/>
<rect x="120.1" y="471.8" width="0.8" height="0.8" fill="#4050c0" opacity="0.85"/>
<rect x="123.7" y="472.2" width="0.8" height="0.8" fill="#8890d8" opacity="0.85"/>
<rect x="126.6" y="478.2" width="0.8" height="0.8" fill="#5a60c8" opacity="0.85"/>
<rect x="118.9" y="481.5" width="0.8" height="0.8" fill="#4050c0" opacity="0.85"/>
<rect x="108.7" y="470.8" width="0.8" height="0.8" fill="#3050b8" opacity="0.85"/>
<rect x="110.1" y="479.3" width="0.8" height="0.8" fill="#5a60c8" opacity="0.85"/>
<rect x="119.6" y="481.8" width="0.8" height="0.8" fill="#8890d8" opacity="0.85"/>
<rect x="103.0" y="473.3" width="0.8" height="0.8" fill="#8890d8" opacity="0.85"/>
<rect x="125.7" y="473.0" width="0.8" height="0.8" fill="#5a60c8" opacity="0.85"/>
<rect x="114.7" y="469.9" width="0.8" height="0.8" fill="#7078d0" opacity="0.85"/>
<rect x="129.2" y="470.8" width="0.8" height="0.8" fill="#5a60c8" opacity="0.85"/>
<rect x="126.1" y="481.5" width="0.8" height="0.8" fill="#8890d8" opacity="0.85"/>
<rect x="111.8" y="479.7" width="0.8" height="0.8" fill="#8890d8" opacity="0.85"/>
<rect x="111.5" y="479.8" width="0.8" height="0.8" fill="#3050b8" opacity="0.85"/>
<rect x="114.5" y="471.3" width="0.8" height="0.8" fill="#5a60c8" opacity="0.85"/>
<rect x="118.0" y="485.6" width="0.8" height="0.8" fill="#4050c0" opacity="0.85"/>
<rect x="126.2" y="479.1" width="0.8" height="0.8" fill="#8890d8" opacity="0.85"/>
<rect x="127.0" y="478.3" width="0.8" height="0.8" fill="#5a60c8" opacity="0.85"/>
<rect x="120.0" y="479.9" width="0.8" height="0.8" fill="#4050c0" opacity="0.85"/>
<rect x="107.1" y="473.0" width="0.8" height="0.8" fill="#8890d8" opacity="0.85"/>
<rect x="108.4" y="471.9" width="0.8" height="0.8" fill="#4050c0" opacity="0.85"/>
<rect x="108.0" y="472.7" width="0.8" height="0.8" fill="#4050c0" opacity="0.85"/>
<rect x="108.5" y="479.6" width="0.8" height="0.8" fill="#7078d0" opacity="0.85"/>
<rect x="124.2" y="478.2" width="0.8" height="0.8" fill="#4050c0" opacity="0.85"/>
<rect x="106.7" y="475.7" width="0.8" height="0.8" fill="#3050b8" opacity="0.85"/>
<rect x="112.3" y="480.3" width="0.8" height="0.8" fill="#5a60c8" opacity="0.85"/>
<rect x="122.8" y="480.3" width="0.8" height="0.8" fill="#4050c0" opacity="0.85"/>
<rect x="121.1" y="481.8" width="0.8" height="0.8" fill="#3050b8" opacity="0.85"/>
<rect x="105.2" y="477.2" width="0.8" height="0.8" fill="#4050c0" opacity="0.85"/>
<rect x="125.9" y="475.0" width="0.8" height="0.8" fill="#5a60c8" opacity="0.85"/>
<rect x="105.6" y="470.6" width="0.8" height="0.8" fill="#7078d0" opacity="0.85"/>
<rect x="121.3" y="479.8" width="0.8" height="0.8" fill="#5a60c8" opacity="0.85"/>
<rect x="128.4" y="474.3" width="0.8" height="0.8" fill="#7078d0" opacity="0.85"/>
<rect x="114.6" y="481.3" width="0.8" height="0.8" fill="#7078d0" opacity="0.85"/>
<rect x="109.4" y="469.3" width="0.8" height="0.8" fill="#3050b8" opacity="0.85"/>
<rect x="108.0" y="478.7" width="0.8" height="0.8" fill="#3050b8" opacity="0.85"/>
<rect x="113.6" y="480.6" width="0.8" height="0.8" fill="#8890d8" opacity="0.85"/>
<rect x="114.9" y="483.3" width="0.8" height="0.8" fill="#3050b8" opacity="0.85"/>
<rect x="103.8" y="478.8" width="0.8" height="0.8" fill="#3050b8" opacity="0.85"/>
<rect x="126.5" y="479.1" width="0.8" height="0.8" fill="#3050b8" opacity="0.85"/>
<rect x="120.9" y="481.6" width="0.8" height="0.8" fill="#4050c0" opacity="0.85"/>
<rect x="124.7" y="471.4" width="0.8" height="0.8" fill="#3050b8" opacity="0.85"/>
<rect x="124.5" y="469.9" width="0.8" height="0.8" fill="#8890d8" opacity="0.85"/>
<rect x="106.3" y="473.0" width="0.8" height="0.8" fill="#4050c0" opacity="0.85"/>
<rect x="120.8" y="471.2" width="0.8" height="0.8" fill="#3050b8" opacity="0.85"/>
<rect x="121.6" y="481.0" width="0.8" height="0.8" fill="#5a60c8" opacity="0.85"/>
<rect x="125.8" y="475.6" width="0.8" height="0.8" fill="#5a60c8" opacity="0.85"/>
<rect x="128.1" y="472.9" width="0.8" height="0.8" fill="#4050c0" opacity="0.85"/>
<rect x="104.6" y="475.0" width="0.8" height="0.8" fill="#7078d0" opacity="0.85"/>
<rect x="103.3" y="475.1" width="0.8" height="0.8" fill="#3050b8" opacity="0.85"/>
<rect x="125.4" y="479.8" width="0.8" height="0.8" fill="#5a60c8" opacity="0.85"/>
<rect x="115.4" y="483.2" width="0.8" height="0.8" fill="#7078d0" opacity="0.85"/>
<rect x="103.6" y="474.6" width="0.8" height="0.8" fill="#3050b8" opacity="0.85"/>
<rect x="105.8" y="473.0" width="0.8" height="0.8" fill="#8890d8" opacity="0.85"/>
<rect x="109.8" y="479.7" width="0.8" height="0.8" fill="#a0a8e0" opacity="0.7"/>
<rect x="116.9" y="480.2" width="0.8" height="0.8" fill="#a0a8e0" opacity="0.7"/>
<rect x="117.6" y="484.4" width="0.8" height="0.8" fill="#a0a8e0" opacity="0.7"/>
<rect x="136.6" y="471.6" width="0.8" height="0.8" fill="#a0a8e0" opacity="0.7"/>
<rect x="120.7" y="475.6" width="0.8" height="0.8" fill="#a0a8e0" opacity="0.7"/>
<rect x="131.3" y="478.5" width="0.8" height="0.8" fill="#a0a8e0" opacity="0.7"/>
<rect x="120.0" y="466.7" width="0.8" height="0.8" fill="#a0a8e0" opacity="0.7"/>
<rect x="119.6" y="477.7" width="0.8" height="0.8" fill="#a0a8e0" opacity="0.7"/>
<rect x="120.8" y="470.3" width="0.8" height="0.8" fill="#a0a8e0" opacity="0.7"/>
<rect x="119.5" y="472.5" width="0.8" height="0.8" fill="#a0a8e0" opacity="0.7"/>
<rect x="117.4" y="476.9" width="0.8" height="0.8" fill="#a0a8e0" opacity="0.7"/>
<rect x="104.3" y="479.8" width="0.8" height="0.8" fill="#a0a8e0" opacity="0.7"/>
<rect x="144.4" y="473.0" width="0.8" height="0.8" fill="#a0a8e0" opacity="0.7"/>
<rect x="97.0" y="470.3" width="0.8" height="0.8" fill="#a0a8e0" opacity="0.7"/>
<rect x="105.4" y="472.4" width="0.8" height="0.8" fill="#a0a8e0" opacity="0.7"/>
<rect x="111.8" y="477.5" width="0.8" height="0.8" fill="#a0a8e0" opacity="0.7"/>
<rect x="120.8" y="480.0" width="0.8" height="0.8" fill="#a0a8e0" opacity="0.7"/>
<rect x="106.1" y="480.1" width="0.8" height="0.8" fill="#a0a8e0" opacity="0.7"/>
<rect x="118.4" y="476.6" width="0.8" height="0.8" fill="#a0a8e0" opacity="0.7"/>
<rect x="127.5" y="477.0" width="0.8" height="0.8" fill="#a0a8e0" opacity="0.7"/>
<rect x="113.5" y="476.5" width="0.8" height="0.8" fill="#a0a8e0" opacity="0.7"/>
<rect x="109.3" y="474.1" width="0.8" height="0.8" fill="#a0a8e0" opacity="0.7"/>
<rect x="123.0" y="475.4" width="0.8" height="0.8" fill="#a0a8e0" opacity="0.7"/>
<rect x="120.2" y="481.0" width="0.8" height="0.8" fill="#a0a8e0" opacity="0.7"/>
<rect x="120.7" y="473.8" width="0.8" height="0.8" fill="#a0a8e0" opacity="0.7"/>
<rect x="128.4" y="482.7" width="0.8" height="0.8" fill="#a0a8e0" opacity="0.7"/>
<rect x="130.7" y="482.6" width="0.8" height="0.8" fill="#a0a8e0" opacity="0.7"/>
<rect x="126.6" y="480.3" width="0.8" height="0.8" fill="#a0a8e0" opacity="0.7"/>
<rect x="111.0" y="466.1" width="0.8" height="0.8" fill="#a0a8e0" opacity="0.7"/>
<rect x="115.1" y="477.8" width="0.8" height="0.8" fill="#a0a8e0" opacity="0.7"/>
<rect x="118.7" y="473.9" width="0.8" height="0.8" fill="#a0a8e0" opacity="0.7"/>
<rect x="129.6" y="479.4" width="0.8" height="0.8" fill="#a0a8e0" opacity="0.7"/>
<rect x="125.2" y="470.1" width="0.8" height="0.8" fill="#a0a8e0" opacity="0.7"/>
<rect x="104.2" y="480.7" width="0.8" height="0.8" fill="#a0a8e0" opacity="0.7"/>
<rect x="109.1" y="479.2" width="0.8" height="0.8" fill="#a0a8e0" opacity="0.7"/>
<rect x="109.7" y="469.8" width="0.8" height="0.8" fill="#a0a8e0" opacity="0.7"/>
<rect x="108.9" y="473.8" width="0.8" height="0.8" fill="#a0a8e0" opacity="0.7"/>
<rect x="114.5" y="471.9" width="0.8" height="0.8" fill="#a0a8e0" opacity="0.7"/>
<rect x="110.6" y="473.9" width="0.8" height="0.8" fill="#a0a8e0" opacity="0.7"/>
<rect x="121.7" y="476.6" width="0.8" height="0.8" fill="#a0a8e0" opacity="0.7"/>
<rect x="106.6" y="477.3" width="0.8" height="0.8" fill="#a0a8e0" opacity="0.7"/>
<rect x="135.2" y="475.1" width="0.8" height="0.8" fill="#a0a8e0" opacity="0.7"/>
<rect x="115.3" y="473.6" width="0.8" height="0.8" fill="#a0a8e0" opacity="0.7"/>
<rect x="116.6" y="485.0" width="0.8" height="0.8" fill="#a0a8e0" opacity="0.7"/>
<rect x="121.2" y="478.2" width="0.8" height="0.8" fill="#a0a8e0" opacity="0.7"/>
<rect x="127.3" y="472.1" width="0.8" height="0.8" fill="#a0a8e0" opacity="0.7"/>
<rect x="120.9" y="468.8" width="0.8" height="0.8" fill="#a0a8e0" opacity="0.7"/>
<rect x="117.4" y="482.3" width="0.8" height="0.8" fill="#a0a8e0" opacity="0.7"/>
<rect x="125.2" y="476.1" width="0.8" height="0.8" fill="#a0a8e0" opacity="0.7"/>
<rect x="112.4" y="469.6" width="0.8" height="0.8" fill="#a0a8e0" opacity="0.7"/>
<rect x="127.0" y="476.0" width="0.8" height="0.8" fill="#a0a8e0" opacity="0.7"/>
<rect x="137.0" y="467.7" width="0.8" height="0.8" fill="#a0a8e0" opacity="0.7"/>
<rect x="131.2" y="478.6" width="0.8" height="0.8" fill="#a0a8e0" opacity="0.7"/>
<rect x="128.4" y="476.0" width="0.8" height="0.8" fill="#a0a8e0" opacity="0.7"/>
<rect x="124.4" y="476.3" width="0.8" height="0.8" fill="#a0a8e0" opacity="0.7"/>
<rect x="105.8" y="482.9" width="0.8" height="0.8" fill="#a0a8e0" opacity="0.7"/>
<rect x="134.6" y="468.7" width="0.8" height="0.8" fill="#a0a8e0" opacity="0.7"/>
<rect x="119.9" y="481.0" width="0.8" height="0.8" fill="#a0a8e0" opacity="0.7"/>
<rect x="117.5" y="483.3" width="0.8" height="0.8" fill="#a0a8e0" opacity="0.7"/>
<rect x="131.7" y="474.6" width="0.8" height="0.8" fill="#a0a8e0" opacity="0.7"/>
<rect x="103.4" y="481.9" width="0.8" height="0.8" fill="#a0a8e0" opacity="0.7"/>
<rect x="130.0" y="471.1" width="0.8" height="0.8" fill="#a0a8e0" opacity="0.7"/>
<rect x="115.5" y="478.6" width="0.8" height="0.8" fill="#a0a8e0" opacity="0.7"/>
<rect x="104.4" y="478.2" width="0.8" height="0.8" fill="#a0a8e0" opacity="0.7"/>
<rect x="102.8" y="476.7" width="0.8" height="0.8" fill="#a0a8e0" opacity="0.7"/>
<rect x="111.0" y="480.4" width="0.8" height="0.8" fill="#a0a8e0" opacity="0.7"/>
<rect x="106.4" y="475.0" width="0.8" height="0.8" fill="#a0a8e0" opacity="0.7"/>
<rect x="108.8" y="462.7" width="0.8" height="0.8" fill="#a0a8e0" opacity="0.7"/>
<rect x="105.8" y="480.7" width="0.8" height="0.8" fill="#a0a8e0" opacity="0.7"/>
<rect x="113.1" y="475.9" width="0.8" height="0.8" fill="#a0a8e0" opacity="0.7"/>
<text x="84.9" y="450.2" font-size="4.9" fill="#d63ab0">16.5</text>
<text x="143.3" y="450.2" font-size="4.9" text-anchor="end" fill="#d63ab0">54</text>
<text x="84.9" y="503.7" font-size="4.9" fill="#d63ab0">9.21</text>
<text x="143.3" y="503.7" font-size="4.9" text-anchor="end" fill="#d63ab0">20.3</text>
<text x="88.3" y="460.8" font-size="6.9" textLength="24.75" lengthAdjust="spacingAndGlyphs" fill="#222">16.1±3.3%</text>
<text x="113.4" y="439" font-size="7.8" text-anchor="middle" fill="#222">d2</text>
<line x1="146.5" y1="444.2" x2="199.2" y2="444.2" stroke="#555" stroke-width="0.9"/>
<line x1="146.5" y1="444.2" x2="146.5" y2="505.2" stroke="#555" stroke-width="0.9"/>
<line x1="208.2" y1="444.2" x2="208.2" y2="505.2" stroke="#555" stroke-width="0.9"/>
<line x1="146.5" y1="505.2" x2="208.2" y2="505.2" stroke="#555" stroke-width="0.9"/>
<line x1="146.5" y1="449.2" x2="147.5" y2="449.2" stroke="#777" stroke-width="0.5"/>
<line x1="151.5" y1="505.2" x2="151.5" y2="504.2" stroke="#777" stroke-width="0.5"/>
<line x1="146.5" y1="454.2" x2="147.5" y2="454.2" stroke="#777" stroke-width="0.5"/>
<line x1="156.5" y1="505.2" x2="156.5" y2="504.2" stroke="#777" stroke-width="0.5"/>
<line x1="146.5" y1="459.2" x2="147.5" y2="459.2" stroke="#777" stroke-width="0.5"/>
<line x1="161.5" y1="505.2" x2="161.5" y2="504.2" stroke="#777" stroke-width="0.5"/>
<line x1="146.5" y1="464.2" x2="147.5" y2="464.2" stroke="#777" stroke-width="0.5"/>
<line x1="166.5" y1="505.2" x2="166.5" y2="504.2" stroke="#777" stroke-width="0.5"/>
<line x1="146.5" y1="469.2" x2="147.5" y2="469.2" stroke="#777" stroke-width="0.5"/>
<line x1="171.5" y1="505.2" x2="171.5" y2="504.2" stroke="#777" stroke-width="0.5"/>
<line x1="146.5" y1="474.2" x2="147.5" y2="474.2" stroke="#777" stroke-width="0.5"/>
<line x1="176.5" y1="505.2" x2="176.5" y2="504.2" stroke="#777" stroke-width="0.5"/>
<line x1="146.5" y1="479.2" x2="147.5" y2="479.2" stroke="#777" stroke-width="0.5"/>
<line x1="181.5" y1="505.2" x2="181.5" y2="504.2" stroke="#777" stroke-width="0.5"/>
<line x1="146.5" y1="484.2" x2="147.5" y2="484.2" stroke="#777" stroke-width="0.5"/>
<line x1="186.5" y1="505.2" x2="186.5" y2="504.2" stroke="#777" stroke-width="0.5"/>
<line x1="146.5" y1="489.2" x2="147.5" y2="489.2" stroke="#777" stroke-width="0.5"/>
<line x1="191.5" y1="505.2" x2="191.5" y2="504.2" stroke="#777" stroke-width="0.5"/>
<line x1="146.5" y1="494.2" x2="147.5" y2="494.2" stroke="#777" stroke-width="0.5"/>
<line x1="196.5" y1="505.2" x2="196.5" y2="504.2" stroke="#777" stroke-width="0.5"/>
<line x1="146.5" y1="499.2" x2="147.5" y2="499.2" stroke="#777" stroke-width="0.5"/>
<line x1="201.5" y1="505.2" x2="201.5" y2="504.2" stroke="#777" stroke-width="0.5"/>
<line x1="178.4" y1="444.2" x2="178.4" y2="505.2" stroke="#c890d2" stroke-width="0.9"/>
<line x1="146.5" y1="478.7" x2="208.2" y2="478.7" stroke="#c890d2" stroke-width="0.9"/>
<g filter="url(#blur1)" transform="rotate(-9 182.6 475.7)">
<ellipse cx="182.6" cy="475.7" rx="11.2" ry="5.9" fill="#4a58c8" opacity="0.85"/>
<ellipse cx="182.9" cy="475.5" rx="8.6" ry="4.5" fill="#3b7fd0"/>
<ellipse cx="183.2" cy="475.4" rx="6.6" ry="3.5" fill="#38b0a0"/>
<ellipse cx="183.5" cy="475.3" rx="4.6" ry="2.5" fill="#90c848"/>
<ellipse cx="183.7" cy="475.2" rx="2.6" ry="1.5" fill="#d8c038"/>
<ellipse cx="183.79999999999998" cy="475.2" rx="1.2" ry="0.8" fill="#e05a2a"/>
</g>
<rect x="182.8" y="481.2" width="0.8" height="0.8" fill="#8890d8" opacity="0.85"/>
<rect x="172.4" y="477.7" width="0.8" height="0.8" fill="#5a60c8" opacity="0.85"/>
<rect x="187.5" y="469.7" width="0.8" height="0.8" fill="#8890d8" opacity="0.85"/>
<rect x="176.1" y="468.2" width="0.8" height="0.8" fill="#3050b8" opacity="0.85"/>
<rect x="175.6" y="472.9" width="0.8" height="0.8" fill="#5a60c8" opacity="0.85"/>
<rect x="188.2" y="476.3" width="0.8" height="0.8" fill="#5a60c8" opacity="0.85"/>
<rect x="193.1" y="480.2" width="0.8" height="0.8" fill="#8890d8" opacity="0.85"/>
<rect x="171.6" y="474.1" width="0.8" height="0.8" fill="#5a60c8" opacity="0.85"/>
<rect x="178.0" y="480.3" width="0.8" height="0.8" fill="#8890d8" opacity="0.85"/>
<rect x="189.8" y="471.4" width="0.8" height="0.8" fill="#5a60c8" opacity="0.85"/>
<rect x="173.8" y="478.5" width="0.8" height="0.8" fill="#3050b8" opacity="0.85"/>
<rect x="180.8" y="483.1" width="0.8" height="0.8" fill="#3050b8" opacity="0.85"/>
<rect x="193.8" y="477.8" width="0.8" height="0.8" fill="#8890d8" opacity="0.85"/>
<rect x="191.5" y="481.2" width="0.8" height="0.8" fill="#7078d0" opacity="0.85"/>
<rect x="192.7" y="474.3" width="0.8" height="0.8" fill="#8890d8" opacity="0.85"/>
<rect x="183.8" y="469.0" width="0.8" height="0.8" fill="#3050b8" opacity="0.85"/>
<rect x="189.5" y="471.1" width="0.8" height="0.8" fill="#4050c0" opacity="0.85"/>
<rect x="187.4" y="471.5" width="0.8" height="0.8" fill="#3050b8" opacity="0.85"/>
<rect x="173.7" y="474.4" width="0.8" height="0.8" fill="#4050c0" opacity="0.85"/>
<rect x="169.8" y="474.5" width="0.8" height="0.8" fill="#8890d8" opacity="0.85"/>
<rect x="193.2" y="481.5" width="0.8" height="0.8" fill="#3050b8" opacity="0.85"/>
<rect x="188.2" y="471.7" width="0.8" height="0.8" fill="#4050c0" opacity="0.85"/>
<rect x="184.2" y="482.5" width="0.8" height="0.8" fill="#3050b8" opacity="0.85"/>
<rect x="181.1" y="470.4" width="0.8" height="0.8" fill="#8890d8" opacity="0.85"/>
<rect x="179.2" y="481.6" width="0.8" height="0.8" fill="#4050c0" opacity="0.85"/>
<rect x="190.3" y="475.5" width="0.8" height="0.8" fill="#8890d8" opacity="0.85"/>
<rect x="174.2" y="481.8" width="0.8" height="0.8" fill="#4050c0" opacity="0.85"/>
<rect x="195.7" y="473.7" width="0.8" height="0.8" fill="#3050b8" opacity="0.85"/>
<rect x="176.2" y="471.8" width="0.8" height="0.8" fill="#3050b8" opacity="0.85"/>
<rect x="188.4" y="478.3" width="0.8" height="0.8" fill="#8890d8" opacity="0.85"/>
<rect x="191.0" y="470.4" width="0.8" height="0.8" fill="#3050b8" opacity="0.85"/>
<rect x="175.2" y="471.8" width="0.8" height="0.8" fill="#3050b8" opacity="0.85"/>
<rect x="193.4" y="472.5" width="0.8" height="0.8" fill="#4050c0" opacity="0.85"/>
<rect x="172.5" y="477.4" width="0.8" height="0.8" fill="#7078d0" opacity="0.85"/>
<rect x="175.0" y="481.8" width="0.8" height="0.8" fill="#5a60c8" opacity="0.85"/>
<rect x="169.5" y="473.4" width="0.8" height="0.8" fill="#7078d0" opacity="0.85"/>
<rect x="184.8" y="468.8" width="0.8" height="0.8" fill="#7078d0" opacity="0.85"/>
<rect x="174.1" y="473.9" width="0.8" height="0.8" fill="#7078d0" opacity="0.85"/>
<rect x="181.3" y="479.8" width="0.8" height="0.8" fill="#7078d0" opacity="0.85"/>
<rect x="170.9" y="476.0" width="0.8" height="0.8" fill="#8890d8" opacity="0.85"/>
<rect x="173.7" y="474.5" width="0.8" height="0.8" fill="#8890d8" opacity="0.85"/>
<rect x="189.7" y="476.8" width="0.8" height="0.8" fill="#3050b8" opacity="0.85"/>
<rect x="173.6" y="469.8" width="0.8" height="0.8" fill="#3050b8" opacity="0.85"/>
<rect x="177.5" y="471.4" width="0.8" height="0.8" fill="#5a60c8" opacity="0.85"/>
<rect x="170.4" y="471.6" width="0.8" height="0.8" fill="#7078d0" opacity="0.85"/>
<rect x="193.9" y="476.7" width="0.8" height="0.8" fill="#4050c0" opacity="0.85"/>
<rect x="182.4" y="481.9" width="0.8" height="0.8" fill="#8890d8" opacity="0.85"/>
<rect x="178.4" y="471.3" width="0.8" height="0.8" fill="#5a60c8" opacity="0.85"/>
<rect x="183.5" y="481.7" width="0.8" height="0.8" fill="#3050b8" opacity="0.85"/>
<rect x="181.3" y="480.0" width="0.8" height="0.8" fill="#5a60c8" opacity="0.85"/>
<rect x="172.9" y="478.0" width="0.8" height="0.8" fill="#7078d0" opacity="0.85"/>
<rect x="169.2" y="476.0" width="0.8" height="0.8" fill="#5a60c8" opacity="0.85"/>
<rect x="172.0" y="469.9" width="0.8" height="0.8" fill="#7078d0" opacity="0.85"/>
<rect x="195.4" y="476.0" width="0.8" height="0.8" fill="#7078d0" opacity="0.85"/>
<rect x="183.4" y="470.2" width="0.8" height="0.8" fill="#8890d8" opacity="0.85"/>
<rect x="190.4" y="472.9" width="0.8" height="0.8" fill="#5a60c8" opacity="0.85"/>
<rect x="184.3" y="470.5" width="0.8" height="0.8" fill="#7078d0" opacity="0.85"/>
<rect x="182.6" y="486.3" width="0.8" height="0.8" fill="#3050b8" opacity="0.85"/>
<rect x="175.3" y="477.5" width="0.8" height="0.8" fill="#3050b8" opacity="0.85"/>
<rect x="190.1" y="473.2" width="0.8" height="0.8" fill="#5a60c8" opacity="0.85"/>
<rect x="183.2" y="469.4" width="0.8" height="0.8" fill="#3050b8" opacity="0.85"/>
<rect x="174.2" y="470.6" width="0.8" height="0.8" fill="#7078d0" opacity="0.85"/>
<rect x="168.8" y="475.6" width="0.8" height="0.8" fill="#3050b8" opacity="0.85"/>
<rect x="179.4" y="468.9" width="0.8" height="0.8" fill="#3050b8" opacity="0.85"/>
<rect x="170.3" y="472.0" width="0.8" height="0.8" fill="#7078d0" opacity="0.85"/>
<rect x="190.6" y="477.5" width="0.8" height="0.8" fill="#4050c0" opacity="0.85"/>
<rect x="195.8" y="473.7" width="0.8" height="0.8" fill="#5a60c8" opacity="0.85"/>
<rect x="176.1" y="480.1" width="0.8" height="0.8" fill="#7078d0" opacity="0.85"/>
<rect x="184.8" y="469.0" width="0.8" height="0.8" fill="#3050b8" opacity="0.85"/>
<rect x="172.2" y="472.7" width="0.8" height="0.8" fill="#4050c0" opacity="0.85"/>
<rect x="191.0" y="478.2" width="0.8" height="0.8" fill="#5a60c8" opacity="0.85"/>
<rect x="193.3" y="478.2" width="0.8" height="0.8" fill="#7078d0" opacity="0.85"/>
<rect x="176.5" y="478.6" width="0.8" height="0.8" fill="#7078d0" opacity="0.85"/>
<rect x="177.4" y="482.3" width="0.8" height="0.8" fill="#5a60c8" opacity="0.85"/>
<rect x="173.4" y="476.9" width="0.8" height="0.8" fill="#7078d0" opacity="0.85"/>
<rect x="190.0" y="471.9" width="0.8" height="0.8" fill="#8890d8" opacity="0.85"/>
<rect x="174.6" y="472.8" width="0.8" height="0.8" fill="#7078d0" opacity="0.85"/>
<rect x="182.7" y="474.2" width="0.8" height="0.8" fill="#4050c0" opacity="0.85"/>
<rect x="178.3" y="476.1" width="0.8" height="0.8" fill="#3050b8" opacity="0.85"/>
<rect x="173.6" y="476.0" width="0.8" height="0.8" fill="#8890d8" opacity="0.85"/>
<rect x="192.8" y="476.1" width="0.8" height="0.8" fill="#7078d0" opacity="0.85"/>
<rect x="190.5" y="472.5" width="0.8" height="0.8" fill="#3050b8" opacity="0.85"/>
<rect x="185.0" y="480.2" width="0.8" height="0.8" fill="#5a60c8" opacity="0.85"/>
<rect x="189.5" y="477.3" width="0.8" height="0.8" fill="#4050c0" opacity="0.85"/>
<rect x="186.5" y="479.3" width="0.8" height="0.8" fill="#4050c0" opacity="0.85"/>
<rect x="188.6" y="471.1" width="0.8" height="0.8" fill="#5a60c8" opacity="0.85"/>
<rect x="173.5" y="477.4" width="0.8" height="0.8" fill="#8890d8" opacity="0.85"/>
<rect x="185.6" y="470.3" width="0.8" height="0.8" fill="#8890d8" opacity="0.85"/>
<rect x="176.0" y="478.5" width="0.8" height="0.8" fill="#5a60c8" opacity="0.85"/>
<rect x="172.6" y="474.6" width="0.8" height="0.8" fill="#8890d8" opacity="0.85"/>
<rect x="182.7" y="485.4" width="0.8" height="0.8" fill="#3050b8" opacity="0.85"/>
<rect x="173.6" y="470.9" width="0.8" height="0.8" fill="#3050b8" opacity="0.85"/>
<rect x="172.3" y="469.9" width="0.8" height="0.8" fill="#8890d8" opacity="0.85"/>
<rect x="177.3" y="471.1" width="0.8" height="0.8" fill="#4050c0" opacity="0.85"/>
<rect x="174.4" y="482.4" width="0.8" height="0.8" fill="#8890d8" opacity="0.85"/>
<rect x="192.5" y="477.1" width="0.8" height="0.8" fill="#7078d0" opacity="0.85"/>
<rect x="177.2" y="478.4" width="0.8" height="0.8" fill="#7078d0" opacity="0.85"/>
<rect x="174.8" y="481.7" width="0.8" height="0.8" fill="#7078d0" opacity="0.85"/>
<rect x="178.4" y="469.9" width="0.8" height="0.8" fill="#8890d8" opacity="0.85"/>
<rect x="193.6" y="478.9" width="0.8" height="0.8" fill="#4050c0" opacity="0.85"/>
<rect x="173.4" y="474.5" width="0.8" height="0.8" fill="#8890d8" opacity="0.85"/>
<rect x="177.8" y="481.5" width="0.8" height="0.8" fill="#8890d8" opacity="0.85"/>
<rect x="173.9" y="479.0" width="0.8" height="0.8" fill="#8890d8" opacity="0.85"/>
<rect x="190.3" y="472.8" width="0.8" height="0.8" fill="#8890d8" opacity="0.85"/>
<rect x="176.7" y="469.1" width="0.8" height="0.8" fill="#5a60c8" opacity="0.85"/>
<rect x="189.4" y="481.7" width="0.8" height="0.8" fill="#7078d0" opacity="0.85"/>
<rect x="192.2" y="474.2" width="0.8" height="0.8" fill="#4050c0" opacity="0.85"/>
<rect x="191.3" y="473.3" width="0.8" height="0.8" fill="#3050b8" opacity="0.85"/>
<rect x="175.7" y="485.1" width="0.8" height="0.8" fill="#7078d0" opacity="0.85"/>
<rect x="183.8" y="479.6" width="0.8" height="0.8" fill="#3050b8" opacity="0.85"/>
<rect x="185.8" y="480.3" width="0.8" height="0.8" fill="#3050b8" opacity="0.85"/>
<rect x="190.8" y="479.1" width="0.8" height="0.8" fill="#3050b8" opacity="0.85"/>
<rect x="176.1" y="479.7" width="0.8" height="0.8" fill="#8890d8" opacity="0.85"/>
<rect x="183.7" y="471.0" width="0.8" height="0.8" fill="#8890d8" opacity="0.85"/>
<rect x="174.1" y="485.7" width="0.8" height="0.8" fill="#4050c0" opacity="0.85"/>
<rect x="186.4" y="469.1" width="0.8" height="0.8" fill="#7078d0" opacity="0.85"/>
<rect x="186.8" y="473.6" width="0.8" height="0.8" fill="#8890d8" opacity="0.85"/>
<rect x="192.2" y="479.1" width="0.8" height="0.8" fill="#8890d8" opacity="0.85"/>
<rect x="183.0" y="467.8" width="0.8" height="0.8" fill="#4050c0" opacity="0.85"/>
<rect x="174.1" y="468.0" width="0.8" height="0.8" fill="#4050c0" opacity="0.85"/>
<rect x="184.2" y="470.6" width="0.8" height="0.8" fill="#3050b8" opacity="0.85"/>
<rect x="183.2" y="471.0" width="0.8" height="0.8" fill="#5a60c8" opacity="0.85"/>
<rect x="178.5" y="470.6" width="0.8" height="0.8" fill="#3050b8" opacity="0.85"/>
<rect x="176.2" y="471.5" width="0.8" height="0.8" fill="#5a60c8" opacity="0.85"/>
<rect x="183.7" y="479.9" width="0.8" height="0.8" fill="#5a60c8" opacity="0.85"/>
<rect x="180.4" y="479.6" width="0.8" height="0.8" fill="#8890d8" opacity="0.85"/>
<rect x="191.9" y="472.7" width="0.8" height="0.8" fill="#7078d0" opacity="0.85"/>
<rect x="190.6" y="478.9" width="0.8" height="0.8" fill="#5a60c8" opacity="0.85"/>
<rect x="185.4" y="479.5" width="0.8" height="0.8" fill="#8890d8" opacity="0.85"/>
<rect x="194.5" y="478.1" width="0.8" height="0.8" fill="#3050b8" opacity="0.85"/>
<rect x="193.4" y="479.0" width="0.8" height="0.8" fill="#5a60c8" opacity="0.85"/>
<rect x="190.9" y="482.1" width="0.8" height="0.8" fill="#3050b8" opacity="0.85"/>
<rect x="169.2" y="473.4" width="0.8" height="0.8" fill="#5a60c8" opacity="0.85"/>
<rect x="172.4" y="473.7" width="0.8" height="0.8" fill="#5a60c8" opacity="0.85"/>
<rect x="191.6" y="479.6" width="0.8" height="0.8" fill="#3050b8" opacity="0.85"/>
<rect x="175.1" y="471.2" width="0.8" height="0.8" fill="#3050b8" opacity="0.85"/>
<rect x="186.5" y="471.4" width="0.8" height="0.8" fill="#8890d8" opacity="0.85"/>
<rect x="190.4" y="475.5" width="0.8" height="0.8" fill="#7078d0" opacity="0.85"/>
<rect x="191.5" y="478.0" width="0.8" height="0.8" fill="#4050c0" opacity="0.85"/>
<rect x="192.4" y="478.0" width="0.8" height="0.8" fill="#8890d8" opacity="0.85"/>
<rect x="174.2" y="480.4" width="0.8" height="0.8" fill="#5a60c8" opacity="0.85"/>
<rect x="185.2" y="480.4" width="0.8" height="0.8" fill="#8890d8" opacity="0.85"/>
<rect x="165.7" y="473.8" width="0.8" height="0.8" fill="#3050b8" opacity="0.85"/>
<rect x="188.8" y="478.8" width="0.8" height="0.8" fill="#7078d0" opacity="0.85"/>
<rect x="176.6" y="468.2" width="0.8" height="0.8" fill="#8890d8" opacity="0.85"/>
<rect x="190.9" y="476.7" width="0.8" height="0.8" fill="#8890d8" opacity="0.85"/>
<rect x="173.9" y="472.3" width="0.8" height="0.8" fill="#8890d8" opacity="0.85"/>
<rect x="193.7" y="475.1" width="0.8" height="0.8" fill="#4050c0" opacity="0.85"/>
<rect x="193.4" y="476.1" width="0.8" height="0.8" fill="#8890d8" opacity="0.85"/>
<rect x="191.1" y="478.8" width="0.8" height="0.8" fill="#8890d8" opacity="0.85"/>
<rect x="191.2" y="475.9" width="0.8" height="0.8" fill="#3050b8" opacity="0.85"/>
<rect x="192.7" y="471.9" width="0.8" height="0.8" fill="#4050c0" opacity="0.85"/>
<rect x="179.9" y="483.0" width="0.8" height="0.8" fill="#5a60c8" opacity="0.85"/>
<rect x="182.9" y="471.0" width="0.8" height="0.8" fill="#4050c0" opacity="0.85"/>
<rect x="183.5" y="469.4" width="0.8" height="0.8" fill="#8890d8" opacity="0.85"/>
<rect x="168.2" y="474.0" width="0.8" height="0.8" fill="#3050b8" opacity="0.85"/>
<rect x="193.9" y="475.9" width="0.8" height="0.8" fill="#7078d0" opacity="0.85"/>
<rect x="182.9" y="470.9" width="0.8" height="0.8" fill="#7078d0" opacity="0.85"/>
<rect x="182.1" y="480.4" width="0.8" height="0.8" fill="#8890d8" opacity="0.85"/>
<rect x="172.3" y="477.7" width="0.8" height="0.8" fill="#7078d0" opacity="0.85"/>
<rect x="194.7" y="474.6" width="0.8" height="0.8" fill="#8890d8" opacity="0.85"/>
<rect x="193.2" y="471.9" width="0.8" height="0.8" fill="#5a60c8" opacity="0.85"/>
<rect x="178.1" y="487.8" width="0.8" height="0.8" fill="#7078d0" opacity="0.85"/>
<rect x="187.9" y="468.9" width="0.8" height="0.8" fill="#3050b8" opacity="0.85"/>
<rect x="182.8" y="469.4" width="0.8" height="0.8" fill="#7078d0" opacity="0.85"/>
<rect x="168.4" y="475.2" width="0.8" height="0.8" fill="#8890d8" opacity="0.85"/>
<rect x="195.9" y="475.5" width="0.8" height="0.8" fill="#8890d8" opacity="0.85"/>
<rect x="170.4" y="472.1" width="0.8" height="0.8" fill="#7078d0" opacity="0.85"/>
<rect x="167.3" y="479.6" width="0.8" height="0.8" fill="#3050b8" opacity="0.85"/>
<rect x="178.7" y="473.7" width="0.8" height="0.8" fill="#5a60c8" opacity="0.85"/>
<rect x="195.1" y="474.8" width="0.8" height="0.8" fill="#7078d0" opacity="0.85"/>
<rect x="183.3" y="484.2" width="0.8" height="0.8" fill="#7078d0" opacity="0.85"/>
<rect x="191.6" y="476.2" width="0.8" height="0.8" fill="#4050c0" opacity="0.85"/>
<rect x="190.8" y="469.4" width="0.8" height="0.8" fill="#4050c0" opacity="0.85"/>
<rect x="179.4" y="470.0" width="0.8" height="0.8" fill="#5a60c8" opacity="0.85"/>
<rect x="178.6" y="470.4" width="0.8" height="0.8" fill="#7078d0" opacity="0.85"/>
<rect x="174.6" y="476.7" width="0.8" height="0.8" fill="#7078d0" opacity="0.85"/>
<rect x="181.6" y="478.5" width="0.8" height="0.8" fill="#3050b8" opacity="0.85"/>
<rect x="177.3" y="478.7" width="0.8" height="0.8" fill="#8890d8" opacity="0.85"/>
<rect x="191.7" y="478.7" width="0.8" height="0.8" fill="#8890d8" opacity="0.85"/>
<rect x="178.1" y="471.4" width="0.8" height="0.8" fill="#4050c0" opacity="0.85"/>
<rect x="192.4" y="473.0" width="0.8" height="0.8" fill="#5a60c8" opacity="0.85"/>
<rect x="191.2" y="478.2" width="0.8" height="0.8" fill="#4050c0" opacity="0.85"/>
<rect x="174.0" y="474.8" width="0.8" height="0.8" fill="#7078d0" opacity="0.85"/>
<rect x="174.6" y="478.9" width="0.8" height="0.8" fill="#7078d0" opacity="0.85"/>
<rect x="172.7" y="486.7" width="0.8" height="0.8" fill="#8890d8" opacity="0.85"/>
<rect x="191.0" y="478.3" width="0.8" height="0.8" fill="#5a60c8" opacity="0.85"/>
<rect x="187.1" y="478.7" width="0.8" height="0.8" fill="#4050c0" opacity="0.85"/>
<rect x="180.4" y="475.7" width="0.8" height="0.8" fill="#3050b8" opacity="0.85"/>
<rect x="181.5" y="468.9" width="0.8" height="0.8" fill="#5a60c8" opacity="0.85"/>
<rect x="173.6" y="479.1" width="0.8" height="0.8" fill="#5a60c8" opacity="0.85"/>
<rect x="174.8" y="471.0" width="0.8" height="0.8" fill="#5a60c8" opacity="0.85"/>
<rect x="189.8" y="472.5" width="0.8" height="0.8" fill="#3050b8" opacity="0.85"/>
<rect x="182.0" y="479.7" width="0.8" height="0.8" fill="#5a60c8" opacity="0.85"/>
<rect x="195.7" y="477.6" width="0.8" height="0.8" fill="#8890d8" opacity="0.85"/>
<rect x="171.2" y="480.6" width="0.8" height="0.8" fill="#4050c0" opacity="0.85"/>
<rect x="173.0" y="472.5" width="0.8" height="0.8" fill="#7078d0" opacity="0.85"/>
<rect x="168.5" y="475.7" width="0.8" height="0.8" fill="#8890d8" opacity="0.85"/>
<rect x="173.8" y="480.1" width="0.8" height="0.8" fill="#8890d8" opacity="0.85"/>
<rect x="178.8" y="468.4" width="0.8" height="0.8" fill="#5a60c8" opacity="0.85"/>
<rect x="185.0" y="473.5" width="0.8" height="0.8" fill="#a0a8e0" opacity="0.7"/>
<rect x="188.3" y="472.1" width="0.8" height="0.8" fill="#a0a8e0" opacity="0.7"/>
<rect x="160.5" y="464.9" width="0.8" height="0.8" fill="#a0a8e0" opacity="0.7"/>
<rect x="180.2" y="473.4" width="0.8" height="0.8" fill="#a0a8e0" opacity="0.7"/>
<rect x="182.7" y="473.4" width="0.8" height="0.8" fill="#a0a8e0" opacity="0.7"/>
<rect x="175.6" y="476.4" width="0.8" height="0.8" fill="#a0a8e0" opacity="0.7"/>
<rect x="175.4" y="475.0" width="0.8" height="0.8" fill="#a0a8e0" opacity="0.7"/>
<rect x="195.6" y="474.9" width="0.8" height="0.8" fill="#a0a8e0" opacity="0.7"/>
<rect x="182.6" y="475.4" width="0.8" height="0.8" fill="#a0a8e0" opacity="0.7"/>
<rect x="188.0" y="475.1" width="0.8" height="0.8" fill="#a0a8e0" opacity="0.7"/>
<rect x="181.5" y="476.7" width="0.8" height="0.8" fill="#a0a8e0" opacity="0.7"/>
<rect x="180.1" y="471.8" width="0.8" height="0.8" fill="#a0a8e0" opacity="0.7"/>
<rect x="193.8" y="480.1" width="0.8" height="0.8" fill="#a0a8e0" opacity="0.7"/>
<rect x="176.7" y="479.4" width="0.8" height="0.8" fill="#a0a8e0" opacity="0.7"/>
<rect x="183.6" y="480.0" width="0.8" height="0.8" fill="#a0a8e0" opacity="0.7"/>
<rect x="173.0" y="468.1" width="0.8" height="0.8" fill="#a0a8e0" opacity="0.7"/>
<rect x="173.5" y="471.8" width="0.8" height="0.8" fill="#a0a8e0" opacity="0.7"/>
<rect x="177.0" y="466.9" width="0.8" height="0.8" fill="#a0a8e0" opacity="0.7"/>
<rect x="178.5" y="473.8" width="0.8" height="0.8" fill="#a0a8e0" opacity="0.7"/>
<rect x="181.9" y="484.9" width="0.8" height="0.8" fill="#a0a8e0" opacity="0.7"/>
<rect x="193.4" y="479.3" width="0.8" height="0.8" fill="#a0a8e0" opacity="0.7"/>
<rect x="185.5" y="475.1" width="0.8" height="0.8" fill="#a0a8e0" opacity="0.7"/>
<rect x="188.3" y="474.2" width="0.8" height="0.8" fill="#a0a8e0" opacity="0.7"/>
<rect x="181.0" y="477.3" width="0.8" height="0.8" fill="#a0a8e0" opacity="0.7"/>
<rect x="182.1" y="480.0" width="0.8" height="0.8" fill="#a0a8e0" opacity="0.7"/>
<rect x="186.0" y="466.7" width="0.8" height="0.8" fill="#a0a8e0" opacity="0.7"/>
<rect x="185.5" y="481.7" width="0.8" height="0.8" fill="#a0a8e0" opacity="0.7"/>
<rect x="189.7" y="473.7" width="0.8" height="0.8" fill="#a0a8e0" opacity="0.7"/>
<rect x="197.0" y="479.5" width="0.8" height="0.8" fill="#a0a8e0" opacity="0.7"/>
<rect x="176.9" y="473.2" width="0.8" height="0.8" fill="#a0a8e0" opacity="0.7"/>
<rect x="179.8" y="469.5" width="0.8" height="0.8" fill="#a0a8e0" opacity="0.7"/>
<rect x="168.2" y="476.2" width="0.8" height="0.8" fill="#a0a8e0" opacity="0.7"/>
<rect x="168.3" y="481.7" width="0.8" height="0.8" fill="#a0a8e0" opacity="0.7"/>
<rect x="176.7" y="472.1" width="0.8" height="0.8" fill="#a0a8e0" opacity="0.7"/>
<rect x="192.1" y="479.3" width="0.8" height="0.8" fill="#a0a8e0" opacity="0.7"/>
<rect x="169.9" y="478.7" width="0.8" height="0.8" fill="#a0a8e0" opacity="0.7"/>
<rect x="178.8" y="490.5" width="0.8" height="0.8" fill="#a0a8e0" opacity="0.7"/>
<rect x="178.4" y="478.3" width="0.8" height="0.8" fill="#a0a8e0" opacity="0.7"/>
<rect x="189.6" y="479.4" width="0.8" height="0.8" fill="#a0a8e0" opacity="0.7"/>
<rect x="181.1" y="480.4" width="0.8" height="0.8" fill="#a0a8e0" opacity="0.7"/>
<rect x="163.5" y="471.9" width="0.8" height="0.8" fill="#a0a8e0" opacity="0.7"/>
<rect x="169.0" y="483.6" width="0.8" height="0.8" fill="#a0a8e0" opacity="0.7"/>
<rect x="181.3" y="472.9" width="0.8" height="0.8" fill="#a0a8e0" opacity="0.7"/>
<rect x="184.3" y="474.3" width="0.8" height="0.8" fill="#a0a8e0" opacity="0.7"/>
<rect x="181.7" y="471.6" width="0.8" height="0.8" fill="#a0a8e0" opacity="0.7"/>
<rect x="185.7" y="477.0" width="0.8" height="0.8" fill="#a0a8e0" opacity="0.7"/>
<rect x="173.7" y="471.4" width="0.8" height="0.8" fill="#a0a8e0" opacity="0.7"/>
<rect x="187.3" y="483.1" width="0.8" height="0.8" fill="#a0a8e0" opacity="0.7"/>
<rect x="174.5" y="476.5" width="0.8" height="0.8" fill="#a0a8e0" opacity="0.7"/>
<rect x="169.3" y="476.8" width="0.8" height="0.8" fill="#a0a8e0" opacity="0.7"/>
<rect x="171.1" y="468.5" width="0.8" height="0.8" fill="#a0a8e0" opacity="0.7"/>
<rect x="183.7" y="474.2" width="0.8" height="0.8" fill="#a0a8e0" opacity="0.7"/>
<rect x="179.7" y="476.0" width="0.8" height="0.8" fill="#a0a8e0" opacity="0.7"/>
<rect x="173.9" y="477.6" width="0.8" height="0.8" fill="#a0a8e0" opacity="0.7"/>
<rect x="187.6" y="469.9" width="0.8" height="0.8" fill="#a0a8e0" opacity="0.7"/>
<rect x="172.7" y="474.1" width="0.8" height="0.8" fill="#a0a8e0" opacity="0.7"/>
<rect x="169.5" y="481.3" width="0.8" height="0.8" fill="#a0a8e0" opacity="0.7"/>
<rect x="175.2" y="477.1" width="0.8" height="0.8" fill="#a0a8e0" opacity="0.7"/>
<rect x="183.6" y="468.3" width="0.8" height="0.8" fill="#a0a8e0" opacity="0.7"/>
<rect x="177.6" y="476.7" width="0.8" height="0.8" fill="#a0a8e0" opacity="0.7"/>
<rect x="174.9" y="477.9" width="0.8" height="0.8" fill="#a0a8e0" opacity="0.7"/>
<rect x="182.3" y="473.2" width="0.8" height="0.8" fill="#a0a8e0" opacity="0.7"/>
<rect x="189.0" y="475.6" width="0.8" height="0.8" fill="#a0a8e0" opacity="0.7"/>
<rect x="171.9" y="482.8" width="0.8" height="0.8" fill="#a0a8e0" opacity="0.7"/>
<rect x="184.6" y="474.5" width="0.8" height="0.8" fill="#a0a8e0" opacity="0.7"/>
<rect x="193.2" y="488.5" width="0.8" height="0.8" fill="#a0a8e0" opacity="0.7"/>
<rect x="181.4" y="482.0" width="0.8" height="0.8" fill="#a0a8e0" opacity="0.7"/>
<rect x="170.9" y="479.2" width="0.8" height="0.8" fill="#a0a8e0" opacity="0.7"/>
<rect x="171.9" y="469.2" width="0.8" height="0.8" fill="#a0a8e0" opacity="0.7"/>
<rect x="178.3" y="475.3" width="0.8" height="0.8" fill="#a0a8e0" opacity="0.7"/>
<text x="148.1" y="450.2" font-size="4.9" fill="#d63ab0">11</text>
<text x="207" y="450.2" font-size="4.9" text-anchor="end" fill="#d63ab0">75.8</text>
<text x="148.1" y="503.7" font-size="4.9" fill="#d63ab0">2.42</text>
<text x="207" y="503.7" font-size="4.9" text-anchor="end" fill="#d63ab0">10.8</text>
<text x="150.3" y="460.8" font-size="6.9" textLength="24.75" lengthAdjust="spacingAndGlyphs" fill="#222">11.2±3.9%</text>
<text x="176.5" y="439" font-size="7.8" text-anchor="middle" fill="#222">d3</text>
<line x1="211" y1="444" x2="263.8" y2="444" stroke="#555" stroke-width="0.9"/>
<line x1="211" y1="444" x2="211" y2="505.1" stroke="#555" stroke-width="0.9"/>
<line x1="272.8" y1="444" x2="272.8" y2="505.1" stroke="#555" stroke-width="0.9"/>
<line x1="211" y1="505.1" x2="272.8" y2="505.1" stroke="#555" stroke-width="0.9"/>
<line x1="211" y1="449" x2="212" y2="449" stroke="#777" stroke-width="0.5"/>
<line x1="216" y1="505.1" x2="216" y2="504.1" stroke="#777" stroke-width="0.5"/>
<line x1="211" y1="454" x2="212" y2="454" stroke="#777" stroke-width="0.5"/>
<line x1="221" y1="505.1" x2="221" y2="504.1" stroke="#777" stroke-width="0.5"/>
<line x1="211" y1="459" x2="212" y2="459" stroke="#777" stroke-width="0.5"/>
<line x1="226" y1="505.1" x2="226" y2="504.1" stroke="#777" stroke-width="0.5"/>
<line x1="211" y1="464" x2="212" y2="464" stroke="#777" stroke-width="0.5"/>
<line x1="231" y1="505.1" x2="231" y2="504.1" stroke="#777" stroke-width="0.5"/>
<line x1="211" y1="469" x2="212" y2="469" stroke="#777" stroke-width="0.5"/>
<line x1="236" y1="505.1" x2="236" y2="504.1" stroke="#777" stroke-width="0.5"/>
<line x1="211" y1="474" x2="212" y2="474" stroke="#777" stroke-width="0.5"/>
<line x1="241" y1="505.1" x2="241" y2="504.1" stroke="#777" stroke-width="0.5"/>
<line x1="211" y1="479" x2="212" y2="479" stroke="#777" stroke-width="0.5"/>
<line x1="246" y1="505.1" x2="246" y2="504.1" stroke="#777" stroke-width="0.5"/>
<line x1="211" y1="484" x2="212" y2="484" stroke="#777" stroke-width="0.5"/>
<line x1="251" y1="505.1" x2="251" y2="504.1" stroke="#777" stroke-width="0.5"/>
<line x1="211" y1="489" x2="212" y2="489" stroke="#777" stroke-width="0.5"/>
<line x1="256" y1="505.1" x2="256" y2="504.1" stroke="#777" stroke-width="0.5"/>
<line x1="211" y1="494" x2="212" y2="494" stroke="#777" stroke-width="0.5"/>
<line x1="261" y1="505.1" x2="261" y2="504.1" stroke="#777" stroke-width="0.5"/>
<line x1="211" y1="499" x2="212" y2="499" stroke="#777" stroke-width="0.5"/>
<line x1="266" y1="505.1" x2="266" y2="504.1" stroke="#777" stroke-width="0.5"/>
<line x1="241.9" y1="444" x2="241.9" y2="505.1" stroke="#c890d2" stroke-width="0.9"/>
<line x1="211" y1="478.9" x2="272.8" y2="478.9" stroke="#c890d2" stroke-width="0.9"/>
<g filter="url(#blur1)" transform="rotate(-16 252.6 475.6)">
<ellipse cx="252.6" cy="475.6" rx="10.639999999999999" ry="5.9" fill="#4a58c8" opacity="0.85"/>
<ellipse cx="252.9" cy="475.40000000000003" rx="8.17" ry="4.5" fill="#3b7fd0"/>
<ellipse cx="253.2" cy="475.3" rx="6.27" ry="3.5" fill="#38b0a0"/>
<ellipse cx="253.5" cy="475.20000000000005" rx="4.369999999999999" ry="2.5" fill="#90c848"/>
<ellipse cx="253.7" cy="475.1" rx="2.4699999999999998" ry="1.5" fill="#d8c038"/>
<ellipse cx="253.79999999999998" cy="475.1" rx="1.2" ry="0.8" fill="#e05a2a"/>
</g>
<rect x="259.8" y="479.0" width="0.8" height="0.8" fill="#5a60c8" opacity="0.85"/>
<rect x="245.5" y="477.2" width="0.8" height="0.8" fill="#7078d0" opacity="0.85"/>
<rect x="244.4" y="474.5" width="0.8" height="0.8" fill="#4050c0" opacity="0.85"/>
<rect x="242.2" y="475.5" width="0.8" height="0.8" fill="#8890d8" opacity="0.85"/>
<rect x="253.3" y="468.0" width="0.8" height="0.8" fill="#8890d8" opacity="0.85"/>
<rect x="258.8" y="472.4" width="0.8" height="0.8" fill="#8890d8" opacity="0.85"/>
<rect x="244.8" y="474.2" width="0.8" height="0.8" fill="#5a60c8" opacity="0.85"/>
<rect x="241.4" y="471.2" width="0.8" height="0.8" fill="#3050b8" opacity="0.85"/>
<rect x="239.5" y="474.2" width="0.8" height="0.8" fill="#3050b8" opacity="0.85"/>
<rect x="248.7" y="481.3" width="0.8" height="0.8" fill="#5a60c8" opacity="0.85"/>
<rect x="264.6" y="477.0" width="0.8" height="0.8" fill="#4050c0" opacity="0.85"/>
<rect x="240.3" y="474.1" width="0.8" height="0.8" fill="#5a60c8" opacity="0.85"/>
<rect x="262.1" y="477.7" width="0.8" height="0.8" fill="#7078d0" opacity="0.85"/>
<rect x="245.9" y="472.1" width="0.8" height="0.8" fill="#3050b8" opacity="0.85"/>
<rect x="248.5" y="480.0" width="0.8" height="0.8" fill="#4050c0" opacity="0.85"/>
<rect x="250.7" y="483.4" width="0.8" height="0.8" fill="#8890d8" opacity="0.85"/>
<rect x="256.5" y="470.9" width="0.8" height="0.8" fill="#4050c0" opacity="0.85"/>
<rect x="245.9" y="480.7" width="0.8" height="0.8" fill="#7078d0" opacity="0.85"/>
<rect x="260.0" y="471.5" width="0.8" height="0.8" fill="#3050b8" opacity="0.85"/>
<rect x="242.5" y="469.9" width="0.8" height="0.8" fill="#3050b8" opacity="0.85"/>
<rect x="245.1" y="476.9" width="0.8" height="0.8" fill="#3050b8" opacity="0.85"/>
<rect x="258.2" y="469.3" width="0.8" height="0.8" fill="#3050b8" opacity="0.85"/>
<rect x="244.5" y="474.5" width="0.8" height="0.8" fill="#4050c0" opacity="0.85"/>
<rect x="243.1" y="474.6" width="0.8" height="0.8" fill="#8890d8" opacity="0.85"/>
<rect x="257.3" y="481.4" width="0.8" height="0.8" fill="#7078d0" opacity="0.85"/>
<rect x="257.6" y="475.4" width="0.8" height="0.8" fill="#7078d0" opacity="0.85"/>
<rect x="246.8" y="471.4" width="0.8" height="0.8" fill="#3050b8" opacity="0.85"/>
<rect x="261.9" y="469.8" width="0.8" height="0.8" fill="#4050c0" opacity="0.85"/>
<rect x="243.1" y="480.5" width="0.8" height="0.8" fill="#5a60c8" opacity="0.85"/>
<rect x="259.3" y="479.9" width="0.8" height="0.8" fill="#4050c0" opacity="0.85"/>
<rect x="249.6" y="469.8" width="0.8" height="0.8" fill="#8890d8" opacity="0.85"/>
<rect x="254.6" y="477.5" width="0.8" height="0.8" fill="#7078d0" opacity="0.85"/>
<rect x="256.3" y="480.8" width="0.8" height="0.8" fill="#3050b8" opacity="0.85"/>
<rect x="253.6" y="470.9" width="0.8" height="0.8" fill="#3050b8" opacity="0.85"/>
<rect x="243.6" y="477.8" width="0.8" height="0.8" fill="#8890d8" opacity="0.85"/>
<rect x="241.9" y="472.5" width="0.8" height="0.8" fill="#3050b8" opacity="0.85"/>
<rect x="246.4" y="470.6" width="0.8" height="0.8" fill="#3050b8" opacity="0.85"/>
<rect x="257.3" y="478.4" width="0.8" height="0.8" fill="#4050c0" opacity="0.85"/>
<rect x="262.7" y="478.2" width="0.8" height="0.8" fill="#4050c0" opacity="0.85"/>
<rect x="245.0" y="481.7" width="0.8" height="0.8" fill="#8890d8" opacity="0.85"/>
<rect x="255.8" y="481.7" width="0.8" height="0.8" fill="#3050b8" opacity="0.85"/>
<rect x="253.7" y="479.8" width="0.8" height="0.8" fill="#5a60c8" opacity="0.85"/>
<rect x="243.7" y="474.2" width="0.8" height="0.8" fill="#3050b8" opacity="0.85"/>
<rect x="260.2" y="469.3" width="0.8" height="0.8" fill="#3050b8" opacity="0.85"/>
<rect x="260.0" y="475.6" width="0.8" height="0.8" fill="#8890d8" opacity="0.85"/>
<rect x="244.9" y="478.7" width="0.8" height="0.8" fill="#5a60c8" opacity="0.85"/>
<rect x="250.1" y="479.8" width="0.8" height="0.8" fill="#8890d8" opacity="0.85"/>
<rect x="249.8" y="471.1" width="0.8" height="0.8" fill="#3050b8" opacity="0.85"/>
<rect x="246.4" y="471.6" width="0.8" height="0.8" fill="#8890d8" opacity="0.85"/>
<rect x="264.4" y="474.3" width="0.8" height="0.8" fill="#5a60c8" opacity="0.85"/>
<rect x="245.1" y="481.4" width="0.8" height="0.8" fill="#3050b8" opacity="0.85"/>
<rect x="257.5" y="485.4" width="0.8" height="0.8" fill="#3050b8" opacity="0.85"/>
<rect x="247.2" y="480.0" width="0.8" height="0.8" fill="#5a60c8" opacity="0.85"/>
<rect x="259.5" y="476.3" width="0.8" height="0.8" fill="#7078d0" opacity="0.85"/>
<rect x="254.2" y="479.4" width="0.8" height="0.8" fill="#4050c0" opacity="0.85"/>
<rect x="246.2" y="479.4" width="0.8" height="0.8" fill="#8890d8" opacity="0.85"/>
<rect x="249.5" y="475.2" width="0.8" height="0.8" fill="#8890d8" opacity="0.85"/>
<rect x="263.5" y="474.4" width="0.8" height="0.8" fill="#4050c0" opacity="0.85"/>
<rect x="249.9" y="485.4" width="0.8" height="0.8" fill="#5a60c8" opacity="0.85"/>
<rect x="264.3" y="474.1" width="0.8" height="0.8" fill="#5a60c8" opacity="0.85"/>
<rect x="255.5" y="484.5" width="0.8" height="0.8" fill="#8890d8" opacity="0.85"/>
<rect x="254.2" y="469.0" width="0.8" height="0.8" fill="#7078d0" opacity="0.85"/>
<rect x="263.7" y="474.8" width="0.8" height="0.8" fill="#4050c0" opacity="0.85"/>
<rect x="260.1" y="472.2" width="0.8" height="0.8" fill="#8890d8" opacity="0.85"/>
<rect x="259.9" y="480.4" width="0.8" height="0.8" fill="#7078d0" opacity="0.85"/>
<rect x="238.7" y="475.0" width="0.8" height="0.8" fill="#4050c0" opacity="0.85"/>
<rect x="243.7" y="477.3" width="0.8" height="0.8" fill="#4050c0" opacity="0.85"/>
<rect x="259.7" y="469.3" width="0.8" height="0.8" fill="#7078d0" opacity="0.85"/>
<rect x="261.0" y="476.0" width="0.8" height="0.8" fill="#5a60c8" opacity="0.85"/>
<rect x="242.5" y="471.8" width="0.8" height="0.8" fill="#3050b8" opacity="0.85"/>
<rect x="260.5" y="474.6" width="0.8" height="0.8" fill="#7078d0" opacity="0.85"/>
<rect x="253.3" y="470.5" width="0.8" height="0.8" fill="#5a60c8" opacity="0.85"/>
<rect x="243.2" y="476.8" width="0.8" height="0.8" fill="#4050c0" opacity="0.85"/>
<rect x="260.0" y="474.7" width="0.8" height="0.8" fill="#8890d8" opacity="0.85"/>
<rect x="264.6" y="474.8" width="0.8" height="0.8" fill="#8890d8" opacity="0.85"/>
<rect x="263.4" y="473.3" width="0.8" height="0.8" fill="#5a60c8" opacity="0.85"/>
<rect x="249.6" y="485.7" width="0.8" height="0.8" fill="#8890d8" opacity="0.85"/>
<rect x="260.1" y="478.5" width="0.8" height="0.8" fill="#3050b8" opacity="0.85"/>
<rect x="243.6" y="474.6" width="0.8" height="0.8" fill="#7078d0" opacity="0.85"/>
<rect x="240.5" y="471.2" width="0.8" height="0.8" fill="#3050b8" opacity="0.85"/>
<rect x="265.2" y="474.8" width="0.8" height="0.8" fill="#8890d8" opacity="0.85"/>
<rect x="250.1" y="470.3" width="0.8" height="0.8" fill="#5a60c8" opacity="0.85"/>
<rect x="259.3" y="477.1" width="0.8" height="0.8" fill="#5a60c8" opacity="0.85"/>
<rect x="244.2" y="473.8" width="0.8" height="0.8" fill="#7078d0" opacity="0.85"/>
<rect x="243.8" y="471.0" width="0.8" height="0.8" fill="#5a60c8" opacity="0.85"/>
<rect x="261.3" y="470.6" width="0.8" height="0.8" fill="#3050b8" opacity="0.85"/>
<rect x="257.9" y="484.0" width="0.8" height="0.8" fill="#4050c0" opacity="0.85"/>
<rect x="257.0" y="471.7" width="0.8" height="0.8" fill="#8890d8" opacity="0.85"/>
<rect x="262.4" y="476.0" width="0.8" height="0.8" fill="#8890d8" opacity="0.85"/>
<rect x="253.0" y="482.2" width="0.8" height="0.8" fill="#8890d8" opacity="0.85"/>
<rect x="257.9" y="472.6" width="0.8" height="0.8" fill="#4050c0" opacity="0.85"/>
<rect x="244.2" y="475.0" width="0.8" height="0.8" fill="#4050c0" opacity="0.85"/>
<rect x="245.6" y="478.5" width="0.8" height="0.8" fill="#7078d0" opacity="0.85"/>
<rect x="248.0" y="481.8" width="0.8" height="0.8" fill="#8890d8" opacity="0.85"/>
<rect x="251.5" y="480.9" width="0.8" height="0.8" fill="#4050c0" opacity="0.85"/>
<rect x="253.7" y="479.4" width="0.8" height="0.8" fill="#4050c0" opacity="0.85"/>
<rect x="241.9" y="477.3" width="0.8" height="0.8" fill="#4050c0" opacity="0.85"/>
<rect x="246.1" y="470.4" width="0.8" height="0.8" fill="#3050b8" opacity="0.85"/>
<rect x="248.4" y="477.7" width="0.8" height="0.8" fill="#5a60c8" opacity="0.85"/>
<rect x="262.2" y="480.1" width="0.8" height="0.8" fill="#4050c0" opacity="0.85"/>
<rect x="247.0" y="477.5" width="0.8" height="0.8" fill="#3050b8" opacity="0.85"/>
<rect x="241.2" y="472.6" width="0.8" height="0.8" fill="#5a60c8" opacity="0.85"/>
<rect x="250.3" y="482.4" width="0.8" height="0.8" fill="#7078d0" opacity="0.85"/>
<rect x="262.1" y="470.0" width="0.8" height="0.8" fill="#7078d0" opacity="0.85"/>
<rect x="247.4" y="471.2" width="0.8" height="0.8" fill="#8890d8" opacity="0.85"/>
<rect x="250.7" y="470.2" width="0.8" height="0.8" fill="#5a60c8" opacity="0.85"/>
<rect x="251.8" y="479.5" width="0.8" height="0.8" fill="#8890d8" opacity="0.85"/>
<rect x="256.8" y="484.9" width="0.8" height="0.8" fill="#4050c0" opacity="0.85"/>
<rect x="246.3" y="478.1" width="0.8" height="0.8" fill="#3050b8" opacity="0.85"/>
<rect x="244.6" y="480.8" width="0.8" height="0.8" fill="#5a60c8" opacity="0.85"/>
<rect x="253.1" y="470.4" width="0.8" height="0.8" fill="#7078d0" opacity="0.85"/>
<rect x="244.9" y="479.1" width="0.8" height="0.8" fill="#5a60c8" opacity="0.85"/>
<rect x="249.8" y="470.6" width="0.8" height="0.8" fill="#7078d0" opacity="0.85"/>
<rect x="252.8" y="468.8" width="0.8" height="0.8" fill="#7078d0" opacity="0.85"/>
<rect x="264.8" y="476.8" width="0.8" height="0.8" fill="#4050c0" opacity="0.85"/>
<rect x="243.8" y="478.7" width="0.8" height="0.8" fill="#3050b8" opacity="0.85"/>
<rect x="256.6" y="470.6" width="0.8" height="0.8" fill="#7078d0" opacity="0.85"/>
<rect x="249.7" y="468.6" width="0.8" height="0.8" fill="#5a60c8" opacity="0.85"/>
<rect x="260.9" y="476.1" width="0.8" height="0.8" fill="#3050b8" opacity="0.85"/>
<rect x="258.5" y="480.2" width="0.8" height="0.8" fill="#4050c0" opacity="0.85"/>
<rect x="251.9" y="480.3" width="0.8" height="0.8" fill="#4050c0" opacity="0.85"/>
<rect x="259.2" y="471.7" width="0.8" height="0.8" fill="#8890d8" opacity="0.85"/>
<rect x="247.5" y="481.8" width="0.8" height="0.8" fill="#7078d0" opacity="0.85"/>
<rect x="257.3" y="472.0" width="0.8" height="0.8" fill="#8890d8" opacity="0.85"/>
<rect x="259.8" y="483.1" width="0.8" height="0.8" fill="#3050b8" opacity="0.85"/>
<rect x="244.5" y="475.9" width="0.8" height="0.8" fill="#7078d0" opacity="0.85"/>
<rect x="251.7" y="482.7" width="0.8" height="0.8" fill="#3050b8" opacity="0.85"/>
<rect x="259.7" y="474.1" width="0.8" height="0.8" fill="#3050b8" opacity="0.85"/>
<rect x="245.3" y="469.8" width="0.8" height="0.8" fill="#7078d0" opacity="0.85"/>
<rect x="257.9" y="478.9" width="0.8" height="0.8" fill="#7078d0" opacity="0.85"/>
<rect x="256.6" y="479.2" width="0.8" height="0.8" fill="#8890d8" opacity="0.85"/>
<rect x="256.2" y="468.3" width="0.8" height="0.8" fill="#4050c0" opacity="0.85"/>
<rect x="257.2" y="471.6" width="0.8" height="0.8" fill="#4050c0" opacity="0.85"/>
<rect x="245.4" y="472.7" width="0.8" height="0.8" fill="#7078d0" opacity="0.85"/>
<rect x="246.1" y="479.7" width="0.8" height="0.8" fill="#5a60c8" opacity="0.85"/>
<rect x="254.7" y="470.9" width="0.8" height="0.8" fill="#4050c0" opacity="0.85"/>
<rect x="258.9" y="469.6" width="0.8" height="0.8" fill="#7078d0" opacity="0.85"/>
<rect x="259.2" y="481.3" width="0.8" height="0.8" fill="#8890d8" opacity="0.85"/>
<rect x="245.8" y="468.5" width="0.8" height="0.8" fill="#4050c0" opacity="0.85"/>
<rect x="245.2" y="477.3" width="0.8" height="0.8" fill="#5a60c8" opacity="0.85"/>
<rect x="241.1" y="472.7" width="0.8" height="0.8" fill="#5a60c8" opacity="0.85"/>
<rect x="240.4" y="472.3" width="0.8" height="0.8" fill="#5a60c8" opacity="0.85"/>
<rect x="240.8" y="477.7" width="0.8" height="0.8" fill="#5a60c8" opacity="0.85"/>
<rect x="241.4" y="474.6" width="0.8" height="0.8" fill="#5a60c8" opacity="0.85"/>
<rect x="239.8" y="474.9" width="0.8" height="0.8" fill="#7078d0" opacity="0.85"/>
<rect x="244.7" y="474.4" width="0.8" height="0.8" fill="#5a60c8" opacity="0.85"/>
<rect x="245.1" y="478.0" width="0.8" height="0.8" fill="#4050c0" opacity="0.85"/>
<rect x="255.1" y="479.7" width="0.8" height="0.8" fill="#4050c0" opacity="0.85"/>
<rect x="262.7" y="478.6" width="0.8" height="0.8" fill="#5a60c8" opacity="0.85"/>
<rect x="251.1" y="480.0" width="0.8" height="0.8" fill="#5a60c8" opacity="0.85"/>
<rect x="257.2" y="484.2" width="0.8" height="0.8" fill="#3050b8" opacity="0.85"/>
<rect x="248.7" y="470.5" width="0.8" height="0.8" fill="#3050b8" opacity="0.85"/>
<rect x="256.7" y="481.0" width="0.8" height="0.8" fill="#3050b8" opacity="0.85"/>
<rect x="261.8" y="474.4" width="0.8" height="0.8" fill="#5a60c8" opacity="0.85"/>
<rect x="251.1" y="469.4" width="0.8" height="0.8" fill="#3050b8" opacity="0.85"/>
<rect x="242.0" y="473.6" width="0.8" height="0.8" fill="#4050c0" opacity="0.85"/>
<rect x="254.7" y="470.8" width="0.8" height="0.8" fill="#4050c0" opacity="0.85"/>
<rect x="244.6" y="474.5" width="0.8" height="0.8" fill="#7078d0" opacity="0.85"/>
<rect x="241.2" y="473.1" width="0.8" height="0.8" fill="#5a60c8" opacity="0.85"/>
<rect x="259.7" y="477.9" width="0.8" height="0.8" fill="#4050c0" opacity="0.85"/>
<rect x="263.2" y="474.6" width="0.8" height="0.8" fill="#8890d8" opacity="0.85"/>
<rect x="247.6" y="480.8" width="0.8" height="0.8" fill="#7078d0" opacity="0.85"/>
<rect x="259.0" y="470.9" width="0.8" height="0.8" fill="#8890d8" opacity="0.85"/>
<rect x="259.7" y="478.1" width="0.8" height="0.8" fill="#8890d8" opacity="0.85"/>
<rect x="253.3" y="470.6" width="0.8" height="0.8" fill="#7078d0" opacity="0.85"/>
<rect x="242.7" y="470.8" width="0.8" height="0.8" fill="#5a60c8" opacity="0.85"/>
<rect x="240.6" y="476.6" width="0.8" height="0.8" fill="#8890d8" opacity="0.85"/>
<rect x="251.1" y="479.8" width="0.8" height="0.8" fill="#4050c0" opacity="0.85"/>
<rect x="261.6" y="483.1" width="0.8" height="0.8" fill="#5a60c8" opacity="0.85"/>
<rect x="259.7" y="468.7" width="0.8" height="0.8" fill="#7078d0" opacity="0.85"/>
<rect x="261.0" y="474.1" width="0.8" height="0.8" fill="#5a60c8" opacity="0.85"/>
<rect x="246.8" y="478.3" width="0.8" height="0.8" fill="#8890d8" opacity="0.85"/>
<rect x="251.1" y="481.4" width="0.8" height="0.8" fill="#7078d0" opacity="0.85"/>
<rect x="245.1" y="477.1" width="0.8" height="0.8" fill="#5a60c8" opacity="0.85"/>
<rect x="251.7" y="481.7" width="0.8" height="0.8" fill="#7078d0" opacity="0.85"/>
<rect x="250.2" y="481.1" width="0.8" height="0.8" fill="#5a60c8" opacity="0.85"/>
<rect x="251.7" y="479.9" width="0.8" height="0.8" fill="#5a60c8" opacity="0.85"/>
<rect x="256.0" y="479.1" width="0.8" height="0.8" fill="#8890d8" opacity="0.85"/>
<rect x="248.7" y="479.5" width="0.8" height="0.8" fill="#4050c0" opacity="0.85"/>
<rect x="248.0" y="472.0" width="0.8" height="0.8" fill="#5a60c8" opacity="0.85"/>
<rect x="247.0" y="481.0" width="0.8" height="0.8" fill="#3050b8" opacity="0.85"/>
<rect x="248.0" y="479.0" width="0.8" height="0.8" fill="#5a60c8" opacity="0.85"/>
<rect x="249.1" y="469.6" width="0.8" height="0.8" fill="#4050c0" opacity="0.85"/>
<rect x="258.2" y="476.2" width="0.8" height="0.8" fill="#3050b8" opacity="0.85"/>
<rect x="246.9" y="471.6" width="0.8" height="0.8" fill="#7078d0" opacity="0.85"/>
<rect x="246.5" y="471.7" width="0.8" height="0.8" fill="#4050c0" opacity="0.85"/>
<rect x="247.4" y="471.8" width="0.8" height="0.8" fill="#3050b8" opacity="0.85"/>
<rect x="257.8" y="478.5" width="0.8" height="0.8" fill="#4050c0" opacity="0.85"/>
<rect x="240.5" y="479.3" width="0.8" height="0.8" fill="#7078d0" opacity="0.85"/>
<rect x="262.4" y="477.2" width="0.8" height="0.8" fill="#7078d0" opacity="0.85"/>
<rect x="245.5" y="479.0" width="0.8" height="0.8" fill="#4050c0" opacity="0.85"/>
<rect x="244.8" y="482.5" width="0.8" height="0.8" fill="#3050b8" opacity="0.85"/>
<rect x="259.8" y="473.1" width="0.8" height="0.8" fill="#4050c0" opacity="0.85"/>
<rect x="256.6" y="478.7" width="0.8" height="0.8" fill="#7078d0" opacity="0.85"/>
<rect x="250.5" y="480.0" width="0.8" height="0.8" fill="#7078d0" opacity="0.85"/>
<rect x="254.3" y="480.7" width="0.8" height="0.8" fill="#3050b8" opacity="0.85"/>
<rect x="244.1" y="475.5" width="0.8" height="0.8" fill="#3050b8" opacity="0.85"/>
<rect x="242.3" y="476.8" width="0.8" height="0.8" fill="#8890d8" opacity="0.85"/>
<rect x="241.2" y="475.0" width="0.8" height="0.8" fill="#4050c0" opacity="0.85"/>
<rect x="247.9" y="483.5" width="0.8" height="0.8" fill="#4050c0" opacity="0.85"/>
<rect x="255.7" y="472.0" width="0.8" height="0.8" fill="#a0a8e0" opacity="0.7"/>
<rect x="247.2" y="477.8" width="0.8" height="0.8" fill="#a0a8e0" opacity="0.7"/>
<rect x="255.7" y="484.7" width="0.8" height="0.8" fill="#a0a8e0" opacity="0.7"/>
<rect x="252.0" y="464.7" width="0.8" height="0.8" fill="#a0a8e0" opacity="0.7"/>
<rect x="258.7" y="483.0" width="0.8" height="0.8" fill="#a0a8e0" opacity="0.7"/>
<rect x="258.2" y="480.5" width="0.8" height="0.8" fill="#a0a8e0" opacity="0.7"/>
<rect x="253.1" y="469.3" width="0.8" height="0.8" fill="#a0a8e0" opacity="0.7"/>
<rect x="253.8" y="474.9" width="0.8" height="0.8" fill="#a0a8e0" opacity="0.7"/>
<rect x="269.4" y="477.3" width="0.8" height="0.8" fill="#a0a8e0" opacity="0.7"/>
<rect x="247.0" y="474.7" width="0.8" height="0.8" fill="#a0a8e0" opacity="0.7"/>
<rect x="252.2" y="477.8" width="0.8" height="0.8" fill="#a0a8e0" opacity="0.7"/>
<rect x="258.5" y="473.8" width="0.8" height="0.8" fill="#a0a8e0" opacity="0.7"/>
<rect x="250.5" y="468.2" width="0.8" height="0.8" fill="#a0a8e0" opacity="0.7"/>
<rect x="266.2" y="472.1" width="0.8" height="0.8" fill="#a0a8e0" opacity="0.7"/>
<rect x="250.8" y="476.7" width="0.8" height="0.8" fill="#a0a8e0" opacity="0.7"/>
<rect x="256.1" y="474.2" width="0.8" height="0.8" fill="#a0a8e0" opacity="0.7"/>
<rect x="243.7" y="475.3" width="0.8" height="0.8" fill="#a0a8e0" opacity="0.7"/>
<rect x="262.7" y="471.5" width="0.8" height="0.8" fill="#a0a8e0" opacity="0.7"/>
<rect x="250.0" y="481.9" width="0.8" height="0.8" fill="#a0a8e0" opacity="0.7"/>
<rect x="252.5" y="474.1" width="0.8" height="0.8" fill="#a0a8e0" opacity="0.7"/>
<rect x="259.3" y="471.9" width="0.8" height="0.8" fill="#a0a8e0" opacity="0.7"/>
<rect x="254.1" y="475.1" width="0.8" height="0.8" fill="#a0a8e0" opacity="0.7"/>
<rect x="254.7" y="476.2" width="0.8" height="0.8" fill="#a0a8e0" opacity="0.7"/>
<rect x="258.8" y="473.0" width="0.8" height="0.8" fill="#a0a8e0" opacity="0.7"/>
<rect x="253.0" y="480.6" width="0.8" height="0.8" fill="#a0a8e0" opacity="0.7"/>
<rect x="256.8" y="476.0" width="0.8" height="0.8" fill="#a0a8e0" opacity="0.7"/>
<rect x="248.5" y="481.4" width="0.8" height="0.8" fill="#a0a8e0" opacity="0.7"/>
<rect x="237.4" y="471.8" width="0.8" height="0.8" fill="#a0a8e0" opacity="0.7"/>
<rect x="264.9" y="476.4" width="0.8" height="0.8" fill="#a0a8e0" opacity="0.7"/>
<rect x="260.9" y="470.0" width="0.8" height="0.8" fill="#a0a8e0" opacity="0.7"/>
<rect x="253.5" y="467.7" width="0.8" height="0.8" fill="#a0a8e0" opacity="0.7"/>
<rect x="248.6" y="476.9" width="0.8" height="0.8" fill="#a0a8e0" opacity="0.7"/>
<rect x="261.4" y="470.9" width="0.8" height="0.8" fill="#a0a8e0" opacity="0.7"/>
<rect x="250.6" y="476.0" width="0.8" height="0.8" fill="#a0a8e0" opacity="0.7"/>
<rect x="258.8" y="480.5" width="0.8" height="0.8" fill="#a0a8e0" opacity="0.7"/>
<rect x="252.0" y="475.9" width="0.8" height="0.8" fill="#a0a8e0" opacity="0.7"/>
<rect x="239.9" y="479.9" width="0.8" height="0.8" fill="#a0a8e0" opacity="0.7"/>
<rect x="264.4" y="476.1" width="0.8" height="0.8" fill="#a0a8e0" opacity="0.7"/>
<rect x="252.9" y="481.6" width="0.8" height="0.8" fill="#a0a8e0" opacity="0.7"/>
<rect x="246.0" y="473.8" width="0.8" height="0.8" fill="#a0a8e0" opacity="0.7"/>
<rect x="256.4" y="479.8" width="0.8" height="0.8" fill="#a0a8e0" opacity="0.7"/>
<rect x="252.1" y="465.8" width="0.8" height="0.8" fill="#a0a8e0" opacity="0.7"/>
<rect x="247.6" y="471.1" width="0.8" height="0.8" fill="#a0a8e0" opacity="0.7"/>
<rect x="251.6" y="486.0" width="0.8" height="0.8" fill="#a0a8e0" opacity="0.7"/>
<rect x="259.6" y="475.3" width="0.8" height="0.8" fill="#a0a8e0" opacity="0.7"/>
<rect x="246.8" y="477.1" width="0.8" height="0.8" fill="#a0a8e0" opacity="0.7"/>
<rect x="249.3" y="484.0" width="0.8" height="0.8" fill="#a0a8e0" opacity="0.7"/>
<rect x="242.5" y="476.2" width="0.8" height="0.8" fill="#a0a8e0" opacity="0.7"/>
<rect x="254.5" y="473.4" width="0.8" height="0.8" fill="#a0a8e0" opacity="0.7"/>
<rect x="257.9" y="474.3" width="0.8" height="0.8" fill="#a0a8e0" opacity="0.7"/>
<rect x="250.3" y="477.8" width="0.8" height="0.8" fill="#a0a8e0" opacity="0.7"/>
<rect x="244.5" y="472.9" width="0.8" height="0.8" fill="#a0a8e0" opacity="0.7"/>
<rect x="256.4" y="474.9" width="0.8" height="0.8" fill="#a0a8e0" opacity="0.7"/>
<rect x="238.4" y="478.7" width="0.8" height="0.8" fill="#a0a8e0" opacity="0.7"/>
<rect x="248.0" y="480.1" width="0.8" height="0.8" fill="#a0a8e0" opacity="0.7"/>
<rect x="252.2" y="482.7" width="0.8" height="0.8" fill="#a0a8e0" opacity="0.7"/>
<rect x="249.2" y="473.6" width="0.8" height="0.8" fill="#a0a8e0" opacity="0.7"/>
<rect x="248.3" y="480.8" width="0.8" height="0.8" fill="#a0a8e0" opacity="0.7"/>
<rect x="262.4" y="479.2" width="0.8" height="0.8" fill="#a0a8e0" opacity="0.7"/>
<rect x="257.0" y="471.4" width="0.8" height="0.8" fill="#a0a8e0" opacity="0.7"/>
<rect x="239.8" y="473.3" width="0.8" height="0.8" fill="#a0a8e0" opacity="0.7"/>
<rect x="265.4" y="481.2" width="0.8" height="0.8" fill="#a0a8e0" opacity="0.7"/>
<rect x="256.1" y="482.9" width="0.8" height="0.8" fill="#a0a8e0" opacity="0.7"/>
<rect x="252.8" y="474.1" width="0.8" height="0.8" fill="#a0a8e0" opacity="0.7"/>
<rect x="269.7" y="478.1" width="0.8" height="0.8" fill="#a0a8e0" opacity="0.7"/>
<rect x="254.0" y="484.6" width="0.8" height="0.8" fill="#a0a8e0" opacity="0.7"/>
<rect x="251.6" y="473.2" width="0.8" height="0.8" fill="#a0a8e0" opacity="0.7"/>
<rect x="241.4" y="475.0" width="0.8" height="0.8" fill="#a0a8e0" opacity="0.7"/>
<rect x="245.5" y="472.5" width="0.8" height="0.8" fill="#a0a8e0" opacity="0.7"/>
<rect x="258.6" y="472.8" width="0.8" height="0.8" fill="#a0a8e0" opacity="0.7"/>
<text x="212.6" y="450" font-size="4.9" fill="#d63ab0">1.16</text>
<text x="271.6" y="450" font-size="4.9" text-anchor="end" fill="#d63ab0">87.9</text>
<text x="212.6" y="503.6" font-size="4.9" fill="#d63ab0">0.353</text>
<text x="271.6" y="503.6" font-size="4.9" text-anchor="end" fill="#d63ab0">10.6</text>
<text x="214.2" y="460.6" font-size="6.9" textLength="27.5" lengthAdjust="spacingAndGlyphs" fill="#222">1.75±0.33%</text>
<text x="227.6" y="468.6" font-size="6.4" text-anchor="middle" fill="#222">**</text>
<text x="240.3" y="438.8" font-size="7.8" text-anchor="middle" fill="#222">d4</text>
<path d="M12.4,513.2 L12.4,470.5 M12.4,513.2 L223.5,513.2" stroke="#222" stroke-width="1.1" fill="none"/>
<path d="M12.4,466.8 L10.5,471.6 L14.3,471.6 Z" fill="#222"/>
<path d="M227,513.2 L222.2,511.3 L222.2,515.1 Z" fill="#222"/>
<text transform="translate(14,457.1) rotate(-90)" font-size="7.4" text-anchor="middle" fill="#222" textLength="12.6" lengthAdjust="spacingAndGlyphs">c-Kit</text>
<text x="231.4" y="516.2" font-size="8.2" textLength="21" lengthAdjust="spacingAndGlyphs" fill="#222">CD11b</text>
<rect x="0.5" y="0.5" width="519" height="522" fill="none" stroke="#000" stroke-width="1.2"/>
</svg>
</body></html>
